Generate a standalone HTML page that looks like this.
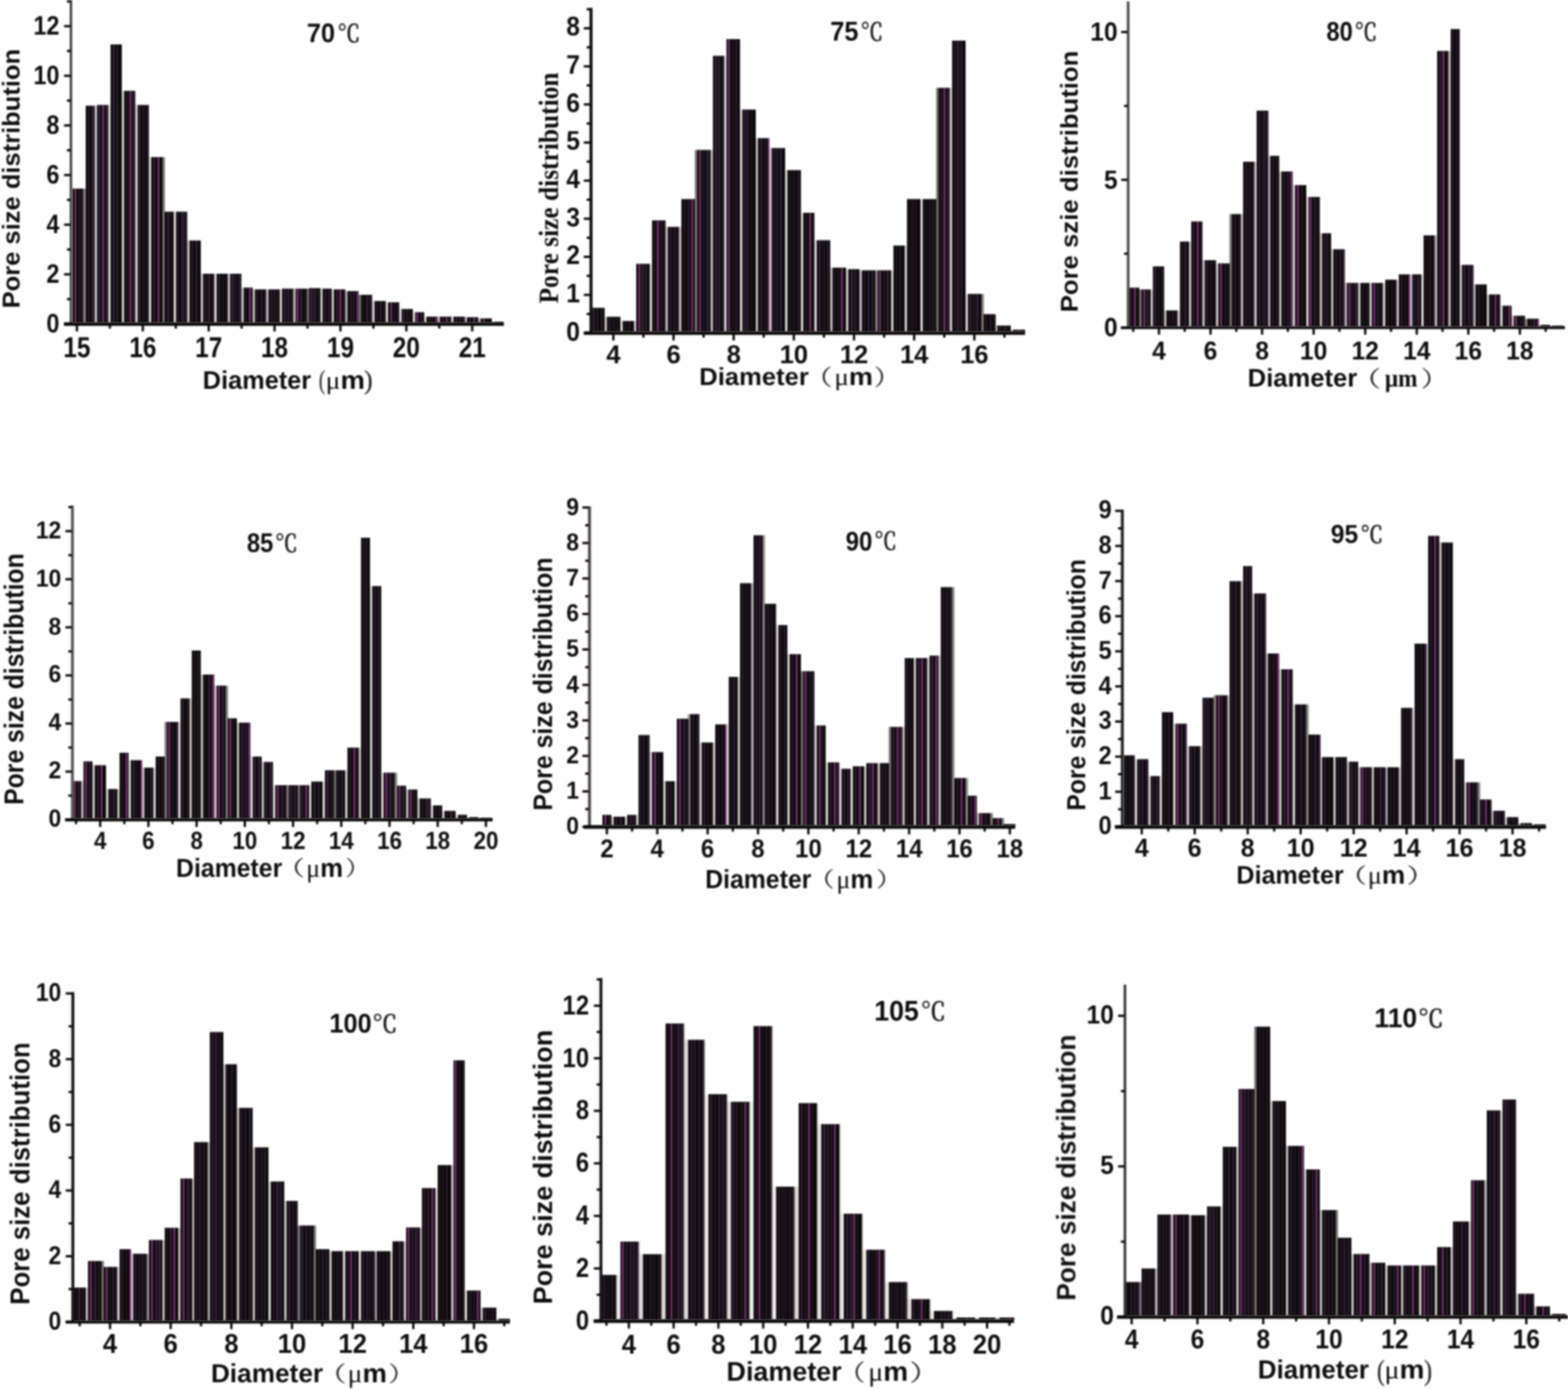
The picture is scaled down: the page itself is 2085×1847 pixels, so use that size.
<!DOCTYPE html>
<html lang="en">
<head>
<meta charset="utf-8">
<title>Pore size distribution at 70-110 &#8451;</title>
<style>
html,body{margin:0;padding:0;background:#fff;}
body{width:2085px;height:1847px;overflow:hidden;font-family:"Liberation Sans","Noto Sans CJK SC",sans-serif;}
svg{display:block;}
svg text{white-space:pre;}
</style>
</head>
<body>
<svg width="2085" height="1847" viewBox="0 0 2085 1847" text-rendering="geometricPrecision">
<defs>
<filter id="soft" filterUnits="userSpaceOnUse" x="0" y="0" width="2085" height="1847" color-interpolation-filters="sRGB"><feGaussianBlur stdDeviation="0.82"/></filter>
<filter id="softer" filterUnits="userSpaceOnUse" x="0" y="0" width="2085" height="1847" color-interpolation-filters="sRGB"><feGaussianBlur stdDeviation="0.85"/></filter>
</defs>
<rect x="0" y="0" width="2085" height="1847" fill="#ffffff"/>
<g filter="url(#soft)">
<g id="bars1">
<rect x="110.80" y="250.81" width="3.40" height="178.49" fill="#8c8987"/>
<rect x="125.80" y="140.59" width="3.40" height="288.71" fill="#cfccca"/>
<rect x="143.80" y="139.60" width="3.40" height="289.70" fill="#e3e0de"/>
<rect x="161.80" y="120.79" width="3.40" height="308.51" fill="#dad7d5"/>
<rect x="179.80" y="139.60" width="3.40" height="289.70" fill="#dad7d5"/>
<rect x="197.80" y="208.90" width="3.40" height="220.40" fill="#e3e0de"/>
<rect x="215.80" y="208.90" width="3.40" height="220.40" fill="#75726f"/>
<rect x="230.80" y="281.50" width="3.40" height="147.80" fill="#e3e0de"/>
<rect x="248.80" y="319.78" width="3.40" height="109.52" fill="#cfccca"/>
<rect x="266.80" y="364.00" width="3.40" height="65.30" fill="#cfccca"/>
<rect x="284.80" y="364.00" width="3.40" height="65.30" fill="#e3e0de"/>
<rect x="302.80" y="364.00" width="3.40" height="65.30" fill="#c6c3c1"/>
<rect x="320.80" y="382.48" width="3.40" height="46.82" fill="#cfccca"/>
<rect x="335.80" y="384.79" width="3.40" height="44.51" fill="#c6c3c1"/>
<rect x="353.80" y="384.79" width="3.40" height="44.51" fill="#c6c3c1"/>
<rect x="371.80" y="384.79" width="3.40" height="44.51" fill="#dad7d5"/>
<rect x="389.80" y="383.80" width="3.40" height="45.50" fill="#c6c3c1"/>
<rect x="407.80" y="383.80" width="3.40" height="45.50" fill="#75726f"/>
<rect x="425.80" y="383.80" width="3.40" height="45.50" fill="#cfccca"/>
<rect x="440.80" y="384.79" width="3.40" height="44.51" fill="#cfccca"/>
<rect x="458.80" y="387.10" width="3.40" height="42.20" fill="#c6c3c1"/>
<rect x="476.80" y="392.05" width="3.40" height="37.25" fill="#75726f"/>
<rect x="494.80" y="400.30" width="3.40" height="29.00" fill="#dad7d5"/>
<rect x="512.80" y="401.95" width="3.40" height="27.35" fill="#e3e0de"/>
<rect x="530.80" y="410.86" width="3.40" height="18.44" fill="#e3e0de"/>
<rect x="548.80" y="415.15" width="3.40" height="14.15" fill="#e3e0de"/>
<rect x="563.80" y="421.09" width="3.40" height="8.21" fill="#e3e0de"/>
<rect x="581.80" y="421.09" width="3.40" height="8.21" fill="#c6c3c1"/>
<rect x="599.80" y="421.09" width="3.40" height="8.21" fill="#dad7d5"/>
<rect x="617.80" y="421.75" width="3.40" height="7.55" fill="#c6c3c1"/>
<rect x="635.80" y="423.40" width="3.40" height="5.90" fill="#c6c3c1"/>
<rect x="653.80" y="428.02" width="3.40" height="1.28" fill="#c6c3c1"/>
<rect x="96.00" y="250.81" width="15.00" height="178.49" fill="#0b090a"/>
<rect x="99.04" y="251.31" width="2.20" height="177.99" fill="#85367f"/>
<rect x="104.32" y="251.31" width="2.20" height="177.99" fill="#2a1a2c"/>
<rect x="108.61" y="251.31" width="2.20" height="177.99" fill="#33203a"/>
<rect x="114.00" y="140.59" width="12.00" height="288.71" fill="#0b090a"/>
<rect x="116.85" y="141.09" width="2.20" height="288.21" fill="#2a1a2c"/>
<rect x="122.09" y="141.09" width="2.80" height="288.21" fill="#3b2340"/>
<rect x="129.00" y="139.60" width="15.00" height="289.70" fill="#0b090a"/>
<rect x="130.62" y="140.10" width="2.80" height="289.20" fill="#33203a"/>
<rect x="135.97" y="140.10" width="2.20" height="289.20" fill="#85367f"/>
<rect x="140.51" y="140.10" width="2.20" height="289.20" fill="#33203a"/>
<rect x="147.00" y="59.08" width="15.00" height="370.22" fill="#0b090a"/>
<rect x="149.74" y="59.58" width="2.80" height="369.72" fill="#33203a"/>
<rect x="155.06" y="59.58" width="1.80" height="369.72" fill="#33203a"/>
<rect x="165.00" y="120.79" width="15.00" height="308.51" fill="#0b090a"/>
<rect x="168.00" y="121.29" width="1.80" height="308.01" fill="#2a1a2c"/>
<rect x="172.35" y="121.29" width="2.20" height="308.01" fill="#85367f"/>
<rect x="176.77" y="121.29" width="2.80" height="308.01" fill="#33203a"/>
<rect x="183.00" y="139.60" width="15.00" height="289.70" fill="#0b090a"/>
<rect x="184.71" y="140.10" width="2.20" height="289.20" fill="#33203a"/>
<rect x="189.77" y="140.10" width="2.20" height="289.20" fill="#241720"/>
<rect x="194.52" y="140.10" width="2.20" height="289.20" fill="#2a1a2c"/>
<rect x="201.00" y="208.90" width="15.00" height="220.40" fill="#0b090a"/>
<rect x="203.97" y="209.40" width="2.20" height="219.90" fill="#33203a"/>
<rect x="209.66" y="209.40" width="2.20" height="219.90" fill="#85367f"/>
<rect x="219.00" y="281.50" width="12.00" height="147.80" fill="#0b090a"/>
<rect x="222.17" y="282.00" width="2.80" height="147.30" fill="#33203a"/>
<rect x="226.67" y="282.00" width="1.80" height="147.30" fill="#241720"/>
<rect x="234.00" y="281.50" width="15.00" height="147.80" fill="#0b090a"/>
<rect x="235.60" y="282.00" width="1.80" height="147.30" fill="#33203a"/>
<rect x="241.39" y="282.00" width="2.80" height="147.30" fill="#3b2340"/>
<rect x="245.96" y="282.00" width="1.80" height="147.30" fill="#33203a"/>
<rect x="252.00" y="319.78" width="15.00" height="109.52" fill="#0b090a"/>
<rect x="254.63" y="320.28" width="1.80" height="109.02" fill="#33203a"/>
<rect x="260.14" y="320.28" width="2.20" height="109.02" fill="#3b2340"/>
<rect x="270.00" y="364.00" width="15.00" height="65.30" fill="#0b090a"/>
<rect x="272.31" y="364.50" width="1.80" height="64.80" fill="#33203a"/>
<rect x="276.55" y="364.50" width="2.80" height="64.80" fill="#3b2340"/>
<rect x="282.10" y="364.50" width="2.80" height="64.80" fill="#2a1a2c"/>
<rect x="288.00" y="364.00" width="15.00" height="65.30" fill="#0b090a"/>
<rect x="290.72" y="364.50" width="1.80" height="64.80" fill="#3b2340"/>
<rect x="295.73" y="364.50" width="1.80" height="64.80" fill="#241720"/>
<rect x="300.54" y="364.50" width="2.20" height="64.80" fill="#2a1a2c"/>
<rect x="306.00" y="364.00" width="15.00" height="65.30" fill="#0b090a"/>
<rect x="307.86" y="364.50" width="2.80" height="64.80" fill="#3b2340"/>
<rect x="312.17" y="364.50" width="2.20" height="64.80" fill="#2a1a2c"/>
<rect x="317.07" y="364.50" width="2.80" height="64.80" fill="#33203a"/>
<rect x="324.00" y="382.48" width="12.00" height="46.82" fill="#0b090a"/>
<rect x="325.80" y="382.98" width="1.80" height="46.32" fill="#241720"/>
<rect x="331.29" y="382.98" width="2.20" height="46.32" fill="#85367f"/>
<rect x="339.00" y="384.79" width="15.00" height="44.51" fill="#0b090a"/>
<rect x="341.16" y="385.29" width="1.80" height="44.01" fill="#33203a"/>
<rect x="346.81" y="385.29" width="2.20" height="44.01" fill="#33203a"/>
<rect x="351.92" y="385.29" width="2.20" height="44.01" fill="#33203a"/>
<rect x="357.00" y="384.79" width="15.00" height="44.51" fill="#0b090a"/>
<rect x="359.07" y="385.29" width="2.80" height="44.01" fill="#2a1a2c"/>
<rect x="363.49" y="385.29" width="2.80" height="44.01" fill="#2a1a2c"/>
<rect x="367.97" y="385.29" width="2.20" height="44.01" fill="#241720"/>
<rect x="375.00" y="383.80" width="15.00" height="45.50" fill="#0b090a"/>
<rect x="377.77" y="384.30" width="2.20" height="45.00" fill="#3b2340"/>
<rect x="382.15" y="384.30" width="2.20" height="45.00" fill="#3b2340"/>
<rect x="386.72" y="384.30" width="2.20" height="45.00" fill="#2a1a2c"/>
<rect x="393.00" y="383.80" width="15.00" height="45.50" fill="#0b090a"/>
<rect x="394.62" y="384.30" width="2.20" height="45.00" fill="#85367f"/>
<rect x="399.02" y="384.30" width="2.80" height="45.00" fill="#33203a"/>
<rect x="404.40" y="384.30" width="2.20" height="45.00" fill="#241720"/>
<rect x="411.00" y="383.14" width="15.00" height="46.16" fill="#0b090a"/>
<rect x="412.68" y="383.64" width="2.80" height="45.66" fill="#3b2340"/>
<rect x="416.92" y="383.64" width="2.80" height="45.66" fill="#33203a"/>
<rect x="422.22" y="383.64" width="1.80" height="45.66" fill="#2a1a2c"/>
<rect x="429.00" y="383.80" width="12.00" height="45.50" fill="#0b090a"/>
<rect x="431.71" y="384.30" width="2.20" height="45.00" fill="#33203a"/>
<rect x="436.92" y="384.30" width="1.80" height="45.00" fill="#3b2340"/>
<rect x="444.00" y="384.79" width="15.00" height="44.51" fill="#0b090a"/>
<rect x="446.99" y="385.29" width="2.20" height="44.01" fill="#33203a"/>
<rect x="451.44" y="385.29" width="2.20" height="44.01" fill="#85367f"/>
<rect x="456.59" y="385.29" width="2.80" height="44.01" fill="#2a1a2c"/>
<rect x="462.00" y="387.10" width="15.00" height="42.20" fill="#0b090a"/>
<rect x="464.74" y="387.60" width="2.80" height="41.70" fill="#2a1a2c"/>
<rect x="469.44" y="387.60" width="1.80" height="41.70" fill="#33203a"/>
<rect x="474.35" y="387.60" width="2.20" height="41.70" fill="#85367f"/>
<rect x="480.00" y="392.05" width="15.00" height="37.25" fill="#0b090a"/>
<rect x="481.63" y="392.55" width="1.80" height="36.75" fill="#241720"/>
<rect x="487.01" y="392.55" width="2.80" height="36.75" fill="#33203a"/>
<rect x="492.55" y="392.55" width="2.20" height="36.75" fill="#3b2340"/>
<rect x="498.00" y="400.30" width="15.00" height="29.00" fill="#0b090a"/>
<rect x="500.40" y="400.80" width="1.80" height="28.50" fill="#2a1a2c"/>
<rect x="505.29" y="400.80" width="1.80" height="28.50" fill="#3b2340"/>
<rect x="509.90" y="400.80" width="2.20" height="28.50" fill="#241720"/>
<rect x="516.00" y="401.95" width="15.00" height="27.35" fill="#0b090a"/>
<rect x="519.12" y="402.45" width="2.20" height="26.85" fill="#85367f"/>
<rect x="524.48" y="402.45" width="1.80" height="26.85" fill="#2a1a2c"/>
<rect x="528.77" y="402.45" width="2.20" height="26.85" fill="#33203a"/>
<rect x="534.00" y="410.86" width="15.00" height="18.44" fill="#0b090a"/>
<rect x="535.79" y="411.36" width="2.20" height="17.94" fill="#3b2340"/>
<rect x="540.33" y="411.36" width="2.80" height="17.94" fill="#2a1a2c"/>
<rect x="545.18" y="411.36" width="1.80" height="17.94" fill="#241720"/>
<rect x="552.00" y="415.15" width="12.00" height="14.15" fill="#0b090a"/>
<rect x="553.66" y="415.65" width="2.20" height="13.65" fill="#85367f"/>
<rect x="559.13" y="415.65" width="2.20" height="13.65" fill="#33203a"/>
<rect x="567.00" y="421.09" width="15.00" height="8.21" fill="#0b090a"/>
<rect x="569.01" y="421.59" width="2.80" height="7.71" fill="#241720"/>
<rect x="573.80" y="421.59" width="1.80" height="7.71" fill="#2a1a2c"/>
<rect x="579.18" y="421.59" width="2.20" height="7.71" fill="#85367f"/>
<rect x="585.00" y="421.09" width="15.00" height="8.21" fill="#0b090a"/>
<rect x="587.84" y="421.59" width="2.20" height="7.71" fill="#33203a"/>
<rect x="592.89" y="421.59" width="2.20" height="7.71" fill="#85367f"/>
<rect x="597.37" y="421.59" width="1.80" height="7.71" fill="#33203a"/>
<rect x="603.00" y="421.09" width="15.00" height="8.21" fill="#0b090a"/>
<rect x="605.87" y="421.59" width="1.80" height="7.71" fill="#3b2340"/>
<rect x="610.72" y="421.59" width="1.80" height="7.71" fill="#3b2340"/>
<rect x="615.68" y="421.59" width="2.80" height="7.71" fill="#3b2340"/>
<rect x="621.00" y="421.75" width="15.00" height="7.55" fill="#0b090a"/>
<rect x="623.71" y="422.25" width="2.20" height="7.05" fill="#3b2340"/>
<rect x="629.48" y="422.25" width="2.20" height="7.05" fill="#85367f"/>
<rect x="634.33" y="422.25" width="1.80" height="7.05" fill="#33203a"/>
<rect x="639.00" y="423.40" width="15.00" height="5.90" fill="#0b090a"/>
<rect x="642.11" y="423.90" width="2.20" height="5.40" fill="#85367f"/>
<rect x="647.63" y="423.90" width="2.20" height="5.40" fill="#241720"/>
<rect x="657.00" y="428.02" width="12.00" height="1.28" fill="#0b090a"/>
<rect x="659.37" y="428.52" width="2.20" height="0.78" fill="#85367f"/>
<rect x="664.36" y="428.52" width="2.80" height="0.78" fill="#3b2340"/>
</g>
<g id="bars2">
<rect x="803.80" y="421.23" width="3.40" height="20.07" fill="#cfccca"/>
<rect x="824.80" y="426.81" width="3.40" height="14.50" fill="#e3e0de"/>
<rect x="842.80" y="426.81" width="3.40" height="14.50" fill="#cfccca"/>
<rect x="863.80" y="350.83" width="3.40" height="90.47" fill="#e3e0de"/>
<rect x="884.80" y="301.70" width="3.40" height="139.60" fill="#cfccca"/>
<rect x="902.80" y="301.70" width="3.40" height="139.60" fill="#c6c3c1"/>
<rect x="923.80" y="199.39" width="3.40" height="241.91" fill="#7f7c7a"/>
<rect x="944.80" y="199.39" width="3.40" height="241.91" fill="#c6c3c1"/>
<rect x="962.80" y="74.28" width="3.40" height="367.02" fill="#e3e0de"/>
<rect x="983.80" y="145.70" width="3.40" height="295.60" fill="#e3e0de"/>
<rect x="1004.80" y="183.69" width="3.40" height="257.62" fill="#c6c3c1"/>
<rect x="1022.80" y="196.85" width="3.40" height="244.45" fill="#dad7d5"/>
<rect x="1043.80" y="226.23" width="3.40" height="215.07" fill="#e3e0de"/>
<rect x="1064.80" y="282.96" width="3.40" height="158.34" fill="#e3e0de"/>
<rect x="1082.80" y="319.43" width="3.40" height="121.87" fill="#e3e0de"/>
<rect x="1103.80" y="355.90" width="3.40" height="85.40" fill="#c6c3c1"/>
<rect x="1124.80" y="357.92" width="3.40" height="83.38" fill="#dad7d5"/>
<rect x="1142.80" y="359.44" width="3.40" height="81.86" fill="#c6c3c1"/>
<rect x="1163.80" y="359.44" width="3.40" height="81.86" fill="#8c8987"/>
<rect x="1184.80" y="359.44" width="3.40" height="81.86" fill="#dad7d5"/>
<rect x="1202.80" y="326.52" width="3.40" height="114.78" fill="#dad7d5"/>
<rect x="1223.80" y="264.72" width="3.40" height="176.58" fill="#e3e0de"/>
<rect x="1244.80" y="116.83" width="3.40" height="324.47" fill="#75726f"/>
<rect x="1262.80" y="116.83" width="3.40" height="324.47" fill="#dad7d5"/>
<rect x="1283.80" y="390.84" width="3.40" height="50.46" fill="#e3e0de"/>
<rect x="1304.80" y="390.84" width="3.40" height="50.46" fill="#7f7c7a"/>
<rect x="1322.80" y="432.88" width="3.40" height="8.42" fill="#e3e0de"/>
<rect x="1343.80" y="438.45" width="3.40" height="2.85" fill="#c6c3c1"/>
<rect x="786.00" y="409.33" width="18.00" height="31.97" fill="#0b090a"/>
<rect x="787.87" y="409.83" width="2.80" height="31.47" fill="#3b2340"/>
<rect x="793.46" y="409.83" width="1.80" height="31.47" fill="#33203a"/>
<rect x="799.18" y="409.83" width="1.80" height="31.47" fill="#33203a"/>
<rect x="807.00" y="421.23" width="18.00" height="20.07" fill="#0b090a"/>
<rect x="809.45" y="421.73" width="2.20" height="19.57" fill="#33203a"/>
<rect x="814.74" y="421.73" width="2.80" height="19.57" fill="#241720"/>
<rect x="820.20" y="421.73" width="1.80" height="19.57" fill="#2a1a2c"/>
<rect x="828.00" y="426.81" width="15.00" height="14.50" fill="#0b090a"/>
<rect x="829.92" y="427.31" width="2.80" height="14.00" fill="#241720"/>
<rect x="835.68" y="427.31" width="1.80" height="14.00" fill="#33203a"/>
<rect x="846.00" y="350.83" width="18.00" height="90.47" fill="#0b090a"/>
<rect x="849.02" y="351.33" width="2.20" height="89.97" fill="#85367f"/>
<rect x="853.31" y="351.33" width="2.80" height="89.97" fill="#3b2340"/>
<rect x="858.25" y="351.33" width="1.80" height="89.97" fill="#3b2340"/>
<rect x="867.00" y="293.09" width="18.00" height="148.21" fill="#0b090a"/>
<rect x="869.12" y="293.59" width="2.20" height="147.71" fill="#241720"/>
<rect x="873.65" y="293.59" width="2.20" height="147.71" fill="#85367f"/>
<rect x="878.03" y="293.59" width="2.20" height="147.71" fill="#2a1a2c"/>
<rect x="882.38" y="293.59" width="2.80" height="147.71" fill="#2a1a2c"/>
<rect x="888.00" y="301.70" width="15.00" height="139.60" fill="#0b090a"/>
<rect x="890.61" y="302.20" width="2.20" height="139.10" fill="#33203a"/>
<rect x="896.10" y="302.20" width="1.80" height="139.10" fill="#3b2340"/>
<rect x="901.05" y="302.20" width="1.80" height="139.10" fill="#3b2340"/>
<rect x="906.00" y="264.72" width="18.00" height="176.58" fill="#0b090a"/>
<rect x="909.10" y="265.22" width="2.20" height="176.08" fill="#241720"/>
<rect x="914.32" y="265.22" width="2.80" height="176.08" fill="#2a1a2c"/>
<rect x="919.35" y="265.22" width="2.20" height="176.08" fill="#85367f"/>
<rect x="927.00" y="199.39" width="18.00" height="241.91" fill="#0b090a"/>
<rect x="929.66" y="199.89" width="2.20" height="241.41" fill="#85367f"/>
<rect x="934.46" y="199.89" width="2.20" height="241.41" fill="#2a1a2c"/>
<rect x="939.74" y="199.89" width="2.80" height="241.41" fill="#3b2340"/>
<rect x="948.00" y="74.28" width="15.00" height="367.02" fill="#0b090a"/>
<rect x="950.60" y="74.78" width="2.80" height="366.52" fill="#3b2340"/>
<rect x="955.28" y="74.78" width="2.20" height="366.52" fill="#3b2340"/>
<rect x="959.87" y="74.78" width="2.20" height="366.52" fill="#2a1a2c"/>
<rect x="966.00" y="52.00" width="18.00" height="389.31" fill="#0b090a"/>
<rect x="968.08" y="52.50" width="2.20" height="388.81" fill="#85367f"/>
<rect x="973.20" y="52.50" width="2.20" height="388.81" fill="#241720"/>
<rect x="978.10" y="52.50" width="1.80" height="388.81" fill="#3b2340"/>
<rect x="987.00" y="145.70" width="18.00" height="295.60" fill="#0b090a"/>
<rect x="988.93" y="146.20" width="2.80" height="295.10" fill="#33203a"/>
<rect x="993.15" y="146.20" width="2.20" height="295.10" fill="#3b2340"/>
<rect x="998.58" y="146.20" width="1.80" height="295.10" fill="#241720"/>
<rect x="1008.00" y="183.69" width="15.00" height="257.62" fill="#0b090a"/>
<rect x="1010.97" y="184.19" width="2.80" height="257.12" fill="#33203a"/>
<rect x="1016.28" y="184.19" width="2.80" height="257.12" fill="#241720"/>
<rect x="1021.02" y="184.19" width="2.20" height="257.12" fill="#85367f"/>
<rect x="1026.00" y="196.85" width="18.00" height="244.45" fill="#0b090a"/>
<rect x="1027.83" y="197.35" width="2.20" height="243.95" fill="#33203a"/>
<rect x="1032.46" y="197.35" width="1.80" height="243.95" fill="#3b2340"/>
<rect x="1037.01" y="197.35" width="2.80" height="243.95" fill="#33203a"/>
<rect x="1047.00" y="226.23" width="18.00" height="215.07" fill="#0b090a"/>
<rect x="1049.77" y="226.73" width="1.80" height="214.57" fill="#2a1a2c"/>
<rect x="1054.69" y="226.73" width="1.80" height="214.57" fill="#2a1a2c"/>
<rect x="1060.33" y="226.73" width="2.80" height="214.57" fill="#2a1a2c"/>
<rect x="1068.00" y="282.96" width="15.00" height="158.34" fill="#0b090a"/>
<rect x="1070.44" y="283.46" width="2.80" height="157.84" fill="#241720"/>
<rect x="1076.10" y="283.46" width="2.20" height="157.84" fill="#85367f"/>
<rect x="1080.47" y="283.46" width="1.80" height="157.84" fill="#241720"/>
<rect x="1086.00" y="319.43" width="18.00" height="121.87" fill="#0b090a"/>
<rect x="1088.74" y="319.93" width="2.80" height="121.37" fill="#33203a"/>
<rect x="1094.53" y="319.93" width="2.20" height="121.37" fill="#2a1a2c"/>
<rect x="1099.85" y="319.93" width="1.80" height="121.37" fill="#3b2340"/>
<rect x="1107.00" y="355.90" width="18.00" height="85.40" fill="#0b090a"/>
<rect x="1108.70" y="356.40" width="1.80" height="84.90" fill="#2a1a2c"/>
<rect x="1114.06" y="356.40" width="2.20" height="84.90" fill="#241720"/>
<rect x="1118.50" y="356.40" width="2.20" height="84.90" fill="#85367f"/>
<rect x="1128.00" y="357.92" width="15.00" height="83.38" fill="#0b090a"/>
<rect x="1131.07" y="358.42" width="2.80" height="82.88" fill="#3b2340"/>
<rect x="1136.39" y="358.42" width="1.80" height="82.88" fill="#3b2340"/>
<rect x="1141.21" y="358.42" width="1.80" height="82.88" fill="#241720"/>
<rect x="1146.00" y="359.44" width="18.00" height="81.86" fill="#0b090a"/>
<rect x="1148.25" y="359.94" width="2.20" height="81.36" fill="#241720"/>
<rect x="1153.93" y="359.94" width="2.20" height="81.36" fill="#33203a"/>
<rect x="1159.34" y="359.94" width="1.80" height="81.36" fill="#3b2340"/>
<rect x="1167.00" y="359.44" width="18.00" height="81.86" fill="#0b090a"/>
<rect x="1168.96" y="359.94" width="2.20" height="81.36" fill="#85367f"/>
<rect x="1174.37" y="359.94" width="2.20" height="81.36" fill="#2a1a2c"/>
<rect x="1178.98" y="359.94" width="2.80" height="81.36" fill="#3b2340"/>
<rect x="1188.00" y="326.52" width="15.00" height="114.78" fill="#0b090a"/>
<rect x="1191.04" y="327.02" width="1.80" height="114.28" fill="#241720"/>
<rect x="1196.32" y="327.02" width="1.80" height="114.28" fill="#2a1a2c"/>
<rect x="1206.00" y="264.72" width="18.00" height="176.58" fill="#0b090a"/>
<rect x="1208.19" y="265.22" width="1.80" height="176.08" fill="#241720"/>
<rect x="1212.46" y="265.22" width="1.80" height="176.08" fill="#2a1a2c"/>
<rect x="1216.67" y="265.22" width="1.80" height="176.08" fill="#241720"/>
<rect x="1227.00" y="264.72" width="18.00" height="176.58" fill="#0b090a"/>
<rect x="1229.94" y="265.22" width="1.80" height="176.08" fill="#241720"/>
<rect x="1235.24" y="265.22" width="2.80" height="176.08" fill="#241720"/>
<rect x="1239.87" y="265.22" width="2.80" height="176.08" fill="#2a1a2c"/>
<rect x="1248.00" y="116.83" width="15.00" height="324.47" fill="#0b090a"/>
<rect x="1250.06" y="117.33" width="2.80" height="323.97" fill="#241720"/>
<rect x="1254.73" y="117.33" width="2.20" height="323.97" fill="#85367f"/>
<rect x="1259.30" y="117.33" width="2.80" height="323.97" fill="#33203a"/>
<rect x="1266.00" y="54.02" width="18.00" height="387.28" fill="#0b090a"/>
<rect x="1267.77" y="54.52" width="2.80" height="386.78" fill="#241720"/>
<rect x="1272.43" y="54.52" width="2.80" height="386.78" fill="#3b2340"/>
<rect x="1277.63" y="54.52" width="1.80" height="386.78" fill="#3b2340"/>
<rect x="1287.00" y="390.84" width="18.00" height="50.46" fill="#0b090a"/>
<rect x="1288.99" y="391.34" width="2.80" height="49.96" fill="#33203a"/>
<rect x="1293.81" y="391.34" width="2.80" height="49.96" fill="#241720"/>
<rect x="1298.17" y="391.34" width="2.80" height="49.96" fill="#33203a"/>
<rect x="1308.00" y="417.69" width="15.00" height="23.61" fill="#0b090a"/>
<rect x="1310.33" y="418.19" width="2.20" height="23.11" fill="#2a1a2c"/>
<rect x="1315.75" y="418.19" width="2.80" height="23.11" fill="#2a1a2c"/>
<rect x="1321.33" y="418.19" width="2.80" height="23.11" fill="#241720"/>
<rect x="1326.00" y="432.88" width="18.00" height="8.42" fill="#0b090a"/>
<rect x="1328.82" y="433.38" width="1.80" height="7.92" fill="#3b2340"/>
<rect x="1334.21" y="433.38" width="2.80" height="7.92" fill="#33203a"/>
<rect x="1338.43" y="433.38" width="2.20" height="7.92" fill="#2a1a2c"/>
<rect x="1347.00" y="438.45" width="16.00" height="2.85" fill="#0b090a"/>
<rect x="1349.50" y="438.95" width="2.80" height="2.35" fill="#33203a"/>
<rect x="1354.01" y="438.95" width="2.20" height="2.35" fill="#85367f"/>
<rect x="1358.29" y="438.95" width="1.80" height="2.35" fill="#241720"/>
</g>
<g id="bars3">
<rect x="1514.80" y="384.89" width="3.40" height="49.71" fill="#75726f"/>
<rect x="1529.80" y="384.89" width="3.40" height="49.71" fill="#cfccca"/>
<rect x="1547.80" y="412.79" width="3.40" height="21.81" fill="#c6c3c1"/>
<rect x="1565.80" y="412.79" width="3.40" height="21.81" fill="#dad7d5"/>
<rect x="1580.80" y="321.22" width="3.40" height="113.38" fill="#cfccca"/>
<rect x="1598.80" y="345.98" width="3.40" height="88.62" fill="#c6c3c1"/>
<rect x="1616.80" y="350.31" width="3.40" height="84.30" fill="#cfccca"/>
<rect x="1634.80" y="284.67" width="3.40" height="149.93" fill="#7f7c7a"/>
<rect x="1649.80" y="284.67" width="3.40" height="149.93" fill="#c6c3c1"/>
<rect x="1667.80" y="215.11" width="3.40" height="219.49" fill="#cfccca"/>
<rect x="1685.80" y="207.25" width="3.40" height="227.35" fill="#cfccca"/>
<rect x="1700.80" y="228.08" width="3.40" height="206.52" fill="#c6c3c1"/>
<rect x="1718.80" y="246.16" width="3.40" height="188.44" fill="#dad7d5"/>
<rect x="1736.80" y="261.88" width="3.40" height="172.72" fill="#dad7d5"/>
<rect x="1754.80" y="310.22" width="3.40" height="124.38" fill="#c6c3c1"/>
<rect x="1769.80" y="331.44" width="3.40" height="103.16" fill="#c6c3c1"/>
<rect x="1787.80" y="376.24" width="3.40" height="58.36" fill="#c6c3c1"/>
<rect x="1805.80" y="376.24" width="3.40" height="58.36" fill="#cfccca"/>
<rect x="1820.80" y="376.24" width="3.40" height="58.36" fill="#cfccca"/>
<rect x="1838.80" y="376.24" width="3.40" height="58.36" fill="#dad7d5"/>
<rect x="1856.80" y="371.92" width="3.40" height="62.68" fill="#e3e0de"/>
<rect x="1874.80" y="364.85" width="3.40" height="69.75" fill="#c6c3c1"/>
<rect x="1889.80" y="364.85" width="3.40" height="69.75" fill="#e3e0de"/>
<rect x="1907.80" y="312.97" width="3.40" height="121.63" fill="#c6c3c1"/>
<rect x="1925.80" y="67.74" width="3.40" height="366.86" fill="#c6c3c1"/>
<rect x="1940.80" y="352.27" width="3.40" height="82.33" fill="#cfccca"/>
<rect x="1958.80" y="378.21" width="3.40" height="56.39" fill="#cfccca"/>
<rect x="1976.80" y="391.57" width="3.40" height="43.03" fill="#cfccca"/>
<rect x="1994.80" y="406.50" width="3.40" height="28.10" fill="#e3e0de"/>
<rect x="2009.80" y="419.87" width="3.40" height="14.73" fill="#c6c3c1"/>
<rect x="2027.80" y="423.80" width="3.40" height="10.80" fill="#8c8987"/>
<rect x="2045.80" y="432.05" width="3.40" height="2.55" fill="#cfccca"/>
<rect x="2060.80" y="433.23" width="3.40" height="1.37" fill="#c6c3c1"/>
<rect x="1500.30" y="382.53" width="14.70" height="52.07" fill="#0b090a"/>
<rect x="1503.06" y="383.03" width="1.80" height="51.57" fill="#3b2340"/>
<rect x="1507.98" y="383.03" width="2.20" height="51.57" fill="#85367f"/>
<rect x="1513.24" y="383.03" width="1.80" height="51.57" fill="#241720"/>
<rect x="1518.00" y="384.89" width="12.00" height="49.71" fill="#0b090a"/>
<rect x="1520.56" y="385.39" width="2.20" height="49.21" fill="#85367f"/>
<rect x="1524.89" y="385.39" width="2.20" height="49.21" fill="#3b2340"/>
<rect x="1533.00" y="354.24" width="15.00" height="80.37" fill="#0b090a"/>
<rect x="1534.79" y="354.74" width="2.20" height="79.87" fill="#3b2340"/>
<rect x="1539.42" y="354.74" width="2.20" height="79.87" fill="#241720"/>
<rect x="1544.81" y="354.74" width="2.20" height="79.87" fill="#2a1a2c"/>
<rect x="1551.00" y="412.79" width="15.00" height="21.81" fill="#0b090a"/>
<rect x="1553.93" y="413.29" width="1.80" height="21.31" fill="#241720"/>
<rect x="1558.43" y="413.29" width="2.20" height="21.31" fill="#2a1a2c"/>
<rect x="1563.66" y="413.29" width="1.80" height="21.31" fill="#3b2340"/>
<rect x="1569.00" y="321.22" width="12.00" height="113.38" fill="#0b090a"/>
<rect x="1570.87" y="321.72" width="2.20" height="112.88" fill="#241720"/>
<rect x="1575.30" y="321.72" width="2.20" height="112.88" fill="#3b2340"/>
<rect x="1584.00" y="294.50" width="15.00" height="140.10" fill="#0b090a"/>
<rect x="1585.90" y="295.00" width="2.80" height="139.60" fill="#2a1a2c"/>
<rect x="1591.63" y="295.00" width="2.20" height="139.60" fill="#85367f"/>
<rect x="1596.85" y="295.00" width="2.20" height="139.60" fill="#33203a"/>
<rect x="1602.00" y="345.98" width="15.00" height="88.62" fill="#0b090a"/>
<rect x="1604.04" y="346.48" width="2.80" height="88.12" fill="#2a1a2c"/>
<rect x="1609.63" y="346.48" width="1.80" height="88.12" fill="#2a1a2c"/>
<rect x="1614.90" y="346.48" width="1.80" height="88.12" fill="#2a1a2c"/>
<rect x="1620.00" y="350.31" width="15.00" height="84.30" fill="#0b090a"/>
<rect x="1622.56" y="350.81" width="2.20" height="83.80" fill="#85367f"/>
<rect x="1628.29" y="350.81" width="2.20" height="83.80" fill="#2a1a2c"/>
<rect x="1633.24" y="350.81" width="2.20" height="83.80" fill="#2a1a2c"/>
<rect x="1638.00" y="284.67" width="12.00" height="149.93" fill="#0b090a"/>
<rect x="1640.74" y="285.17" width="2.80" height="149.43" fill="#2a1a2c"/>
<rect x="1646.42" y="285.17" width="2.20" height="149.43" fill="#2a1a2c"/>
<rect x="1653.00" y="215.11" width="15.00" height="219.49" fill="#0b090a"/>
<rect x="1655.81" y="215.61" width="2.20" height="218.99" fill="#33203a"/>
<rect x="1660.42" y="215.61" width="2.20" height="218.99" fill="#2a1a2c"/>
<rect x="1665.38" y="215.61" width="2.20" height="218.99" fill="#33203a"/>
<rect x="1671.00" y="147.12" width="15.00" height="287.48" fill="#0b090a"/>
<rect x="1674.00" y="147.62" width="2.20" height="286.98" fill="#33203a"/>
<rect x="1679.47" y="147.62" width="2.80" height="286.98" fill="#33203a"/>
<rect x="1683.87" y="147.62" width="2.80" height="286.98" fill="#2a1a2c"/>
<rect x="1689.00" y="207.25" width="12.00" height="227.35" fill="#0b090a"/>
<rect x="1691.84" y="207.75" width="2.20" height="226.85" fill="#2a1a2c"/>
<rect x="1697.06" y="207.75" width="2.20" height="226.85" fill="#2a1a2c"/>
<rect x="1704.00" y="228.08" width="15.00" height="206.52" fill="#0b090a"/>
<rect x="1706.80" y="228.58" width="2.20" height="206.02" fill="#2a1a2c"/>
<rect x="1711.33" y="228.58" width="2.80" height="206.02" fill="#2a1a2c"/>
<rect x="1716.16" y="228.58" width="2.20" height="206.02" fill="#85367f"/>
<rect x="1722.00" y="246.16" width="15.00" height="188.44" fill="#0b090a"/>
<rect x="1724.66" y="246.66" width="2.20" height="187.94" fill="#85367f"/>
<rect x="1729.81" y="246.66" width="2.80" height="187.94" fill="#241720"/>
<rect x="1740.00" y="261.88" width="15.00" height="172.72" fill="#0b090a"/>
<rect x="1741.63" y="262.38" width="2.20" height="172.22" fill="#85367f"/>
<rect x="1747.16" y="262.38" width="2.20" height="172.22" fill="#33203a"/>
<rect x="1751.45" y="262.38" width="2.20" height="172.22" fill="#241720"/>
<rect x="1758.00" y="310.22" width="12.00" height="124.38" fill="#0b090a"/>
<rect x="1759.92" y="310.72" width="2.80" height="123.88" fill="#2a1a2c"/>
<rect x="1764.52" y="310.72" width="1.80" height="123.88" fill="#3b2340"/>
<rect x="1773.00" y="331.44" width="15.00" height="103.16" fill="#0b090a"/>
<rect x="1775.90" y="331.94" width="1.80" height="102.66" fill="#33203a"/>
<rect x="1781.12" y="331.94" width="2.20" height="102.66" fill="#33203a"/>
<rect x="1785.50" y="331.94" width="2.80" height="102.66" fill="#3b2340"/>
<rect x="1791.00" y="376.24" width="15.00" height="58.36" fill="#0b090a"/>
<rect x="1793.42" y="376.74" width="2.20" height="57.86" fill="#85367f"/>
<rect x="1797.66" y="376.74" width="1.80" height="57.86" fill="#2a1a2c"/>
<rect x="1802.24" y="376.74" width="2.80" height="57.86" fill="#3b2340"/>
<rect x="1809.00" y="376.24" width="12.00" height="58.36" fill="#0b090a"/>
<rect x="1811.70" y="376.74" width="2.20" height="57.86" fill="#241720"/>
<rect x="1817.05" y="376.74" width="1.80" height="57.86" fill="#2a1a2c"/>
<rect x="1824.00" y="376.24" width="15.00" height="58.36" fill="#0b090a"/>
<rect x="1826.38" y="376.74" width="2.20" height="57.86" fill="#85367f"/>
<rect x="1831.28" y="376.74" width="2.20" height="57.86" fill="#33203a"/>
<rect x="1836.99" y="376.74" width="1.80" height="57.86" fill="#3b2340"/>
<rect x="1842.00" y="371.92" width="15.00" height="62.68" fill="#0b090a"/>
<rect x="1844.85" y="372.42" width="1.80" height="62.18" fill="#241720"/>
<rect x="1850.31" y="372.42" width="1.80" height="62.18" fill="#241720"/>
<rect x="1855.26" y="372.42" width="2.20" height="62.18" fill="#33203a"/>
<rect x="1860.00" y="364.85" width="15.00" height="69.75" fill="#0b090a"/>
<rect x="1862.78" y="365.35" width="2.20" height="69.25" fill="#33203a"/>
<rect x="1868.14" y="365.35" width="1.80" height="69.25" fill="#2a1a2c"/>
<rect x="1872.95" y="365.35" width="2.20" height="69.25" fill="#85367f"/>
<rect x="1878.00" y="364.85" width="12.00" height="69.75" fill="#0b090a"/>
<rect x="1880.13" y="365.35" width="1.80" height="69.25" fill="#33203a"/>
<rect x="1884.46" y="365.35" width="2.80" height="69.25" fill="#3b2340"/>
<rect x="1893.00" y="312.97" width="15.00" height="121.63" fill="#0b090a"/>
<rect x="1895.73" y="313.47" width="2.20" height="121.13" fill="#241720"/>
<rect x="1900.53" y="313.47" width="1.80" height="121.13" fill="#33203a"/>
<rect x="1905.92" y="313.47" width="2.20" height="121.13" fill="#3b2340"/>
<rect x="1911.00" y="67.74" width="15.00" height="366.86" fill="#0b090a"/>
<rect x="1913.66" y="68.24" width="2.20" height="366.36" fill="#3b2340"/>
<rect x="1918.16" y="68.24" width="2.20" height="366.36" fill="#85367f"/>
<rect x="1923.61" y="68.24" width="1.80" height="366.36" fill="#241720"/>
<rect x="1929.00" y="38.66" width="12.00" height="395.94" fill="#0b090a"/>
<rect x="1931.21" y="39.16" width="1.80" height="395.44" fill="#2a1a2c"/>
<rect x="1936.09" y="39.16" width="2.20" height="395.44" fill="#2a1a2c"/>
<rect x="1944.00" y="352.27" width="15.00" height="82.33" fill="#0b090a"/>
<rect x="1946.46" y="352.77" width="2.20" height="81.83" fill="#3b2340"/>
<rect x="1952.01" y="352.77" width="2.80" height="81.83" fill="#33203a"/>
<rect x="1956.73" y="352.77" width="2.80" height="81.83" fill="#3b2340"/>
<rect x="1962.00" y="378.21" width="15.00" height="56.39" fill="#0b090a"/>
<rect x="1965.19" y="378.71" width="2.80" height="55.89" fill="#2a1a2c"/>
<rect x="1970.68" y="378.71" width="1.80" height="55.89" fill="#241720"/>
<rect x="1980.00" y="391.57" width="15.00" height="43.03" fill="#0b090a"/>
<rect x="1982.33" y="392.07" width="1.80" height="42.53" fill="#2a1a2c"/>
<rect x="1987.46" y="392.07" width="2.20" height="42.53" fill="#85367f"/>
<rect x="1992.91" y="392.07" width="2.20" height="42.53" fill="#33203a"/>
<rect x="1998.00" y="406.50" width="12.00" height="28.10" fill="#0b090a"/>
<rect x="2000.55" y="407.00" width="2.20" height="27.60" fill="#2a1a2c"/>
<rect x="2005.91" y="407.00" width="2.20" height="27.60" fill="#85367f"/>
<rect x="2013.00" y="419.87" width="15.00" height="14.73" fill="#0b090a"/>
<rect x="2014.89" y="420.37" width="2.20" height="14.23" fill="#85367f"/>
<rect x="2020.29" y="420.37" width="2.20" height="14.23" fill="#241720"/>
<rect x="2024.70" y="420.37" width="2.80" height="14.23" fill="#33203a"/>
<rect x="2031.00" y="423.80" width="15.00" height="10.80" fill="#0b090a"/>
<rect x="2034.14" y="424.30" width="2.80" height="10.30" fill="#241720"/>
<rect x="2038.82" y="424.30" width="2.80" height="10.30" fill="#3b2340"/>
<rect x="2044.34" y="424.30" width="2.20" height="10.30" fill="#85367f"/>
<rect x="2049.00" y="432.05" width="12.00" height="2.55" fill="#0b090a"/>
<rect x="2050.99" y="432.55" width="2.80" height="2.05" fill="#3b2340"/>
<rect x="2055.56" y="432.55" width="2.20" height="2.05" fill="#3b2340"/>
<rect x="2064.00" y="433.23" width="15.00" height="1.37" fill="#0b090a"/>
<rect x="2065.93" y="433.73" width="2.20" height="0.87" fill="#85367f"/>
<rect x="2070.76" y="433.73" width="2.20" height="0.87" fill="#3b2340"/>
<rect x="2075.95" y="433.73" width="2.80" height="0.87" fill="#3b2340"/>
</g>
<g id="bars4">
<rect x="107.80" y="1038.67" width="3.40" height="50.08" fill="#c6c3c1"/>
<rect x="122.80" y="1017.56" width="3.40" height="71.19" fill="#cfccca"/>
<rect x="140.80" y="1049.23" width="3.40" height="39.52" fill="#dad7d5"/>
<rect x="155.80" y="1049.23" width="3.40" height="39.52" fill="#c6c3c1"/>
<rect x="170.80" y="1010.85" width="3.40" height="77.90" fill="#dad7d5"/>
<rect x="188.80" y="1020.76" width="3.40" height="67.99" fill="#cfccca"/>
<rect x="203.80" y="1020.76" width="3.40" height="67.99" fill="#dad7d5"/>
<rect x="218.80" y="960.00" width="3.40" height="128.75" fill="#7f7c7a"/>
<rect x="236.80" y="960.00" width="3.40" height="128.75" fill="#e3e0de"/>
<rect x="251.80" y="928.66" width="3.40" height="160.09" fill="#c6c3c1"/>
<rect x="266.80" y="897.00" width="3.40" height="191.75" fill="#c6c3c1"/>
<rect x="284.80" y="911.71" width="3.40" height="177.04" fill="#cfccca"/>
<rect x="299.80" y="911.71" width="3.40" height="177.04" fill="#7f7c7a"/>
<rect x="314.80" y="960.96" width="3.40" height="127.79" fill="#c6c3c1"/>
<rect x="332.80" y="1006.05" width="3.40" height="82.70" fill="#e3e0de"/>
<rect x="347.80" y="1013.25" width="3.40" height="75.50" fill="#c6c3c1"/>
<rect x="362.80" y="1044.11" width="3.40" height="44.64" fill="#e3e0de"/>
<rect x="380.80" y="1044.11" width="3.40" height="44.64" fill="#7f7c7a"/>
<rect x="395.80" y="1044.11" width="3.40" height="44.64" fill="#75726f"/>
<rect x="410.80" y="1044.11" width="3.40" height="44.64" fill="#dad7d5"/>
<rect x="428.80" y="1039.31" width="3.40" height="49.44" fill="#e3e0de"/>
<rect x="443.80" y="1024.28" width="3.40" height="64.47" fill="#75726f"/>
<rect x="458.80" y="1024.28" width="3.40" height="64.47" fill="#dad7d5"/>
<rect x="476.80" y="994.22" width="3.40" height="94.53" fill="#dad7d5"/>
<rect x="491.80" y="779.31" width="3.40" height="309.44" fill="#dad7d5"/>
<rect x="506.80" y="1027.48" width="3.40" height="61.27" fill="#e3e0de"/>
<rect x="524.80" y="1027.48" width="3.40" height="61.27" fill="#8c8987"/>
<rect x="539.80" y="1049.86" width="3.40" height="38.89" fill="#c6c3c1"/>
<rect x="554.80" y="1061.70" width="3.40" height="27.05" fill="#c6c3c1"/>
<rect x="572.80" y="1070.97" width="3.40" height="17.78" fill="#dad7d5"/>
<rect x="587.80" y="1078.33" width="3.40" height="10.42" fill="#dad7d5"/>
<rect x="605.80" y="1083.44" width="3.40" height="5.31" fill="#e3e0de"/>
<rect x="620.80" y="1086.64" width="3.40" height="2.11" fill="#cfccca"/>
<rect x="635.80" y="1087.60" width="3.40" height="1.15" fill="#cfccca"/>
<rect x="96.50" y="1038.67" width="11.50" height="50.08" fill="#0b090a"/>
<rect x="98.47" y="1039.17" width="2.20" height="49.58" fill="#85367f"/>
<rect x="103.70" y="1039.17" width="2.20" height="49.58" fill="#33203a"/>
<rect x="111.00" y="1012.45" width="12.00" height="76.30" fill="#0b090a"/>
<rect x="113.13" y="1012.95" width="2.20" height="75.80" fill="#85367f"/>
<rect x="117.85" y="1012.95" width="2.80" height="75.80" fill="#2a1a2c"/>
<rect x="126.00" y="1017.56" width="15.00" height="71.19" fill="#0b090a"/>
<rect x="129.17" y="1018.06" width="1.80" height="70.69" fill="#3b2340"/>
<rect x="133.95" y="1018.06" width="2.20" height="70.69" fill="#85367f"/>
<rect x="144.00" y="1049.23" width="12.00" height="39.52" fill="#0b090a"/>
<rect x="145.65" y="1049.73" width="2.20" height="39.02" fill="#2a1a2c"/>
<rect x="150.38" y="1049.73" width="2.80" height="39.02" fill="#33203a"/>
<rect x="159.00" y="1000.94" width="12.00" height="87.81" fill="#0b090a"/>
<rect x="161.59" y="1001.44" width="2.20" height="87.31" fill="#241720"/>
<rect x="167.11" y="1001.44" width="2.20" height="87.31" fill="#85367f"/>
<rect x="174.00" y="1010.85" width="15.00" height="77.90" fill="#0b090a"/>
<rect x="176.90" y="1011.35" width="2.20" height="77.40" fill="#3b2340"/>
<rect x="181.53" y="1011.35" width="1.80" height="77.40" fill="#241720"/>
<rect x="187.02" y="1011.35" width="2.20" height="77.40" fill="#85367f"/>
<rect x="192.00" y="1020.76" width="12.00" height="67.99" fill="#0b090a"/>
<rect x="194.88" y="1021.26" width="1.80" height="67.49" fill="#2a1a2c"/>
<rect x="199.81" y="1021.26" width="2.20" height="67.49" fill="#33203a"/>
<rect x="207.00" y="1006.05" width="12.00" height="82.70" fill="#0b090a"/>
<rect x="210.07" y="1006.55" width="1.80" height="82.20" fill="#2a1a2c"/>
<rect x="215.23" y="1006.55" width="2.80" height="82.20" fill="#241720"/>
<rect x="222.00" y="960.00" width="15.00" height="128.75" fill="#0b090a"/>
<rect x="224.02" y="960.50" width="2.20" height="128.25" fill="#85367f"/>
<rect x="229.20" y="960.50" width="1.80" height="128.25" fill="#2a1a2c"/>
<rect x="234.25" y="960.50" width="1.80" height="128.25" fill="#3b2340"/>
<rect x="240.00" y="928.66" width="12.00" height="160.09" fill="#0b090a"/>
<rect x="242.01" y="929.16" width="1.80" height="159.59" fill="#3b2340"/>
<rect x="247.42" y="929.16" width="2.80" height="159.59" fill="#241720"/>
<rect x="255.00" y="865.02" width="12.00" height="223.73" fill="#0b090a"/>
<rect x="257.26" y="865.52" width="2.80" height="223.23" fill="#241720"/>
<rect x="262.62" y="865.52" width="1.80" height="223.23" fill="#3b2340"/>
<rect x="270.00" y="897.00" width="15.00" height="191.75" fill="#0b090a"/>
<rect x="272.06" y="897.50" width="1.80" height="191.25" fill="#241720"/>
<rect x="277.00" y="897.50" width="2.80" height="191.25" fill="#33203a"/>
<rect x="282.25" y="897.50" width="2.20" height="191.25" fill="#85367f"/>
<rect x="288.00" y="911.71" width="12.00" height="177.04" fill="#0b090a"/>
<rect x="289.82" y="912.21" width="2.20" height="176.54" fill="#85367f"/>
<rect x="294.99" y="912.21" width="2.20" height="176.54" fill="#3b2340"/>
<rect x="303.00" y="955.20" width="12.00" height="133.55" fill="#0b090a"/>
<rect x="305.20" y="955.70" width="2.20" height="133.05" fill="#85367f"/>
<rect x="309.51" y="955.70" width="2.20" height="133.05" fill="#241720"/>
<rect x="318.00" y="960.96" width="15.00" height="127.79" fill="#0b090a"/>
<rect x="321.08" y="961.46" width="2.20" height="127.29" fill="#3b2340"/>
<rect x="325.44" y="961.46" width="2.20" height="127.29" fill="#33203a"/>
<rect x="330.12" y="961.46" width="2.20" height="127.29" fill="#85367f"/>
<rect x="336.00" y="1006.05" width="12.00" height="82.70" fill="#0b090a"/>
<rect x="337.85" y="1006.55" width="2.20" height="82.20" fill="#3b2340"/>
<rect x="343.36" y="1006.55" width="2.80" height="82.20" fill="#3b2340"/>
<rect x="351.00" y="1013.25" width="12.00" height="75.50" fill="#0b090a"/>
<rect x="352.83" y="1013.75" width="2.20" height="75.00" fill="#33203a"/>
<rect x="358.59" y="1013.75" width="2.80" height="75.00" fill="#3b2340"/>
<rect x="366.00" y="1044.11" width="15.00" height="44.64" fill="#0b090a"/>
<rect x="368.28" y="1044.61" width="2.20" height="44.14" fill="#85367f"/>
<rect x="373.63" y="1044.61" width="2.80" height="44.14" fill="#33203a"/>
<rect x="378.91" y="1044.61" width="2.20" height="44.14" fill="#2a1a2c"/>
<rect x="384.00" y="1044.11" width="12.00" height="44.64" fill="#0b090a"/>
<rect x="385.63" y="1044.61" width="2.80" height="44.14" fill="#33203a"/>
<rect x="391.14" y="1044.61" width="2.20" height="44.14" fill="#3b2340"/>
<rect x="399.00" y="1044.11" width="12.00" height="44.64" fill="#0b090a"/>
<rect x="400.92" y="1044.61" width="1.80" height="44.14" fill="#3b2340"/>
<rect x="406.05" y="1044.61" width="2.20" height="44.14" fill="#85367f"/>
<rect x="414.00" y="1039.31" width="15.00" height="49.44" fill="#0b090a"/>
<rect x="417.20" y="1039.81" width="2.20" height="48.94" fill="#3b2340"/>
<rect x="422.86" y="1039.81" width="1.80" height="48.94" fill="#3b2340"/>
<rect x="432.00" y="1024.28" width="12.00" height="64.47" fill="#0b090a"/>
<rect x="434.14" y="1024.78" width="2.80" height="63.97" fill="#3b2340"/>
<rect x="439.54" y="1024.78" width="2.80" height="63.97" fill="#2a1a2c"/>
<rect x="447.00" y="1024.28" width="12.00" height="64.47" fill="#0b090a"/>
<rect x="448.97" y="1024.78" width="2.80" height="63.97" fill="#241720"/>
<rect x="454.09" y="1024.78" width="2.20" height="63.97" fill="#33203a"/>
<rect x="462.00" y="994.22" width="15.00" height="94.53" fill="#0b090a"/>
<rect x="464.73" y="994.72" width="2.20" height="94.03" fill="#2a1a2c"/>
<rect x="470.07" y="994.72" width="2.20" height="94.03" fill="#85367f"/>
<rect x="474.56" y="994.72" width="2.80" height="94.03" fill="#241720"/>
<rect x="480.00" y="715.03" width="12.00" height="373.72" fill="#0b090a"/>
<rect x="481.98" y="715.53" width="2.80" height="373.22" fill="#241720"/>
<rect x="486.50" y="715.53" width="1.80" height="373.22" fill="#33203a"/>
<rect x="495.00" y="779.31" width="12.00" height="309.44" fill="#0b090a"/>
<rect x="497.44" y="779.81" width="2.80" height="308.94" fill="#2a1a2c"/>
<rect x="502.63" y="779.81" width="2.20" height="308.94" fill="#33203a"/>
<rect x="510.00" y="1027.48" width="15.00" height="61.27" fill="#0b090a"/>
<rect x="512.64" y="1027.98" width="2.20" height="60.77" fill="#85367f"/>
<rect x="517.57" y="1027.98" width="2.80" height="60.77" fill="#3b2340"/>
<rect x="521.97" y="1027.98" width="2.20" height="60.77" fill="#241720"/>
<rect x="528.00" y="1044.75" width="12.00" height="44.00" fill="#0b090a"/>
<rect x="530.31" y="1045.25" width="2.20" height="43.50" fill="#85367f"/>
<rect x="534.99" y="1045.25" width="2.80" height="43.50" fill="#33203a"/>
<rect x="543.00" y="1049.86" width="12.00" height="38.89" fill="#0b090a"/>
<rect x="545.09" y="1050.36" width="2.20" height="38.39" fill="#85367f"/>
<rect x="549.43" y="1050.36" width="2.80" height="38.39" fill="#241720"/>
<rect x="558.00" y="1061.70" width="15.00" height="27.05" fill="#0b090a"/>
<rect x="560.41" y="1062.20" width="2.80" height="26.55" fill="#241720"/>
<rect x="565.86" y="1062.20" width="2.80" height="26.55" fill="#3b2340"/>
<rect x="570.09" y="1062.20" width="2.20" height="26.55" fill="#3b2340"/>
<rect x="576.00" y="1070.97" width="12.00" height="17.78" fill="#0b090a"/>
<rect x="578.98" y="1071.47" width="1.80" height="17.28" fill="#2a1a2c"/>
<rect x="583.32" y="1071.47" width="2.80" height="17.28" fill="#241720"/>
<rect x="591.00" y="1078.33" width="15.00" height="10.42" fill="#0b090a"/>
<rect x="592.97" y="1078.83" width="1.80" height="9.92" fill="#241720"/>
<rect x="598.29" y="1078.83" width="2.80" height="9.92" fill="#3b2340"/>
<rect x="603.88" y="1078.83" width="1.80" height="9.92" fill="#2a1a2c"/>
<rect x="609.00" y="1083.44" width="12.00" height="5.31" fill="#0b090a"/>
<rect x="612.09" y="1083.94" width="2.80" height="4.81" fill="#241720"/>
<rect x="616.55" y="1083.94" width="2.80" height="4.81" fill="#241720"/>
<rect x="624.00" y="1086.64" width="12.00" height="2.11" fill="#0b090a"/>
<rect x="626.11" y="1087.14" width="2.80" height="1.61" fill="#2a1a2c"/>
<rect x="630.84" y="1087.14" width="2.80" height="1.61" fill="#241720"/>
<rect x="639.00" y="1087.60" width="15.00" height="1.15" fill="#0b090a"/>
<rect x="642.07" y="1088.10" width="2.80" height="0.65" fill="#33203a"/>
<rect x="646.43" y="1088.10" width="2.20" height="0.65" fill="#85367f"/>
<rect x="651.74" y="1088.10" width="2.20" height="0.65" fill="#33203a"/>
</g>
<g id="bars5">
<rect x="812.80" y="1085.96" width="3.40" height="11.94" fill="#cfccca"/>
<rect x="830.80" y="1085.96" width="3.40" height="11.94" fill="#cfccca"/>
<rect x="845.80" y="1083.60" width="3.40" height="14.30" fill="#dad7d5"/>
<rect x="863.80" y="1000.09" width="3.40" height="97.81" fill="#dad7d5"/>
<rect x="881.80" y="1038.78" width="3.40" height="59.12" fill="#dad7d5"/>
<rect x="896.80" y="1038.78" width="3.40" height="59.12" fill="#dad7d5"/>
<rect x="914.80" y="949.61" width="3.40" height="148.29" fill="#8c8987"/>
<rect x="929.80" y="987.36" width="3.40" height="110.54" fill="#dad7d5"/>
<rect x="947.80" y="987.36" width="3.40" height="110.54" fill="#e3e0de"/>
<rect x="965.80" y="963.29" width="3.40" height="134.61" fill="#e3e0de"/>
<rect x="980.80" y="900.07" width="3.40" height="197.83" fill="#cfccca"/>
<rect x="998.80" y="775.52" width="3.40" height="322.38" fill="#c6c3c1"/>
<rect x="1013.80" y="711.82" width="3.40" height="386.08" fill="#8c8987"/>
<rect x="1031.80" y="831.19" width="3.40" height="266.71" fill="#e3e0de"/>
<rect x="1046.80" y="869.88" width="3.40" height="228.02" fill="#dad7d5"/>
<rect x="1064.80" y="892.52" width="3.40" height="205.38" fill="#75726f"/>
<rect x="1082.80" y="964.71" width="3.40" height="133.19" fill="#dad7d5"/>
<rect x="1097.80" y="1013.78" width="3.40" height="84.12" fill="#e3e0de"/>
<rect x="1115.80" y="1022.27" width="3.40" height="75.63" fill="#e3e0de"/>
<rect x="1130.80" y="1022.27" width="3.40" height="75.63" fill="#e3e0de"/>
<rect x="1148.80" y="1018.97" width="3.40" height="78.93" fill="#cfccca"/>
<rect x="1166.80" y="1014.72" width="3.40" height="83.18" fill="#dad7d5"/>
<rect x="1181.80" y="966.60" width="3.40" height="131.30" fill="#75726f"/>
<rect x="1199.80" y="966.60" width="3.40" height="131.30" fill="#c6c3c1"/>
<rect x="1214.80" y="875.07" width="3.40" height="222.83" fill="#cfccca"/>
<rect x="1232.80" y="875.07" width="3.40" height="222.83" fill="#cfccca"/>
<rect x="1247.80" y="871.76" width="3.40" height="226.14" fill="#cfccca"/>
<rect x="1265.80" y="780.71" width="3.40" height="317.19" fill="#8c8987"/>
<rect x="1283.80" y="1034.54" width="3.40" height="63.36" fill="#8c8987"/>
<rect x="1298.80" y="1081.24" width="3.40" height="16.66" fill="#c6c3c1"/>
<rect x="1316.80" y="1081.24" width="3.40" height="16.66" fill="#7f7c7a"/>
<rect x="1331.80" y="1087.85" width="3.40" height="10.05" fill="#7f7c7a"/>
<rect x="801.00" y="1083.60" width="12.00" height="14.30" fill="#0b090a"/>
<rect x="803.90" y="1084.10" width="2.20" height="13.80" fill="#85367f"/>
<rect x="808.86" y="1084.10" width="2.80" height="13.80" fill="#241720"/>
<rect x="816.00" y="1085.96" width="15.00" height="11.94" fill="#0b090a"/>
<rect x="818.48" y="1086.46" width="2.20" height="11.44" fill="#33203a"/>
<rect x="824.02" y="1086.46" width="2.80" height="11.44" fill="#33203a"/>
<rect x="834.00" y="1083.60" width="12.00" height="14.30" fill="#0b090a"/>
<rect x="837.02" y="1084.10" width="2.80" height="13.80" fill="#33203a"/>
<rect x="842.15" y="1084.10" width="1.80" height="13.80" fill="#3b2340"/>
<rect x="849.00" y="977.45" width="15.00" height="120.45" fill="#0b090a"/>
<rect x="850.92" y="977.95" width="1.80" height="119.95" fill="#33203a"/>
<rect x="855.43" y="977.95" width="1.80" height="119.95" fill="#33203a"/>
<rect x="860.93" y="977.95" width="2.80" height="119.95" fill="#3b2340"/>
<rect x="867.00" y="1000.09" width="15.00" height="97.81" fill="#0b090a"/>
<rect x="869.88" y="1000.59" width="2.20" height="97.31" fill="#85367f"/>
<rect x="875.43" y="1000.59" width="1.80" height="97.31" fill="#241720"/>
<rect x="885.00" y="1038.78" width="12.00" height="59.12" fill="#0b090a"/>
<rect x="886.94" y="1039.28" width="2.80" height="58.62" fill="#2a1a2c"/>
<rect x="891.52" y="1039.28" width="1.80" height="58.62" fill="#2a1a2c"/>
<rect x="900.00" y="955.74" width="15.00" height="142.16" fill="#0b090a"/>
<rect x="902.97" y="956.24" width="2.20" height="141.66" fill="#85367f"/>
<rect x="908.35" y="956.24" width="2.80" height="141.66" fill="#33203a"/>
<rect x="913.17" y="956.24" width="2.80" height="141.66" fill="#2a1a2c"/>
<rect x="918.00" y="949.61" width="12.00" height="148.29" fill="#0b090a"/>
<rect x="921.06" y="950.11" width="1.80" height="147.79" fill="#33203a"/>
<rect x="926.65" y="950.11" width="2.20" height="147.79" fill="#33203a"/>
<rect x="933.00" y="987.36" width="15.00" height="110.54" fill="#0b090a"/>
<rect x="935.48" y="987.86" width="2.20" height="110.04" fill="#33203a"/>
<rect x="940.31" y="987.86" width="1.80" height="110.04" fill="#241720"/>
<rect x="945.49" y="987.86" width="2.80" height="110.04" fill="#241720"/>
<rect x="951.00" y="963.29" width="15.00" height="134.61" fill="#0b090a"/>
<rect x="954.04" y="963.79" width="1.80" height="134.11" fill="#2a1a2c"/>
<rect x="958.97" y="963.79" width="1.80" height="134.11" fill="#2a1a2c"/>
<rect x="964.07" y="963.79" width="2.20" height="134.11" fill="#85367f"/>
<rect x="969.00" y="900.07" width="12.00" height="197.83" fill="#0b090a"/>
<rect x="970.65" y="900.57" width="1.80" height="197.33" fill="#2a1a2c"/>
<rect x="975.11" y="900.57" width="2.20" height="197.33" fill="#33203a"/>
<rect x="984.00" y="775.52" width="15.00" height="322.38" fill="#0b090a"/>
<rect x="986.70" y="776.02" width="1.80" height="321.88" fill="#33203a"/>
<rect x="991.60" y="776.02" width="1.80" height="321.88" fill="#2a1a2c"/>
<rect x="997.08" y="776.02" width="2.20" height="321.88" fill="#33203a"/>
<rect x="1002.00" y="711.82" width="12.00" height="386.08" fill="#0b090a"/>
<rect x="1004.90" y="712.32" width="1.80" height="385.58" fill="#3b2340"/>
<rect x="1009.25" y="712.32" width="2.20" height="385.58" fill="#3b2340"/>
<rect x="1017.00" y="802.88" width="15.00" height="295.02" fill="#0b090a"/>
<rect x="1020.01" y="803.38" width="2.80" height="294.52" fill="#2a1a2c"/>
<rect x="1025.20" y="803.38" width="1.80" height="294.52" fill="#2a1a2c"/>
<rect x="1030.30" y="803.38" width="1.80" height="294.52" fill="#33203a"/>
<rect x="1035.00" y="831.19" width="12.00" height="266.71" fill="#0b090a"/>
<rect x="1036.83" y="831.69" width="2.20" height="266.21" fill="#2a1a2c"/>
<rect x="1042.33" y="831.69" width="1.80" height="266.21" fill="#33203a"/>
<rect x="1050.00" y="869.88" width="15.00" height="228.02" fill="#0b090a"/>
<rect x="1052.79" y="870.38" width="1.80" height="227.52" fill="#2a1a2c"/>
<rect x="1058.17" y="870.38" width="2.20" height="227.52" fill="#85367f"/>
<rect x="1068.00" y="892.52" width="15.00" height="205.38" fill="#0b090a"/>
<rect x="1070.13" y="893.02" width="2.20" height="204.88" fill="#85367f"/>
<rect x="1075.71" y="893.02" width="2.80" height="204.88" fill="#241720"/>
<rect x="1080.21" y="893.02" width="1.80" height="204.88" fill="#3b2340"/>
<rect x="1086.00" y="964.71" width="12.00" height="133.19" fill="#0b090a"/>
<rect x="1089.09" y="965.21" width="2.20" height="132.69" fill="#85367f"/>
<rect x="1093.52" y="965.21" width="1.80" height="132.69" fill="#2a1a2c"/>
<rect x="1101.00" y="1013.78" width="15.00" height="84.12" fill="#0b090a"/>
<rect x="1103.19" y="1014.28" width="2.80" height="83.62" fill="#2a1a2c"/>
<rect x="1108.96" y="1014.28" width="2.20" height="83.62" fill="#85367f"/>
<rect x="1113.35" y="1014.28" width="2.80" height="83.62" fill="#3b2340"/>
<rect x="1119.00" y="1022.27" width="12.00" height="75.63" fill="#0b090a"/>
<rect x="1121.35" y="1022.77" width="2.20" height="75.13" fill="#33203a"/>
<rect x="1126.58" y="1022.77" width="2.20" height="75.13" fill="#33203a"/>
<rect x="1134.00" y="1018.97" width="15.00" height="78.93" fill="#0b090a"/>
<rect x="1136.67" y="1019.47" width="2.20" height="78.43" fill="#33203a"/>
<rect x="1142.40" y="1019.47" width="2.20" height="78.43" fill="#85367f"/>
<rect x="1152.00" y="1014.72" width="15.00" height="83.18" fill="#0b090a"/>
<rect x="1154.91" y="1015.22" width="2.80" height="82.68" fill="#33203a"/>
<rect x="1159.60" y="1015.22" width="2.20" height="82.68" fill="#85367f"/>
<rect x="1164.58" y="1015.22" width="2.80" height="82.68" fill="#2a1a2c"/>
<rect x="1170.00" y="1014.72" width="12.00" height="83.18" fill="#0b090a"/>
<rect x="1172.52" y="1015.22" width="1.80" height="82.68" fill="#3b2340"/>
<rect x="1176.90" y="1015.22" width="1.80" height="82.68" fill="#33203a"/>
<rect x="1185.00" y="966.60" width="15.00" height="131.30" fill="#0b090a"/>
<rect x="1187.72" y="967.10" width="1.80" height="130.80" fill="#3b2340"/>
<rect x="1192.49" y="967.10" width="2.20" height="130.80" fill="#85367f"/>
<rect x="1196.74" y="967.10" width="2.20" height="130.80" fill="#3b2340"/>
<rect x="1203.00" y="875.07" width="12.00" height="222.83" fill="#0b090a"/>
<rect x="1205.02" y="875.57" width="1.80" height="222.33" fill="#33203a"/>
<rect x="1209.94" y="875.57" width="1.80" height="222.33" fill="#241720"/>
<rect x="1218.00" y="875.07" width="15.00" height="222.83" fill="#0b090a"/>
<rect x="1220.45" y="875.57" width="2.80" height="222.33" fill="#33203a"/>
<rect x="1224.97" y="875.57" width="2.20" height="222.33" fill="#85367f"/>
<rect x="1230.52" y="875.57" width="2.20" height="222.33" fill="#33203a"/>
<rect x="1236.00" y="871.76" width="12.00" height="226.14" fill="#0b090a"/>
<rect x="1238.57" y="872.26" width="2.20" height="225.64" fill="#3b2340"/>
<rect x="1243.93" y="872.26" width="2.20" height="225.64" fill="#85367f"/>
<rect x="1251.00" y="780.71" width="15.00" height="317.19" fill="#0b090a"/>
<rect x="1253.56" y="781.21" width="2.20" height="316.69" fill="#2a1a2c"/>
<rect x="1257.93" y="781.21" width="2.80" height="316.69" fill="#2a1a2c"/>
<rect x="1262.92" y="781.21" width="2.20" height="316.69" fill="#33203a"/>
<rect x="1269.00" y="1034.54" width="15.00" height="63.36" fill="#0b090a"/>
<rect x="1272.06" y="1035.04" width="2.20" height="62.86" fill="#2a1a2c"/>
<rect x="1277.45" y="1035.04" width="2.20" height="62.86" fill="#85367f"/>
<rect x="1287.00" y="1058.13" width="12.00" height="39.77" fill="#0b090a"/>
<rect x="1290.06" y="1058.63" width="2.80" height="39.27" fill="#2a1a2c"/>
<rect x="1295.74" y="1058.63" width="2.20" height="39.27" fill="#85367f"/>
<rect x="1302.00" y="1081.24" width="15.00" height="16.66" fill="#0b090a"/>
<rect x="1304.07" y="1081.74" width="2.20" height="16.16" fill="#85367f"/>
<rect x="1309.19" y="1081.74" width="2.80" height="16.16" fill="#2a1a2c"/>
<rect x="1314.56" y="1081.74" width="2.20" height="16.16" fill="#241720"/>
<rect x="1320.00" y="1087.85" width="12.00" height="10.05" fill="#0b090a"/>
<rect x="1322.22" y="1088.35" width="2.80" height="9.55" fill="#241720"/>
<rect x="1326.52" y="1088.35" width="2.20" height="9.55" fill="#85367f"/>
<rect x="1335.00" y="1095.87" width="15.00" height="2.03" fill="#0b090a"/>
<rect x="1337.09" y="1096.37" width="2.20" height="1.53" fill="#241720"/>
<rect x="1341.67" y="1096.37" width="1.80" height="1.53" fill="#3b2340"/>
<rect x="1346.79" y="1096.37" width="2.20" height="1.53" fill="#3b2340"/>
</g>
<g id="bars6">
<rect x="1508.80" y="1009.52" width="3.40" height="88.38" fill="#e3e0de"/>
<rect x="1526.80" y="1031.93" width="3.40" height="65.97" fill="#dad7d5"/>
<rect x="1541.80" y="1031.93" width="3.40" height="65.97" fill="#e3e0de"/>
<rect x="1559.80" y="962.37" width="3.40" height="135.53" fill="#e3e0de"/>
<rect x="1577.80" y="992.25" width="3.40" height="105.65" fill="#e3e0de"/>
<rect x="1595.80" y="992.25" width="3.40" height="105.65" fill="#cfccca"/>
<rect x="1613.80" y="924.55" width="3.40" height="173.35" fill="#8c8987"/>
<rect x="1631.80" y="924.55" width="3.40" height="173.35" fill="#cfccca"/>
<rect x="1649.80" y="772.80" width="3.40" height="325.10" fill="#c6c3c1"/>
<rect x="1664.80" y="789.15" width="3.40" height="308.75" fill="#c6c3c1"/>
<rect x="1682.80" y="868.99" width="3.40" height="228.91" fill="#cfccca"/>
<rect x="1700.80" y="890.00" width="3.40" height="207.90" fill="#cfccca"/>
<rect x="1718.80" y="936.69" width="3.40" height="161.21" fill="#e3e0de"/>
<rect x="1736.80" y="936.69" width="3.40" height="161.21" fill="#8c8987"/>
<rect x="1754.80" y="1006.72" width="3.40" height="91.18" fill="#dad7d5"/>
<rect x="1772.80" y="1006.72" width="3.40" height="91.18" fill="#cfccca"/>
<rect x="1790.80" y="1012.79" width="3.40" height="85.11" fill="#c6c3c1"/>
<rect x="1805.80" y="1020.26" width="3.40" height="77.64" fill="#c6c3c1"/>
<rect x="1823.80" y="1020.26" width="3.40" height="77.64" fill="#c6c3c1"/>
<rect x="1841.80" y="1020.26" width="3.40" height="77.64" fill="#dad7d5"/>
<rect x="1859.80" y="1020.26" width="3.40" height="77.64" fill="#e3e0de"/>
<rect x="1877.80" y="941.35" width="3.40" height="156.55" fill="#e3e0de"/>
<rect x="1895.80" y="855.91" width="3.40" height="241.99" fill="#dad7d5"/>
<rect x="1913.80" y="721.44" width="3.40" height="376.46" fill="#c6c3c1"/>
<rect x="1931.80" y="1009.52" width="3.40" height="88.38" fill="#dad7d5"/>
<rect x="1946.80" y="1040.34" width="3.40" height="57.56" fill="#cfccca"/>
<rect x="1964.80" y="1040.34" width="3.40" height="57.56" fill="#7f7c7a"/>
<rect x="1982.80" y="1078.16" width="3.40" height="19.74" fill="#c6c3c1"/>
<rect x="2000.80" y="1086.56" width="3.40" height="11.34" fill="#cfccca"/>
<rect x="2018.80" y="1094.50" width="3.40" height="3.40" fill="#dad7d5"/>
<rect x="2036.80" y="1096.37" width="3.40" height="1.53" fill="#dad7d5"/>
<rect x="1494.00" y="1004.39" width="15.00" height="93.51" fill="#0b090a"/>
<rect x="1496.17" y="1004.89" width="2.20" height="93.01" fill="#2a1a2c"/>
<rect x="1501.41" y="1004.89" width="2.20" height="93.01" fill="#241720"/>
<rect x="1506.09" y="1004.89" width="1.80" height="93.01" fill="#33203a"/>
<rect x="1512.00" y="1009.52" width="15.00" height="88.38" fill="#0b090a"/>
<rect x="1513.87" y="1010.02" width="2.20" height="87.88" fill="#33203a"/>
<rect x="1518.46" y="1010.02" width="1.80" height="87.88" fill="#3b2340"/>
<rect x="1524.07" y="1010.02" width="1.80" height="87.88" fill="#33203a"/>
<rect x="1530.00" y="1031.93" width="12.00" height="65.97" fill="#0b090a"/>
<rect x="1531.90" y="1032.43" width="2.80" height="65.47" fill="#2a1a2c"/>
<rect x="1537.58" y="1032.43" width="2.20" height="65.47" fill="#3b2340"/>
<rect x="1545.00" y="946.96" width="15.00" height="150.94" fill="#0b090a"/>
<rect x="1547.38" y="947.46" width="2.80" height="150.44" fill="#241720"/>
<rect x="1552.80" y="947.46" width="2.80" height="150.44" fill="#2a1a2c"/>
<rect x="1563.00" y="962.37" width="15.00" height="135.53" fill="#0b090a"/>
<rect x="1564.83" y="962.87" width="2.20" height="135.03" fill="#85367f"/>
<rect x="1570.07" y="962.87" width="2.20" height="135.03" fill="#3b2340"/>
<rect x="1575.47" y="962.87" width="2.80" height="135.03" fill="#3b2340"/>
<rect x="1581.00" y="992.25" width="15.00" height="105.65" fill="#0b090a"/>
<rect x="1582.62" y="992.75" width="2.20" height="105.15" fill="#33203a"/>
<rect x="1587.20" y="992.75" width="2.20" height="105.15" fill="#33203a"/>
<rect x="1592.69" y="992.75" width="1.80" height="105.15" fill="#2a1a2c"/>
<rect x="1599.00" y="927.81" width="15.00" height="170.09" fill="#0b090a"/>
<rect x="1600.66" y="928.31" width="2.80" height="169.59" fill="#33203a"/>
<rect x="1605.42" y="928.31" width="1.80" height="169.59" fill="#3b2340"/>
<rect x="1610.83" y="928.31" width="2.80" height="169.59" fill="#241720"/>
<rect x="1617.00" y="924.55" width="15.00" height="173.35" fill="#0b090a"/>
<rect x="1619.65" y="925.05" width="2.20" height="172.85" fill="#85367f"/>
<rect x="1623.89" y="925.05" width="1.80" height="172.85" fill="#3b2340"/>
<rect x="1629.58" y="925.05" width="2.80" height="172.85" fill="#2a1a2c"/>
<rect x="1635.00" y="772.80" width="15.00" height="325.10" fill="#0b090a"/>
<rect x="1637.00" y="773.30" width="2.20" height="324.60" fill="#2a1a2c"/>
<rect x="1641.80" y="773.30" width="2.80" height="324.60" fill="#33203a"/>
<rect x="1647.16" y="773.30" width="1.80" height="324.60" fill="#241720"/>
<rect x="1653.00" y="752.73" width="12.00" height="345.17" fill="#0b090a"/>
<rect x="1655.82" y="753.23" width="2.80" height="344.67" fill="#33203a"/>
<rect x="1661.27" y="753.23" width="1.80" height="344.67" fill="#3b2340"/>
<rect x="1668.00" y="789.15" width="15.00" height="308.75" fill="#0b090a"/>
<rect x="1670.75" y="789.65" width="2.80" height="308.25" fill="#33203a"/>
<rect x="1676.40" y="789.65" width="1.80" height="308.25" fill="#33203a"/>
<rect x="1680.76" y="789.65" width="2.80" height="308.25" fill="#33203a"/>
<rect x="1686.00" y="868.99" width="15.00" height="228.91" fill="#0b090a"/>
<rect x="1688.36" y="869.49" width="2.20" height="228.41" fill="#241720"/>
<rect x="1693.07" y="869.49" width="2.20" height="228.41" fill="#2a1a2c"/>
<rect x="1698.33" y="869.49" width="2.20" height="228.41" fill="#85367f"/>
<rect x="1704.00" y="890.00" width="15.00" height="207.90" fill="#0b090a"/>
<rect x="1707.16" y="890.50" width="2.20" height="207.40" fill="#3b2340"/>
<rect x="1711.84" y="890.50" width="2.20" height="207.40" fill="#85367f"/>
<rect x="1716.08" y="890.50" width="2.20" height="207.40" fill="#2a1a2c"/>
<rect x="1722.00" y="936.69" width="15.00" height="161.21" fill="#0b090a"/>
<rect x="1724.01" y="937.19" width="2.20" height="160.71" fill="#241720"/>
<rect x="1729.05" y="937.19" width="2.20" height="160.71" fill="#33203a"/>
<rect x="1734.59" y="937.19" width="1.80" height="160.71" fill="#2a1a2c"/>
<rect x="1740.00" y="976.84" width="15.00" height="121.06" fill="#0b090a"/>
<rect x="1742.89" y="977.34" width="2.20" height="120.56" fill="#241720"/>
<rect x="1747.86" y="977.34" width="2.20" height="120.56" fill="#3b2340"/>
<rect x="1753.18" y="977.34" width="2.80" height="120.56" fill="#3b2340"/>
<rect x="1758.00" y="1006.72" width="15.00" height="91.18" fill="#0b090a"/>
<rect x="1760.82" y="1007.22" width="1.80" height="90.68" fill="#33203a"/>
<rect x="1766.60" y="1007.22" width="1.80" height="90.68" fill="#241720"/>
<rect x="1776.00" y="1006.72" width="15.00" height="91.18" fill="#0b090a"/>
<rect x="1778.36" y="1007.22" width="2.20" height="90.68" fill="#2a1a2c"/>
<rect x="1783.00" y="1007.22" width="2.20" height="90.68" fill="#2a1a2c"/>
<rect x="1787.37" y="1007.22" width="2.20" height="90.68" fill="#2a1a2c"/>
<rect x="1794.00" y="1012.79" width="12.00" height="85.11" fill="#0b090a"/>
<rect x="1795.97" y="1013.29" width="2.80" height="84.61" fill="#33203a"/>
<rect x="1801.39" y="1013.29" width="1.80" height="84.61" fill="#33203a"/>
<rect x="1809.00" y="1020.26" width="15.00" height="77.64" fill="#0b090a"/>
<rect x="1810.65" y="1020.76" width="2.20" height="77.14" fill="#85367f"/>
<rect x="1815.36" y="1020.76" width="2.20" height="77.14" fill="#33203a"/>
<rect x="1820.04" y="1020.76" width="2.20" height="77.14" fill="#2a1a2c"/>
<rect x="1827.00" y="1020.26" width="15.00" height="77.64" fill="#0b090a"/>
<rect x="1829.82" y="1020.76" width="2.20" height="77.14" fill="#241720"/>
<rect x="1834.48" y="1020.76" width="2.80" height="77.14" fill="#3b2340"/>
<rect x="1840.26" y="1020.76" width="2.80" height="77.14" fill="#3b2340"/>
<rect x="1845.00" y="1020.26" width="15.00" height="77.64" fill="#0b090a"/>
<rect x="1848.02" y="1020.76" width="2.20" height="77.14" fill="#241720"/>
<rect x="1852.77" y="1020.76" width="2.20" height="77.14" fill="#2a1a2c"/>
<rect x="1858.30" y="1020.76" width="2.20" height="77.14" fill="#3b2340"/>
<rect x="1863.00" y="941.35" width="15.00" height="156.55" fill="#0b090a"/>
<rect x="1864.75" y="941.85" width="2.80" height="156.05" fill="#241720"/>
<rect x="1869.90" y="941.85" width="1.80" height="156.05" fill="#2a1a2c"/>
<rect x="1874.65" y="941.85" width="2.20" height="156.05" fill="#3b2340"/>
<rect x="1881.00" y="855.91" width="15.00" height="241.99" fill="#0b090a"/>
<rect x="1883.98" y="856.41" width="1.80" height="241.49" fill="#241720"/>
<rect x="1888.83" y="856.41" width="2.20" height="241.49" fill="#2a1a2c"/>
<rect x="1894.33" y="856.41" width="2.80" height="241.49" fill="#33203a"/>
<rect x="1899.00" y="712.57" width="15.00" height="385.33" fill="#0b090a"/>
<rect x="1901.70" y="713.07" width="1.80" height="384.83" fill="#33203a"/>
<rect x="1906.99" y="713.07" width="2.20" height="384.83" fill="#85367f"/>
<rect x="1911.78" y="713.07" width="1.80" height="384.83" fill="#33203a"/>
<rect x="1917.00" y="721.44" width="15.00" height="376.46" fill="#0b090a"/>
<rect x="1919.58" y="721.94" width="2.80" height="375.96" fill="#2a1a2c"/>
<rect x="1925.38" y="721.94" width="2.20" height="375.96" fill="#2a1a2c"/>
<rect x="1929.74" y="721.94" width="1.80" height="375.96" fill="#241720"/>
<rect x="1935.00" y="1009.52" width="12.00" height="88.38" fill="#0b090a"/>
<rect x="1936.60" y="1010.02" width="2.80" height="87.88" fill="#241720"/>
<rect x="1942.01" y="1010.02" width="2.80" height="87.88" fill="#2a1a2c"/>
<rect x="1950.00" y="1040.34" width="15.00" height="57.56" fill="#0b090a"/>
<rect x="1952.47" y="1040.84" width="2.20" height="57.06" fill="#85367f"/>
<rect x="1957.98" y="1040.84" width="1.80" height="57.06" fill="#2a1a2c"/>
<rect x="1962.39" y="1040.84" width="2.20" height="57.06" fill="#33203a"/>
<rect x="1968.00" y="1063.22" width="15.00" height="34.68" fill="#0b090a"/>
<rect x="1970.31" y="1063.72" width="2.20" height="34.18" fill="#2a1a2c"/>
<rect x="1974.81" y="1063.72" width="2.20" height="34.18" fill="#85367f"/>
<rect x="1980.61" y="1063.72" width="2.80" height="34.18" fill="#241720"/>
<rect x="1986.00" y="1078.16" width="15.00" height="19.74" fill="#0b090a"/>
<rect x="1988.05" y="1078.66" width="2.80" height="19.24" fill="#33203a"/>
<rect x="1993.04" y="1078.66" width="1.80" height="19.24" fill="#33203a"/>
<rect x="1998.09" y="1078.66" width="1.80" height="19.24" fill="#3b2340"/>
<rect x="2004.00" y="1086.56" width="15.00" height="11.34" fill="#0b090a"/>
<rect x="2006.24" y="1087.06" width="1.80" height="10.84" fill="#2a1a2c"/>
<rect x="2011.26" y="1087.06" width="2.80" height="10.84" fill="#241720"/>
<rect x="2016.29" y="1087.06" width="1.80" height="10.84" fill="#2a1a2c"/>
<rect x="2022.00" y="1094.50" width="15.00" height="3.40" fill="#0b090a"/>
<rect x="2024.78" y="1095.00" width="2.20" height="2.90" fill="#85367f"/>
<rect x="2030.03" y="1095.00" width="2.80" height="2.90" fill="#3b2340"/>
<rect x="2034.44" y="1095.00" width="2.20" height="2.90" fill="#2a1a2c"/>
<rect x="2040.00" y="1096.37" width="15.00" height="1.53" fill="#0b090a"/>
<rect x="2041.93" y="1096.87" width="1.80" height="1.03" fill="#241720"/>
<rect x="2046.82" y="1096.87" width="1.80" height="1.03" fill="#2a1a2c"/>
<rect x="2051.11" y="1096.87" width="2.80" height="1.03" fill="#33203a"/>
</g>
<g id="bars7">
<rect x="113.80" y="1712.18" width="3.40" height="44.42" fill="#c6c3c1"/>
<rect x="134.80" y="1676.80" width="3.40" height="79.80" fill="#75726f"/>
<rect x="155.80" y="1684.66" width="3.40" height="71.94" fill="#dad7d5"/>
<rect x="173.80" y="1667.19" width="3.40" height="89.41" fill="#e3e0de"/>
<rect x="194.80" y="1667.19" width="3.40" height="89.41" fill="#cfccca"/>
<rect x="215.80" y="1648.85" width="3.40" height="107.75" fill="#c6c3c1"/>
<rect x="236.80" y="1632.69" width="3.40" height="123.91" fill="#c6c3c1"/>
<rect x="254.80" y="1567.17" width="3.40" height="189.43" fill="#e3e0de"/>
<rect x="275.80" y="1518.68" width="3.40" height="237.92" fill="#c6c3c1"/>
<rect x="296.80" y="1415.16" width="3.40" height="341.44" fill="#c6c3c1"/>
<rect x="314.80" y="1473.25" width="3.40" height="283.35" fill="#cfccca"/>
<rect x="335.80" y="1525.67" width="3.40" height="230.93" fill="#c6c3c1"/>
<rect x="356.80" y="1571.10" width="3.40" height="185.50" fill="#e3e0de"/>
<rect x="377.80" y="1596.87" width="3.40" height="159.73" fill="#cfccca"/>
<rect x="395.80" y="1629.63" width="3.40" height="126.97" fill="#7f7c7a"/>
<rect x="416.80" y="1629.63" width="3.40" height="126.97" fill="#75726f"/>
<rect x="437.80" y="1663.70" width="3.40" height="92.90" fill="#cfccca"/>
<rect x="455.80" y="1663.70" width="3.40" height="92.90" fill="#e3e0de"/>
<rect x="476.80" y="1663.70" width="3.40" height="92.90" fill="#e3e0de"/>
<rect x="497.80" y="1663.70" width="3.40" height="92.90" fill="#c6c3c1"/>
<rect x="518.80" y="1663.70" width="3.40" height="92.90" fill="#cfccca"/>
<rect x="536.80" y="1650.59" width="3.40" height="106.01" fill="#cfccca"/>
<rect x="557.80" y="1632.25" width="3.40" height="124.35" fill="#cfccca"/>
<rect x="578.80" y="1579.83" width="3.40" height="176.77" fill="#e3e0de"/>
<rect x="599.80" y="1549.26" width="3.40" height="207.34" fill="#cfccca"/>
<rect x="617.80" y="1716.11" width="3.40" height="40.49" fill="#e3e0de"/>
<rect x="638.80" y="1738.83" width="3.40" height="17.77" fill="#cfccca"/>
<rect x="659.80" y="1753.68" width="3.40" height="2.92" fill="#e3e0de"/>
<rect x="97.00" y="1712.18" width="17.00" height="44.42" fill="#0b090a"/>
<rect x="99.48" y="1712.68" width="1.80" height="43.92" fill="#241720"/>
<rect x="104.06" y="1712.68" width="2.80" height="43.92" fill="#3b2340"/>
<rect x="108.89" y="1712.68" width="2.80" height="43.92" fill="#241720"/>
<rect x="117.00" y="1676.80" width="18.00" height="79.80" fill="#0b090a"/>
<rect x="119.65" y="1677.30" width="2.20" height="79.30" fill="#85367f"/>
<rect x="125.02" y="1677.30" width="2.80" height="79.30" fill="#33203a"/>
<rect x="130.36" y="1677.30" width="2.80" height="79.30" fill="#241720"/>
<rect x="138.00" y="1684.66" width="18.00" height="71.94" fill="#0b090a"/>
<rect x="140.77" y="1685.16" width="2.20" height="71.44" fill="#85367f"/>
<rect x="145.31" y="1685.16" width="1.80" height="71.44" fill="#241720"/>
<rect x="149.69" y="1685.16" width="1.80" height="71.44" fill="#3b2340"/>
<rect x="154.23" y="1685.16" width="1.80" height="71.44" fill="#33203a"/>
<rect x="159.00" y="1661.08" width="15.00" height="95.52" fill="#0b090a"/>
<rect x="161.78" y="1661.58" width="1.80" height="95.02" fill="#3b2340"/>
<rect x="167.28" y="1661.58" width="1.80" height="95.02" fill="#241720"/>
<rect x="172.30" y="1661.58" width="2.20" height="95.02" fill="#85367f"/>
<rect x="177.00" y="1667.19" width="18.00" height="89.41" fill="#0b090a"/>
<rect x="179.08" y="1667.69" width="2.20" height="88.91" fill="#33203a"/>
<rect x="184.06" y="1667.69" width="2.20" height="88.91" fill="#2a1a2c"/>
<rect x="188.32" y="1667.69" width="2.20" height="88.91" fill="#33203a"/>
<rect x="193.36" y="1667.69" width="2.80" height="88.91" fill="#3b2340"/>
<rect x="198.00" y="1648.85" width="18.00" height="107.75" fill="#0b090a"/>
<rect x="200.96" y="1649.35" width="2.20" height="107.25" fill="#85367f"/>
<rect x="206.48" y="1649.35" width="2.80" height="107.25" fill="#33203a"/>
<rect x="210.87" y="1649.35" width="2.80" height="107.25" fill="#3b2340"/>
<rect x="219.00" y="1632.69" width="18.00" height="123.91" fill="#0b090a"/>
<rect x="221.26" y="1633.19" width="1.80" height="123.41" fill="#241720"/>
<rect x="225.84" y="1633.19" width="2.20" height="123.41" fill="#3b2340"/>
<rect x="230.67" y="1633.19" width="2.20" height="123.41" fill="#85367f"/>
<rect x="240.00" y="1567.17" width="15.00" height="189.43" fill="#0b090a"/>
<rect x="243.02" y="1567.67" width="2.20" height="188.93" fill="#85367f"/>
<rect x="248.68" y="1567.67" width="2.80" height="188.93" fill="#3b2340"/>
<rect x="253.12" y="1567.67" width="2.80" height="188.93" fill="#241720"/>
<rect x="258.00" y="1518.68" width="18.00" height="237.92" fill="#0b090a"/>
<rect x="260.01" y="1519.18" width="2.20" height="237.42" fill="#2a1a2c"/>
<rect x="264.75" y="1519.18" width="2.20" height="237.42" fill="#33203a"/>
<rect x="269.42" y="1519.18" width="2.20" height="237.42" fill="#2a1a2c"/>
<rect x="273.76" y="1519.18" width="2.80" height="237.42" fill="#241720"/>
<rect x="279.00" y="1372.35" width="18.00" height="384.25" fill="#0b090a"/>
<rect x="281.50" y="1372.85" width="2.20" height="383.75" fill="#33203a"/>
<rect x="285.74" y="1372.85" width="2.80" height="383.75" fill="#33203a"/>
<rect x="290.88" y="1372.85" width="2.80" height="383.75" fill="#241720"/>
<rect x="300.00" y="1415.16" width="15.00" height="341.44" fill="#0b090a"/>
<rect x="301.74" y="1415.66" width="1.80" height="340.94" fill="#2a1a2c"/>
<rect x="307.38" y="1415.66" width="1.80" height="340.94" fill="#33203a"/>
<rect x="312.95" y="1415.66" width="2.20" height="340.94" fill="#241720"/>
<rect x="318.00" y="1473.25" width="18.00" height="283.35" fill="#0b090a"/>
<rect x="320.14" y="1473.75" width="1.80" height="282.85" fill="#33203a"/>
<rect x="325.51" y="1473.75" width="1.80" height="282.85" fill="#33203a"/>
<rect x="331.30" y="1473.75" width="2.20" height="282.85" fill="#3b2340"/>
<rect x="339.00" y="1525.67" width="18.00" height="230.93" fill="#0b090a"/>
<rect x="341.33" y="1526.17" width="2.20" height="230.43" fill="#2a1a2c"/>
<rect x="346.78" y="1526.17" width="1.80" height="230.43" fill="#33203a"/>
<rect x="351.20" y="1526.17" width="1.80" height="230.43" fill="#3b2340"/>
<rect x="360.00" y="1571.10" width="18.00" height="185.50" fill="#0b090a"/>
<rect x="362.96" y="1571.60" width="1.80" height="185.00" fill="#2a1a2c"/>
<rect x="367.34" y="1571.60" width="2.80" height="185.00" fill="#3b2340"/>
<rect x="371.98" y="1571.60" width="2.20" height="185.00" fill="#33203a"/>
<rect x="376.27" y="1571.60" width="1.80" height="185.00" fill="#241720"/>
<rect x="381.00" y="1596.87" width="15.00" height="159.73" fill="#0b090a"/>
<rect x="383.13" y="1597.37" width="2.80" height="159.23" fill="#33203a"/>
<rect x="388.32" y="1597.37" width="2.80" height="159.23" fill="#241720"/>
<rect x="393.22" y="1597.37" width="2.80" height="159.23" fill="#2a1a2c"/>
<rect x="399.00" y="1629.63" width="18.00" height="126.97" fill="#0b090a"/>
<rect x="400.88" y="1630.13" width="2.20" height="126.47" fill="#3b2340"/>
<rect x="406.34" y="1630.13" width="2.20" height="126.47" fill="#33203a"/>
<rect x="411.85" y="1630.13" width="1.80" height="126.47" fill="#33203a"/>
<rect x="420.00" y="1661.08" width="18.00" height="95.52" fill="#0b090a"/>
<rect x="422.94" y="1661.58" width="2.20" height="95.02" fill="#2a1a2c"/>
<rect x="427.82" y="1661.58" width="2.80" height="95.02" fill="#2a1a2c"/>
<rect x="433.46" y="1661.58" width="1.80" height="95.02" fill="#33203a"/>
<rect x="441.00" y="1663.70" width="15.00" height="92.90" fill="#0b090a"/>
<rect x="443.69" y="1664.20" width="2.20" height="92.40" fill="#241720"/>
<rect x="448.21" y="1664.20" width="2.20" height="92.40" fill="#2a1a2c"/>
<rect x="452.79" y="1664.20" width="1.80" height="92.40" fill="#241720"/>
<rect x="459.00" y="1663.70" width="18.00" height="92.90" fill="#0b090a"/>
<rect x="460.73" y="1664.20" width="2.80" height="92.40" fill="#241720"/>
<rect x="465.76" y="1664.20" width="2.20" height="92.40" fill="#85367f"/>
<rect x="471.34" y="1664.20" width="1.80" height="92.40" fill="#33203a"/>
<rect x="480.00" y="1663.70" width="18.00" height="92.90" fill="#0b090a"/>
<rect x="481.67" y="1664.20" width="2.80" height="92.40" fill="#2a1a2c"/>
<rect x="487.21" y="1664.20" width="2.20" height="92.40" fill="#33203a"/>
<rect x="491.46" y="1664.20" width="1.80" height="92.40" fill="#2a1a2c"/>
<rect x="496.19" y="1664.20" width="2.80" height="92.40" fill="#3b2340"/>
<rect x="501.00" y="1663.70" width="18.00" height="92.90" fill="#0b090a"/>
<rect x="503.95" y="1664.20" width="1.80" height="92.40" fill="#2a1a2c"/>
<rect x="508.88" y="1664.20" width="1.80" height="92.40" fill="#2a1a2c"/>
<rect x="513.89" y="1664.20" width="2.20" height="92.40" fill="#2a1a2c"/>
<rect x="522.00" y="1650.59" width="15.00" height="106.01" fill="#0b090a"/>
<rect x="524.82" y="1651.09" width="1.80" height="105.51" fill="#241720"/>
<rect x="529.74" y="1651.09" width="2.80" height="105.51" fill="#3b2340"/>
<rect x="534.41" y="1651.09" width="2.20" height="105.51" fill="#2a1a2c"/>
<rect x="540.00" y="1632.25" width="18.00" height="124.35" fill="#0b090a"/>
<rect x="542.21" y="1632.75" width="2.20" height="123.85" fill="#85367f"/>
<rect x="547.12" y="1632.75" width="2.20" height="123.85" fill="#33203a"/>
<rect x="551.69" y="1632.75" width="2.80" height="123.85" fill="#3b2340"/>
<rect x="556.00" y="1632.75" width="2.80" height="123.85" fill="#2a1a2c"/>
<rect x="561.00" y="1579.83" width="18.00" height="176.77" fill="#0b090a"/>
<rect x="563.03" y="1580.33" width="2.80" height="176.27" fill="#2a1a2c"/>
<rect x="568.26" y="1580.33" width="2.20" height="176.27" fill="#3b2340"/>
<rect x="573.91" y="1580.33" width="2.20" height="176.27" fill="#85367f"/>
<rect x="582.00" y="1549.26" width="18.00" height="207.34" fill="#0b090a"/>
<rect x="584.05" y="1549.76" width="1.80" height="206.84" fill="#241720"/>
<rect x="588.36" y="1549.76" width="1.80" height="206.84" fill="#241720"/>
<rect x="593.43" y="1549.76" width="1.80" height="206.84" fill="#33203a"/>
<rect x="603.00" y="1409.92" width="15.00" height="346.68" fill="#0b090a"/>
<rect x="604.62" y="1410.42" width="2.20" height="346.18" fill="#85367f"/>
<rect x="609.60" y="1410.42" width="1.80" height="346.18" fill="#241720"/>
<rect x="614.97" y="1410.42" width="2.80" height="346.18" fill="#2a1a2c"/>
<rect x="621.00" y="1716.11" width="18.00" height="40.49" fill="#0b090a"/>
<rect x="623.80" y="1716.61" width="2.80" height="39.99" fill="#2a1a2c"/>
<rect x="629.44" y="1716.61" width="1.80" height="39.99" fill="#2a1a2c"/>
<rect x="634.16" y="1716.61" width="2.20" height="39.99" fill="#85367f"/>
<rect x="642.00" y="1738.83" width="18.00" height="17.77" fill="#0b090a"/>
<rect x="644.27" y="1739.33" width="2.80" height="17.27" fill="#33203a"/>
<rect x="649.61" y="1739.33" width="1.80" height="17.27" fill="#241720"/>
<rect x="654.65" y="1739.33" width="2.20" height="17.27" fill="#2a1a2c"/>
<rect x="663.00" y="1753.68" width="15.00" height="2.92" fill="#0b090a"/>
<rect x="664.65" y="1754.18" width="1.80" height="2.42" fill="#33203a"/>
<rect x="669.94" y="1754.18" width="2.80" height="2.42" fill="#3b2340"/>
<rect x="674.46" y="1754.18" width="2.80" height="2.42" fill="#2a1a2c"/>
</g>
<g id="bars8">
<rect x="818.80" y="1695.35" width="6.40" height="59.65" fill="#f0eeec"/>
<rect x="818.80" y="1695.35" width="1.60" height="59.65" fill="#8d8987"/>
<rect x="848.80" y="1667.75" width="6.40" height="87.25" fill="#dfdcda"/>
<rect x="848.80" y="1650.98" width="1.60" height="104.02" fill="#aeaaa8"/>
<rect x="878.80" y="1667.75" width="6.40" height="87.25" fill="#dfdcda"/>
<rect x="878.80" y="1667.75" width="1.60" height="87.25" fill="#8d8987"/>
<rect x="908.80" y="1382.64" width="6.40" height="372.36" fill="#dfdcda"/>
<rect x="908.80" y="1360.98" width="1.60" height="394.02" fill="#aeaaa8"/>
<rect x="935.80" y="1454.97" width="6.40" height="300.03" fill="#f0eeec"/>
<rect x="935.80" y="1382.64" width="1.60" height="372.36" fill="#8d8987"/>
<rect x="965.80" y="1465.10" width="6.40" height="289.90" fill="#dfdcda"/>
<rect x="965.80" y="1454.97" width="1.60" height="300.03" fill="#aeaaa8"/>
<rect x="995.80" y="1465.10" width="6.40" height="289.90" fill="#f0eeec"/>
<rect x="995.80" y="1465.10" width="1.60" height="289.90" fill="#9d9997"/>
<rect x="1025.80" y="1577.96" width="6.40" height="177.04" fill="#f0eeec"/>
<rect x="1025.80" y="1364.47" width="1.60" height="390.53" fill="#8d8987"/>
<rect x="1055.80" y="1577.96" width="6.40" height="177.04" fill="#dfdcda"/>
<rect x="1055.80" y="1577.96" width="1.60" height="177.04" fill="#9d9997"/>
<rect x="1085.80" y="1494.80" width="6.40" height="260.20" fill="#e9e7e5"/>
<rect x="1085.80" y="1466.85" width="1.60" height="288.15" fill="#9d9997"/>
<rect x="1115.80" y="1613.94" width="6.40" height="141.06" fill="#e9e7e5"/>
<rect x="1115.80" y="1494.80" width="1.60" height="260.20" fill="#aeaaa8"/>
<rect x="1145.80" y="1661.81" width="6.40" height="93.19" fill="#e9e7e5"/>
<rect x="1145.80" y="1613.94" width="1.60" height="141.06" fill="#aeaaa8"/>
<rect x="1175.80" y="1704.79" width="6.40" height="50.21" fill="#e9e7e5"/>
<rect x="1175.80" y="1661.81" width="1.60" height="93.19" fill="#9d9997"/>
<rect x="1205.80" y="1727.50" width="6.40" height="27.50" fill="#dfdcda"/>
<rect x="1205.80" y="1704.79" width="1.60" height="50.21" fill="#aeaaa8"/>
<rect x="1235.80" y="1743.22" width="6.40" height="11.78" fill="#e9e7e5"/>
<rect x="1235.80" y="1727.50" width="1.60" height="27.50" fill="#aeaaa8"/>
<rect x="1265.80" y="1751.96" width="6.40" height="3.04" fill="#f0eeec"/>
<rect x="1265.80" y="1743.22" width="1.60" height="11.78" fill="#aeaaa8"/>
<rect x="1295.80" y="1751.96" width="6.40" height="3.04" fill="#e9e7e5"/>
<rect x="1295.80" y="1751.96" width="1.60" height="3.04" fill="#8d8987"/>
<rect x="1322.80" y="1751.96" width="6.40" height="3.04" fill="#dfdcda"/>
<rect x="1322.80" y="1751.96" width="1.60" height="3.04" fill="#9d9997"/>
<rect x="799.20" y="1695.35" width="19.80" height="59.65" fill="#0b090a"/>
<rect x="802.08" y="1695.85" width="2.80" height="59.15" fill="#2a1a2c"/>
<rect x="807.37" y="1695.85" width="2.20" height="59.15" fill="#241720"/>
<rect x="812.82" y="1695.85" width="2.80" height="59.15" fill="#241720"/>
<rect x="825.00" y="1650.98" width="24.00" height="104.02" fill="#0b090a"/>
<rect x="827.21" y="1651.48" width="2.20" height="103.52" fill="#85367f"/>
<rect x="832.20" y="1651.48" width="2.20" height="103.52" fill="#33203a"/>
<rect x="837.50" y="1651.48" width="2.20" height="103.52" fill="#3b2340"/>
<rect x="841.72" y="1651.48" width="2.20" height="103.52" fill="#3b2340"/>
<rect x="846.33" y="1651.48" width="2.20" height="103.52" fill="#3b2340"/>
<rect x="855.00" y="1667.75" width="24.00" height="87.25" fill="#0b090a"/>
<rect x="858.07" y="1668.25" width="1.80" height="86.75" fill="#241720"/>
<rect x="863.76" y="1668.25" width="2.20" height="86.75" fill="#2a1a2c"/>
<rect x="868.61" y="1668.25" width="2.20" height="86.75" fill="#241720"/>
<rect x="874.37" y="1668.25" width="2.80" height="86.75" fill="#241720"/>
<rect x="885.00" y="1360.98" width="24.00" height="394.02" fill="#0b090a"/>
<rect x="887.07" y="1361.48" width="1.80" height="393.52" fill="#241720"/>
<rect x="891.66" y="1361.48" width="2.20" height="393.52" fill="#85367f"/>
<rect x="896.38" y="1361.48" width="1.80" height="393.52" fill="#241720"/>
<rect x="900.73" y="1361.48" width="2.80" height="393.52" fill="#3b2340"/>
<rect x="905.31" y="1361.48" width="2.20" height="393.52" fill="#3b2340"/>
<rect x="915.00" y="1382.64" width="21.00" height="372.36" fill="#0b090a"/>
<rect x="918.16" y="1383.14" width="2.80" height="371.86" fill="#2a1a2c"/>
<rect x="923.02" y="1383.14" width="1.80" height="371.86" fill="#33203a"/>
<rect x="928.67" y="1383.14" width="1.80" height="371.86" fill="#33203a"/>
<rect x="933.35" y="1383.14" width="2.80" height="371.86" fill="#2a1a2c"/>
<rect x="942.00" y="1454.97" width="24.00" height="300.03" fill="#0b090a"/>
<rect x="944.33" y="1455.47" width="2.80" height="299.53" fill="#33203a"/>
<rect x="949.78" y="1455.47" width="1.80" height="299.53" fill="#2a1a2c"/>
<rect x="955.35" y="1455.47" width="2.20" height="299.53" fill="#3b2340"/>
<rect x="960.07" y="1455.47" width="2.20" height="299.53" fill="#33203a"/>
<rect x="964.31" y="1455.47" width="2.20" height="299.53" fill="#2a1a2c"/>
<rect x="972.00" y="1465.10" width="24.00" height="289.90" fill="#0b090a"/>
<rect x="973.84" y="1465.60" width="2.80" height="289.40" fill="#33203a"/>
<rect x="979.05" y="1465.60" width="1.80" height="289.40" fill="#33203a"/>
<rect x="984.81" y="1465.60" width="2.80" height="289.40" fill="#241720"/>
<rect x="990.07" y="1465.60" width="2.20" height="289.40" fill="#85367f"/>
<rect x="1002.00" y="1364.47" width="24.00" height="390.53" fill="#0b090a"/>
<rect x="1004.12" y="1364.97" width="1.80" height="390.03" fill="#2a1a2c"/>
<rect x="1008.65" y="1364.97" width="2.20" height="390.03" fill="#85367f"/>
<rect x="1013.46" y="1364.97" width="1.80" height="390.03" fill="#241720"/>
<rect x="1018.35" y="1364.97" width="1.80" height="390.03" fill="#33203a"/>
<rect x="1022.62" y="1364.97" width="2.80" height="390.03" fill="#241720"/>
<rect x="1032.00" y="1577.96" width="24.00" height="177.04" fill="#0b090a"/>
<rect x="1034.91" y="1578.46" width="1.80" height="176.54" fill="#33203a"/>
<rect x="1039.53" y="1578.46" width="2.80" height="176.54" fill="#241720"/>
<rect x="1044.17" y="1578.46" width="1.80" height="176.54" fill="#241720"/>
<rect x="1049.07" y="1578.46" width="1.80" height="176.54" fill="#2a1a2c"/>
<rect x="1053.62" y="1578.46" width="1.80" height="176.54" fill="#3b2340"/>
<rect x="1062.00" y="1466.85" width="24.00" height="288.15" fill="#0b090a"/>
<rect x="1064.80" y="1467.35" width="2.20" height="287.65" fill="#3b2340"/>
<rect x="1069.65" y="1467.35" width="2.80" height="287.65" fill="#241720"/>
<rect x="1074.76" y="1467.35" width="2.20" height="287.65" fill="#85367f"/>
<rect x="1079.07" y="1467.35" width="2.20" height="287.65" fill="#241720"/>
<rect x="1092.00" y="1494.80" width="24.00" height="260.20" fill="#0b090a"/>
<rect x="1094.74" y="1495.30" width="2.80" height="259.70" fill="#3b2340"/>
<rect x="1099.91" y="1495.30" width="1.80" height="259.70" fill="#3b2340"/>
<rect x="1104.59" y="1495.30" width="1.80" height="259.70" fill="#33203a"/>
<rect x="1108.98" y="1495.30" width="2.20" height="259.70" fill="#85367f"/>
<rect x="1122.00" y="1613.94" width="24.00" height="141.06" fill="#0b090a"/>
<rect x="1125.13" y="1614.44" width="2.80" height="140.56" fill="#33203a"/>
<rect x="1130.09" y="1614.44" width="2.80" height="140.56" fill="#33203a"/>
<rect x="1134.67" y="1614.44" width="2.20" height="140.56" fill="#85367f"/>
<rect x="1139.59" y="1614.44" width="1.80" height="140.56" fill="#241720"/>
<rect x="1152.00" y="1661.81" width="24.00" height="93.19" fill="#0b090a"/>
<rect x="1153.84" y="1662.31" width="2.20" height="92.69" fill="#33203a"/>
<rect x="1158.82" y="1662.31" width="1.80" height="92.69" fill="#241720"/>
<rect x="1163.71" y="1662.31" width="2.80" height="92.69" fill="#2a1a2c"/>
<rect x="1168.25" y="1662.31" width="2.20" height="92.69" fill="#85367f"/>
<rect x="1173.08" y="1662.31" width="2.80" height="92.69" fill="#2a1a2c"/>
<rect x="1182.00" y="1704.79" width="24.00" height="50.21" fill="#0b090a"/>
<rect x="1184.10" y="1705.29" width="2.80" height="49.71" fill="#241720"/>
<rect x="1188.94" y="1705.29" width="2.80" height="49.71" fill="#241720"/>
<rect x="1193.21" y="1705.29" width="1.80" height="49.71" fill="#2a1a2c"/>
<rect x="1198.59" y="1705.29" width="1.80" height="49.71" fill="#33203a"/>
<rect x="1203.06" y="1705.29" width="2.20" height="49.71" fill="#3b2340"/>
<rect x="1212.00" y="1727.50" width="24.00" height="27.50" fill="#0b090a"/>
<rect x="1214.27" y="1728.00" width="2.20" height="27.00" fill="#33203a"/>
<rect x="1219.70" y="1728.00" width="2.80" height="27.00" fill="#241720"/>
<rect x="1224.43" y="1728.00" width="2.20" height="27.00" fill="#85367f"/>
<rect x="1229.55" y="1728.00" width="1.80" height="27.00" fill="#241720"/>
<rect x="1242.00" y="1743.22" width="24.00" height="11.78" fill="#0b090a"/>
<rect x="1245.14" y="1743.72" width="1.80" height="11.28" fill="#241720"/>
<rect x="1250.76" y="1743.72" width="1.80" height="11.28" fill="#3b2340"/>
<rect x="1255.63" y="1743.72" width="1.80" height="11.28" fill="#33203a"/>
<rect x="1260.42" y="1743.72" width="2.80" height="11.28" fill="#33203a"/>
<rect x="1272.00" y="1751.96" width="24.00" height="3.04" fill="#0b090a"/>
<rect x="1275.14" y="1752.46" width="1.80" height="2.54" fill="#2a1a2c"/>
<rect x="1279.80" y="1752.46" width="1.80" height="2.54" fill="#33203a"/>
<rect x="1284.56" y="1752.46" width="2.20" height="2.54" fill="#85367f"/>
<rect x="1290.09" y="1752.46" width="2.20" height="2.54" fill="#3b2340"/>
<rect x="1302.00" y="1751.96" width="21.00" height="3.04" fill="#0b090a"/>
<rect x="1304.71" y="1752.46" width="2.20" height="2.54" fill="#33203a"/>
<rect x="1309.88" y="1752.46" width="2.20" height="2.54" fill="#241720"/>
<rect x="1315.00" y="1752.46" width="2.20" height="2.54" fill="#85367f"/>
<rect x="1319.56" y="1752.46" width="2.80" height="2.54" fill="#241720"/>
<rect x="1329.00" y="1751.96" width="19.30" height="3.04" fill="#0b090a"/>
<rect x="1330.96" y="1752.46" width="1.80" height="2.54" fill="#33203a"/>
<rect x="1336.48" y="1752.46" width="2.20" height="2.54" fill="#3b2340"/>
<rect x="1341.37" y="1752.46" width="2.20" height="2.54" fill="#85367f"/>
<rect x="1345.77" y="1752.46" width="2.80" height="2.54" fill="#2a1a2c"/>
</g>
<g id="bars9">
<rect x="1514.80" y="1704.75" width="3.40" height="45.05" fill="#7f7c7a"/>
<rect x="1535.80" y="1686.74" width="3.40" height="63.06" fill="#c6c3c1"/>
<rect x="1556.80" y="1615.06" width="3.40" height="134.74" fill="#c6c3c1"/>
<rect x="1580.80" y="1615.87" width="3.40" height="133.93" fill="#dad7d5"/>
<rect x="1601.80" y="1615.87" width="3.40" height="133.93" fill="#cfccca"/>
<rect x="1622.80" y="1604.25" width="3.40" height="145.55" fill="#e3e0de"/>
<rect x="1643.80" y="1524.97" width="3.40" height="224.83" fill="#cfccca"/>
<rect x="1667.80" y="1365.22" width="3.40" height="384.58" fill="#75726f"/>
<rect x="1688.80" y="1464.11" width="3.40" height="285.69" fill="#dad7d5"/>
<rect x="1709.80" y="1523.77" width="3.40" height="226.03" fill="#c6c3c1"/>
<rect x="1733.80" y="1555.00" width="3.40" height="194.80" fill="#dad7d5"/>
<rect x="1754.80" y="1609.06" width="3.40" height="140.74" fill="#c6c3c1"/>
<rect x="1775.80" y="1609.06" width="3.40" height="140.74" fill="#75726f"/>
<rect x="1796.80" y="1667.52" width="3.40" height="82.28" fill="#cfccca"/>
<rect x="1820.80" y="1679.13" width="3.40" height="70.67" fill="#c6c3c1"/>
<rect x="1841.80" y="1682.73" width="3.40" height="67.07" fill="#dad7d5"/>
<rect x="1862.80" y="1682.73" width="3.40" height="67.07" fill="#c6c3c1"/>
<rect x="1886.80" y="1682.73" width="3.40" height="67.07" fill="#dad7d5"/>
<rect x="1907.80" y="1682.73" width="3.40" height="67.07" fill="#cfccca"/>
<rect x="1928.80" y="1658.31" width="3.40" height="91.49" fill="#cfccca"/>
<rect x="1952.80" y="1624.27" width="3.40" height="125.53" fill="#dad7d5"/>
<rect x="1973.80" y="1569.42" width="3.40" height="180.38" fill="#cfccca"/>
<rect x="1994.80" y="1476.53" width="3.40" height="273.27" fill="#e3e0de"/>
<rect x="2015.80" y="1720.37" width="3.40" height="29.43" fill="#dad7d5"/>
<rect x="2039.80" y="1737.19" width="3.40" height="12.61" fill="#c6c3c1"/>
<rect x="2060.80" y="1747.20" width="3.40" height="2.60" fill="#cfccca"/>
<rect x="1496.00" y="1704.75" width="19.00" height="45.05" fill="#0b090a"/>
<rect x="1497.77" y="1705.25" width="1.80" height="44.55" fill="#2a1a2c"/>
<rect x="1503.40" y="1705.25" width="1.80" height="44.55" fill="#3b2340"/>
<rect x="1508.00" y="1705.25" width="1.80" height="44.55" fill="#3b2340"/>
<rect x="1512.43" y="1705.25" width="2.80" height="44.55" fill="#33203a"/>
<rect x="1518.00" y="1686.74" width="18.00" height="63.06" fill="#0b090a"/>
<rect x="1520.24" y="1687.24" width="2.80" height="62.56" fill="#241720"/>
<rect x="1524.55" y="1687.24" width="2.80" height="62.56" fill="#241720"/>
<rect x="1528.84" y="1687.24" width="2.20" height="62.56" fill="#2a1a2c"/>
<rect x="1533.34" y="1687.24" width="1.80" height="62.56" fill="#2a1a2c"/>
<rect x="1539.00" y="1615.06" width="18.00" height="134.74" fill="#0b090a"/>
<rect x="1540.65" y="1615.56" width="2.20" height="134.24" fill="#33203a"/>
<rect x="1545.32" y="1615.56" width="2.80" height="134.24" fill="#241720"/>
<rect x="1549.70" y="1615.56" width="1.80" height="134.24" fill="#2a1a2c"/>
<rect x="1554.14" y="1615.56" width="2.80" height="134.24" fill="#33203a"/>
<rect x="1560.00" y="1615.06" width="21.00" height="134.74" fill="#0b090a"/>
<rect x="1562.64" y="1615.56" width="2.20" height="134.24" fill="#85367f"/>
<rect x="1568.15" y="1615.56" width="2.20" height="134.24" fill="#241720"/>
<rect x="1573.04" y="1615.56" width="2.20" height="134.24" fill="#3b2340"/>
<rect x="1578.66" y="1615.56" width="2.80" height="134.24" fill="#2a1a2c"/>
<rect x="1584.00" y="1615.87" width="18.00" height="133.93" fill="#0b090a"/>
<rect x="1586.48" y="1616.37" width="1.80" height="133.43" fill="#241720"/>
<rect x="1591.65" y="1616.37" width="1.80" height="133.43" fill="#241720"/>
<rect x="1597.38" y="1616.37" width="1.80" height="133.43" fill="#33203a"/>
<rect x="1605.00" y="1604.25" width="18.00" height="145.55" fill="#0b090a"/>
<rect x="1607.39" y="1604.75" width="2.80" height="145.05" fill="#33203a"/>
<rect x="1612.24" y="1604.75" width="2.80" height="145.05" fill="#33203a"/>
<rect x="1617.09" y="1604.75" width="2.20" height="145.05" fill="#2a1a2c"/>
<rect x="1626.00" y="1524.97" width="18.00" height="224.83" fill="#0b090a"/>
<rect x="1628.32" y="1525.47" width="1.80" height="224.33" fill="#2a1a2c"/>
<rect x="1632.64" y="1525.47" width="2.80" height="224.33" fill="#33203a"/>
<rect x="1638.42" y="1525.47" width="2.80" height="224.33" fill="#2a1a2c"/>
<rect x="1647.00" y="1448.10" width="21.00" height="301.70" fill="#0b090a"/>
<rect x="1649.21" y="1448.60" width="2.20" height="301.20" fill="#85367f"/>
<rect x="1653.85" y="1448.60" width="2.80" height="301.20" fill="#33203a"/>
<rect x="1658.99" y="1448.60" width="2.20" height="301.20" fill="#33203a"/>
<rect x="1664.14" y="1448.60" width="2.20" height="301.20" fill="#33203a"/>
<rect x="1671.00" y="1365.22" width="18.00" height="384.58" fill="#0b090a"/>
<rect x="1673.87" y="1365.72" width="2.20" height="384.08" fill="#241720"/>
<rect x="1678.39" y="1365.72" width="1.80" height="384.08" fill="#2a1a2c"/>
<rect x="1683.23" y="1365.72" width="2.80" height="384.08" fill="#241720"/>
<rect x="1692.00" y="1464.11" width="18.00" height="285.69" fill="#0b090a"/>
<rect x="1694.42" y="1464.61" width="1.80" height="285.19" fill="#33203a"/>
<rect x="1698.85" y="1464.61" width="1.80" height="285.19" fill="#33203a"/>
<rect x="1703.95" y="1464.61" width="2.20" height="285.19" fill="#241720"/>
<rect x="1713.00" y="1523.77" width="21.00" height="226.03" fill="#0b090a"/>
<rect x="1715.97" y="1524.27" width="1.80" height="225.53" fill="#3b2340"/>
<rect x="1720.67" y="1524.27" width="1.80" height="225.53" fill="#2a1a2c"/>
<rect x="1726.44" y="1524.27" width="2.20" height="225.53" fill="#2a1a2c"/>
<rect x="1730.83" y="1524.27" width="2.20" height="225.53" fill="#85367f"/>
<rect x="1737.00" y="1555.00" width="18.00" height="194.80" fill="#0b090a"/>
<rect x="1739.38" y="1555.50" width="1.80" height="194.30" fill="#241720"/>
<rect x="1744.75" y="1555.50" width="1.80" height="194.30" fill="#33203a"/>
<rect x="1749.47" y="1555.50" width="2.20" height="194.30" fill="#85367f"/>
<rect x="1758.00" y="1609.06" width="18.00" height="140.74" fill="#0b090a"/>
<rect x="1760.29" y="1609.56" width="2.20" height="140.24" fill="#33203a"/>
<rect x="1765.37" y="1609.56" width="2.20" height="140.24" fill="#2a1a2c"/>
<rect x="1770.23" y="1609.56" width="2.80" height="140.24" fill="#241720"/>
<rect x="1779.00" y="1645.90" width="18.00" height="103.90" fill="#0b090a"/>
<rect x="1781.87" y="1646.40" width="2.20" height="103.40" fill="#241720"/>
<rect x="1786.52" y="1646.40" width="2.20" height="103.40" fill="#3b2340"/>
<rect x="1791.71" y="1646.40" width="2.20" height="103.40" fill="#33203a"/>
<rect x="1800.00" y="1667.52" width="21.00" height="82.28" fill="#0b090a"/>
<rect x="1803.02" y="1668.02" width="2.80" height="81.78" fill="#33203a"/>
<rect x="1808.12" y="1668.02" width="2.20" height="81.78" fill="#85367f"/>
<rect x="1813.55" y="1668.02" width="1.80" height="81.78" fill="#3b2340"/>
<rect x="1818.42" y="1668.02" width="1.80" height="81.78" fill="#2a1a2c"/>
<rect x="1824.00" y="1679.13" width="18.00" height="70.67" fill="#0b090a"/>
<rect x="1826.24" y="1679.63" width="2.20" height="70.17" fill="#85367f"/>
<rect x="1831.72" y="1679.63" width="2.20" height="70.17" fill="#2a1a2c"/>
<rect x="1836.35" y="1679.63" width="2.20" height="70.17" fill="#3b2340"/>
<rect x="1845.00" y="1682.73" width="18.00" height="67.07" fill="#0b090a"/>
<rect x="1847.33" y="1683.23" width="2.80" height="66.57" fill="#241720"/>
<rect x="1853.08" y="1683.23" width="2.20" height="66.57" fill="#2a1a2c"/>
<rect x="1857.44" y="1683.23" width="2.20" height="66.57" fill="#85367f"/>
<rect x="1866.00" y="1682.73" width="21.00" height="67.07" fill="#0b090a"/>
<rect x="1868.08" y="1683.23" width="2.20" height="66.57" fill="#33203a"/>
<rect x="1873.31" y="1683.23" width="2.20" height="66.57" fill="#2a1a2c"/>
<rect x="1877.77" y="1683.23" width="2.20" height="66.57" fill="#85367f"/>
<rect x="1883.23" y="1683.23" width="2.20" height="66.57" fill="#241720"/>
<rect x="1890.00" y="1682.73" width="18.00" height="67.07" fill="#0b090a"/>
<rect x="1892.77" y="1683.23" width="2.20" height="66.57" fill="#85367f"/>
<rect x="1897.44" y="1683.23" width="2.80" height="66.57" fill="#33203a"/>
<rect x="1902.16" y="1683.23" width="2.80" height="66.57" fill="#2a1a2c"/>
<rect x="1911.00" y="1658.31" width="18.00" height="91.49" fill="#0b090a"/>
<rect x="1912.69" y="1658.81" width="1.80" height="90.99" fill="#241720"/>
<rect x="1917.41" y="1658.81" width="2.20" height="90.99" fill="#85367f"/>
<rect x="1922.90" y="1658.81" width="2.20" height="90.99" fill="#33203a"/>
<rect x="1932.00" y="1624.27" width="21.00" height="125.53" fill="#0b090a"/>
<rect x="1933.88" y="1624.77" width="2.20" height="125.03" fill="#2a1a2c"/>
<rect x="1938.30" y="1624.77" width="1.80" height="125.03" fill="#241720"/>
<rect x="1942.90" y="1624.77" width="2.20" height="125.03" fill="#3b2340"/>
<rect x="1947.75" y="1624.77" width="2.20" height="125.03" fill="#2a1a2c"/>
<rect x="1956.00" y="1569.42" width="18.00" height="180.38" fill="#0b090a"/>
<rect x="1957.96" y="1569.92" width="2.20" height="179.88" fill="#85367f"/>
<rect x="1963.30" y="1569.92" width="2.20" height="179.88" fill="#33203a"/>
<rect x="1967.86" y="1569.92" width="2.20" height="179.88" fill="#241720"/>
<rect x="1972.39" y="1569.92" width="1.80" height="179.88" fill="#3b2340"/>
<rect x="1977.00" y="1476.53" width="18.00" height="273.27" fill="#0b090a"/>
<rect x="1980.17" y="1477.03" width="2.20" height="272.77" fill="#33203a"/>
<rect x="1985.42" y="1477.03" width="2.80" height="272.77" fill="#3b2340"/>
<rect x="1991.11" y="1477.03" width="2.20" height="272.77" fill="#3b2340"/>
<rect x="1998.00" y="1462.11" width="18.00" height="287.69" fill="#0b090a"/>
<rect x="2000.31" y="1462.61" width="2.80" height="287.19" fill="#3b2340"/>
<rect x="2004.65" y="1462.61" width="2.80" height="287.19" fill="#2a1a2c"/>
<rect x="2009.97" y="1462.61" width="2.20" height="287.19" fill="#241720"/>
<rect x="2014.21" y="1462.61" width="1.80" height="287.19" fill="#3b2340"/>
<rect x="2019.00" y="1720.37" width="21.00" height="29.43" fill="#0b090a"/>
<rect x="2020.83" y="1720.87" width="2.20" height="28.93" fill="#3b2340"/>
<rect x="2026.60" y="1720.87" width="2.20" height="28.93" fill="#85367f"/>
<rect x="2032.12" y="1720.87" width="2.20" height="28.93" fill="#2a1a2c"/>
<rect x="2037.25" y="1720.87" width="1.80" height="28.93" fill="#3b2340"/>
<rect x="2043.00" y="1737.19" width="18.00" height="12.61" fill="#0b090a"/>
<rect x="2045.44" y="1737.69" width="1.80" height="12.11" fill="#241720"/>
<rect x="2050.96" y="1737.69" width="2.20" height="12.11" fill="#85367f"/>
<rect x="2056.33" y="1737.69" width="1.80" height="12.11" fill="#3b2340"/>
<rect x="2064.00" y="1747.20" width="18.00" height="2.60" fill="#0b090a"/>
<rect x="2065.94" y="1747.70" width="1.80" height="2.10" fill="#3b2340"/>
<rect x="2070.38" y="1747.70" width="2.20" height="2.10" fill="#241720"/>
<rect x="2075.29" y="1747.70" width="2.20" height="2.10" fill="#85367f"/>
<rect x="2079.82" y="1747.70" width="2.80" height="2.10" fill="#3b2340"/>
</g>
</g>
<g filter="url(#softer)">
<g id="labels1">
<rect x="92.20" y="0.00" width="1.20" height="430.80" fill="#b9b6b4"/>
<rect x="93.00" y="0.00" width="3.00" height="432.10" fill="#45413f"/>
<rect x="85.00" y="432.50" width="585.00" height="1.20" fill="#a29f9d"/>
<rect x="85.00" y="428.60" width="585.00" height="4.40" fill="#0a0909"/>
<rect x="85.20" y="429.30" width="8.50" height="3.00" fill="#050505"/>
<rect x="85.20" y="363.30" width="8.50" height="3.00" fill="#050505"/>
<rect x="85.20" y="297.30" width="8.50" height="3.00" fill="#050505"/>
<rect x="85.20" y="231.30" width="8.50" height="3.00" fill="#050505"/>
<rect x="85.20" y="165.30" width="8.50" height="3.00" fill="#050505"/>
<rect x="85.20" y="99.30" width="8.50" height="3.00" fill="#050505"/>
<rect x="85.20" y="33.30" width="8.50" height="3.00" fill="#050505"/>
<rect x="89.00" y="396.30" width="4.70" height="3.00" fill="#050505"/>
<rect x="89.00" y="330.30" width="4.70" height="3.00" fill="#050505"/>
<rect x="89.00" y="264.30" width="4.70" height="3.00" fill="#050505"/>
<rect x="89.00" y="198.30" width="4.70" height="3.00" fill="#050505"/>
<rect x="89.00" y="132.30" width="4.70" height="3.00" fill="#050505"/>
<rect x="89.00" y="66.30" width="4.70" height="3.00" fill="#050505"/>
<rect x="89.00" y="0.30" width="4.70" height="3.00" fill="#050505"/>
<rect x="100.80" y="432.20" width="3.00" height="8.50" fill="#050505"/>
<rect x="188.40" y="432.20" width="3.00" height="8.50" fill="#050505"/>
<rect x="276.00" y="432.20" width="3.00" height="8.50" fill="#050505"/>
<rect x="363.60" y="432.20" width="3.00" height="8.50" fill="#050505"/>
<rect x="451.20" y="432.20" width="3.00" height="8.50" fill="#050505"/>
<rect x="538.80" y="432.20" width="3.00" height="8.50" fill="#050505"/>
<rect x="626.40" y="432.20" width="3.00" height="8.50" fill="#050505"/>
<rect x="144.60" y="432.20" width="3.00" height="4.70" fill="#050505"/>
<rect x="232.20" y="432.20" width="3.00" height="4.70" fill="#050505"/>
<rect x="319.80" y="432.20" width="3.00" height="4.70" fill="#050505"/>
<rect x="407.40" y="432.20" width="3.00" height="4.70" fill="#050505"/>
<rect x="495.00" y="432.20" width="3.00" height="4.70" fill="#050505"/>
<rect x="582.60" y="432.20" width="3.00" height="4.70" fill="#050505"/>
<text transform="translate(79.12 441.85) scale(0.8740 1)" font-family='"Liberation Sans", "Noto Sans CJK SC", sans-serif' font-size="35.49" font-weight="bold" text-anchor="end" fill="#0f0d0e">0</text>
<text transform="translate(79.12 375.85) scale(0.8740 1)" font-family='"Liberation Sans", "Noto Sans CJK SC", sans-serif' font-size="35.49" font-weight="bold" text-anchor="end" fill="#0f0d0e">2</text>
<text transform="translate(79.12 309.85) scale(0.8740 1)" font-family='"Liberation Sans", "Noto Sans CJK SC", sans-serif' font-size="35.49" font-weight="bold" text-anchor="end" fill="#0f0d0e">4</text>
<text transform="translate(79.12 243.85) scale(0.8740 1)" font-family='"Liberation Sans", "Noto Sans CJK SC", sans-serif' font-size="35.49" font-weight="bold" text-anchor="end" fill="#0f0d0e">6</text>
<text transform="translate(79.12 177.85) scale(0.8740 1)" font-family='"Liberation Sans", "Noto Sans CJK SC", sans-serif' font-size="35.49" font-weight="bold" text-anchor="end" fill="#0f0d0e">8</text>
<text transform="translate(79.12 111.85) scale(0.8740 1)" font-family='"Liberation Sans", "Noto Sans CJK SC", sans-serif' font-size="35.49" font-weight="bold" text-anchor="end" fill="#0f0d0e">10</text>
<text transform="translate(79.12 45.85) scale(0.8740 1)" font-family='"Liberation Sans", "Noto Sans CJK SC", sans-serif' font-size="35.49" font-weight="bold" text-anchor="end" fill="#0f0d0e">12</text>
<text transform="translate(102.30 474.82) scale(0.8414 1)" font-family='"Liberation Sans", "Noto Sans CJK SC", sans-serif' font-size="38.45" font-weight="bold" text-anchor="middle" fill="#0f0d0e">15</text>
<text transform="translate(189.90 474.82) scale(0.8414 1)" font-family='"Liberation Sans", "Noto Sans CJK SC", sans-serif' font-size="38.45" font-weight="bold" text-anchor="middle" fill="#0f0d0e">16</text>
<text transform="translate(277.50 474.82) scale(0.8414 1)" font-family='"Liberation Sans", "Noto Sans CJK SC", sans-serif' font-size="38.45" font-weight="bold" text-anchor="middle" fill="#0f0d0e">17</text>
<text transform="translate(365.10 474.82) scale(0.8414 1)" font-family='"Liberation Sans", "Noto Sans CJK SC", sans-serif' font-size="38.45" font-weight="bold" text-anchor="middle" fill="#0f0d0e">18</text>
<text transform="translate(452.70 474.82) scale(0.8414 1)" font-family='"Liberation Sans", "Noto Sans CJK SC", sans-serif' font-size="38.45" font-weight="bold" text-anchor="middle" fill="#0f0d0e">19</text>
<text transform="translate(540.30 474.82) scale(0.8414 1)" font-family='"Liberation Sans", "Noto Sans CJK SC", sans-serif' font-size="38.45" font-weight="bold" text-anchor="middle" fill="#0f0d0e">20</text>
<text transform="translate(627.90 474.82) scale(0.8414 1)" font-family='"Liberation Sans", "Noto Sans CJK SC", sans-serif' font-size="38.45" font-weight="bold" text-anchor="middle" fill="#0f0d0e">21</text>
<text transform="translate(408.05 56.24) scale(0.9442 1)" font-family='"Liberation Sans", "Noto Sans CJK SC", sans-serif' font-size="35.77" font-weight="bold" fill="#0f0d0e">70</text>
<text transform="translate(448.68 55.96) scale(0.9442 1)" font-family='"Liberation Serif", "Noto Serif CJK SC", serif' font-size="32.15" font-weight="normal" stroke="#1b1919" stroke-width="0.8" stroke-linejoin="round" fill="#1b1919">℃</text>
<text transform="translate(269.58 516.66) scale(0.9989 1)" font-family='"Liberation Sans", "Noto Sans CJK SC", sans-serif' font-size="33.71" font-weight="bold" fill="#0f0d0e">Diameter</text>
<text transform="translate(424.01 516.63) scale(0.7025 1)" font-family='"Liberation Serif", "Noto Serif CJK SC", serif' font-size="35.33" font-weight="normal" stroke="#262324" stroke-width="0.3" stroke-linejoin="round" fill="#262324">(</text>
<text transform="translate(484.28 516.63) scale(0.9581 1)" font-family='"Liberation Serif", "Noto Serif CJK SC", serif' font-size="35.33" font-weight="normal" stroke="#262324" stroke-width="0.3" stroke-linejoin="round" fill="#262324">)</text>
<text transform="translate(433.07 516.66) scale(1.0862 1)" font-family='"Liberation Sans", "Noto Sans CJK SC", sans-serif' font-size="33.71" font-weight="bold" fill="#0f0d0e"><tspan font-family='"Liberation Serif", "Noto Serif CJK SC", serif' font-weight="normal">μ</tspan>m</text>
<text transform="translate(26.07 410.04) rotate(-90) scale(1.0420 1)" font-family='"Liberation Sans", "Noto Sans CJK SC", sans-serif' font-size="32.57" font-weight="bold" fill="#0f0d0e">Pore size distribution</text>
</g>
<g id="labels2">
<rect x="783.30" y="10.50" width="1.20" height="432.30" fill="#b9b6b4"/>
<rect x="784.10" y="10.50" width="3.80" height="434.00" fill="#0e0d0d"/>
<rect x="776.50" y="444.50" width="586.50" height="1.20" fill="#a29f9d"/>
<rect x="776.50" y="440.60" width="586.50" height="4.40" fill="#0a0909"/>
<rect x="776.30" y="441.30" width="8.50" height="3.00" fill="#050505"/>
<rect x="776.30" y="390.65" width="8.50" height="3.00" fill="#050505"/>
<rect x="776.30" y="340.00" width="8.50" height="3.00" fill="#050505"/>
<rect x="776.30" y="289.35" width="8.50" height="3.00" fill="#050505"/>
<rect x="776.30" y="238.70" width="8.50" height="3.00" fill="#050505"/>
<rect x="776.30" y="188.05" width="8.50" height="3.00" fill="#050505"/>
<rect x="776.30" y="137.40" width="8.50" height="3.00" fill="#050505"/>
<rect x="776.30" y="86.75" width="8.50" height="3.00" fill="#050505"/>
<rect x="776.30" y="36.10" width="8.50" height="3.00" fill="#050505"/>
<rect x="780.10" y="415.98" width="4.70" height="3.00" fill="#050505"/>
<rect x="780.10" y="365.33" width="4.70" height="3.00" fill="#050505"/>
<rect x="780.10" y="314.68" width="4.70" height="3.00" fill="#050505"/>
<rect x="780.10" y="264.02" width="4.70" height="3.00" fill="#050505"/>
<rect x="780.10" y="213.38" width="4.70" height="3.00" fill="#050505"/>
<rect x="780.10" y="162.73" width="4.70" height="3.00" fill="#050505"/>
<rect x="780.10" y="112.08" width="4.70" height="3.00" fill="#050505"/>
<rect x="780.10" y="61.43" width="4.70" height="3.00" fill="#050505"/>
<rect x="780.10" y="10.78" width="4.70" height="3.00" fill="#050505"/>
<rect x="814.10" y="444.20" width="3.00" height="8.50" fill="#050505"/>
<rect x="894.10" y="444.20" width="3.00" height="8.50" fill="#050505"/>
<rect x="974.10" y="444.20" width="3.00" height="8.50" fill="#050505"/>
<rect x="1054.10" y="444.20" width="3.00" height="8.50" fill="#050505"/>
<rect x="1134.10" y="444.20" width="3.00" height="8.50" fill="#050505"/>
<rect x="1214.10" y="444.20" width="3.00" height="8.50" fill="#050505"/>
<rect x="1294.10" y="444.20" width="3.00" height="8.50" fill="#050505"/>
<rect x="854.10" y="444.20" width="3.00" height="4.70" fill="#050505"/>
<rect x="934.10" y="444.20" width="3.00" height="4.70" fill="#050505"/>
<rect x="1014.10" y="444.20" width="3.00" height="4.70" fill="#050505"/>
<rect x="1094.10" y="444.20" width="3.00" height="4.70" fill="#050505"/>
<rect x="1174.10" y="444.20" width="3.00" height="4.70" fill="#050505"/>
<rect x="1254.10" y="444.20" width="3.00" height="4.70" fill="#050505"/>
<rect x="1334.10" y="444.20" width="3.00" height="4.70" fill="#050505"/>
<text transform="translate(771.08 452.64) scale(0.9127 1)" font-family='"Liberation Sans", "Noto Sans CJK SC", sans-serif' font-size="35.77" font-weight="bold" text-anchor="end" fill="#0f0d0e">0</text>
<text transform="translate(771.08 401.99) scale(0.9127 1)" font-family='"Liberation Sans", "Noto Sans CJK SC", sans-serif' font-size="35.77" font-weight="bold" text-anchor="end" fill="#0f0d0e">1</text>
<text transform="translate(771.08 351.34) scale(0.9127 1)" font-family='"Liberation Sans", "Noto Sans CJK SC", sans-serif' font-size="35.77" font-weight="bold" text-anchor="end" fill="#0f0d0e">2</text>
<text transform="translate(771.08 300.69) scale(0.9127 1)" font-family='"Liberation Sans", "Noto Sans CJK SC", sans-serif' font-size="35.77" font-weight="bold" text-anchor="end" fill="#0f0d0e">3</text>
<text transform="translate(771.08 250.04) scale(0.9127 1)" font-family='"Liberation Sans", "Noto Sans CJK SC", sans-serif' font-size="35.77" font-weight="bold" text-anchor="end" fill="#0f0d0e">4</text>
<text transform="translate(771.08 199.39) scale(0.9127 1)" font-family='"Liberation Sans", "Noto Sans CJK SC", sans-serif' font-size="35.77" font-weight="bold" text-anchor="end" fill="#0f0d0e">5</text>
<text transform="translate(771.08 148.74) scale(0.9127 1)" font-family='"Liberation Sans", "Noto Sans CJK SC", sans-serif' font-size="35.77" font-weight="bold" text-anchor="end" fill="#0f0d0e">6</text>
<text transform="translate(771.08 98.09) scale(0.9127 1)" font-family='"Liberation Sans", "Noto Sans CJK SC", sans-serif' font-size="35.77" font-weight="bold" text-anchor="end" fill="#0f0d0e">7</text>
<text transform="translate(771.08 47.44) scale(0.9127 1)" font-family='"Liberation Sans", "Noto Sans CJK SC", sans-serif' font-size="35.77" font-weight="bold" text-anchor="end" fill="#0f0d0e">8</text>
<text transform="translate(815.60 482.66) scale(0.9908 1)" font-family='"Liberation Sans", "Noto Sans CJK SC", sans-serif' font-size="34.37" font-weight="bold" text-anchor="middle" fill="#0f0d0e">4</text>
<text transform="translate(895.60 482.66) scale(0.9908 1)" font-family='"Liberation Sans", "Noto Sans CJK SC", sans-serif' font-size="34.37" font-weight="bold" text-anchor="middle" fill="#0f0d0e">6</text>
<text transform="translate(975.60 482.66) scale(0.9908 1)" font-family='"Liberation Sans", "Noto Sans CJK SC", sans-serif' font-size="34.37" font-weight="bold" text-anchor="middle" fill="#0f0d0e">8</text>
<text transform="translate(1055.60 482.66) scale(0.9908 1)" font-family='"Liberation Sans", "Noto Sans CJK SC", sans-serif' font-size="34.37" font-weight="bold" text-anchor="middle" fill="#0f0d0e">10</text>
<text transform="translate(1135.60 482.66) scale(0.9908 1)" font-family='"Liberation Sans", "Noto Sans CJK SC", sans-serif' font-size="34.37" font-weight="bold" text-anchor="middle" fill="#0f0d0e">12</text>
<text transform="translate(1215.60 482.66) scale(0.9908 1)" font-family='"Liberation Sans", "Noto Sans CJK SC", sans-serif' font-size="34.37" font-weight="bold" text-anchor="middle" fill="#0f0d0e">14</text>
<text transform="translate(1295.60 482.66) scale(0.9908 1)" font-family='"Liberation Sans", "Noto Sans CJK SC", sans-serif' font-size="34.37" font-weight="bold" text-anchor="middle" fill="#0f0d0e">16</text>
<text transform="translate(1103.95 53.84) scale(0.9348 1)" font-family='"Liberation Sans", "Noto Sans CJK SC", sans-serif' font-size="36.20" font-weight="bold" fill="#0f0d0e">75</text>
<text transform="translate(1144.28 53.55) scale(0.9295 1)" font-family='"Liberation Serif", "Noto Serif CJK SC", serif' font-size="32.53" font-weight="normal" stroke="#1b1919" stroke-width="0.8" stroke-linejoin="round" fill="#1b1919">℃</text>
<text transform="translate(929.86 512.07) scale(1.0396 1)" font-family='"Liberation Sans", "Noto Sans CJK SC", sans-serif' font-size="32.71" font-weight="bold" fill="#0f0d0e">Diameter</text>
<text transform="translate(1070.47 511.99) scale(1.2467 1)" font-family='"Liberation Serif", "Noto Serif CJK SC", serif' font-size="29.04" font-weight="normal" stroke="#262324" stroke-width="0.3" stroke-linejoin="round" fill="#262324">（</text>
<text transform="translate(1162.49 511.99) scale(1.1517 1)" font-family='"Liberation Serif", "Noto Serif CJK SC", serif' font-size="29.04" font-weight="normal" stroke="#262324" stroke-width="0.3" stroke-linejoin="round" fill="#262324">）</text>
<text transform="translate(1109.51 512.07) scale(1.1028 1)" font-family='"Liberation Sans", "Noto Sans CJK SC", sans-serif' font-size="32.71" font-weight="bold" fill="#0f0d0e"><tspan font-family='"Liberation Serif", "Noto Serif CJK SC", serif' font-weight="normal">μ</tspan>m</text>
<text transform="translate(741.93 403.54) rotate(-90) scale(0.9093 1)" font-family='"Liberation Serif", "Noto Serif CJK SC", serif' font-size="37.16" font-weight="bold" fill="#0f0d0e">Pore size distribution</text>
</g>
<g id="labels3">
<rect x="1497.90" y="2.00" width="1.20" height="433.60" fill="#b9b6b4"/>
<rect x="1498.70" y="2.00" width="3.20" height="435.00" fill="#4d4947"/>
<rect x="1490.50" y="436.80" width="590.50" height="1.20" fill="#a29f9d"/>
<rect x="1490.50" y="433.90" width="590.50" height="3.40" fill="#0a0909"/>
<rect x="1490.90" y="434.10" width="8.50" height="3.00" fill="#050505"/>
<rect x="1490.90" y="237.60" width="8.50" height="3.00" fill="#050505"/>
<rect x="1490.90" y="41.10" width="8.50" height="3.00" fill="#050505"/>
<rect x="1494.70" y="335.85" width="4.70" height="3.00" fill="#050505"/>
<rect x="1494.70" y="139.35" width="4.70" height="3.00" fill="#050505"/>
<rect x="1539.60" y="436.50" width="3.00" height="8.50" fill="#050505"/>
<rect x="1608.16" y="436.50" width="3.00" height="8.50" fill="#050505"/>
<rect x="1676.72" y="436.50" width="3.00" height="8.50" fill="#050505"/>
<rect x="1745.28" y="436.50" width="3.00" height="8.50" fill="#050505"/>
<rect x="1813.84" y="436.50" width="3.00" height="8.50" fill="#050505"/>
<rect x="1882.40" y="436.50" width="3.00" height="8.50" fill="#050505"/>
<rect x="1950.96" y="436.50" width="3.00" height="8.50" fill="#050505"/>
<rect x="2019.52" y="436.50" width="3.00" height="8.50" fill="#050505"/>
<rect x="1505.32" y="436.50" width="3.00" height="4.70" fill="#050505"/>
<rect x="1573.88" y="436.50" width="3.00" height="4.70" fill="#050505"/>
<rect x="1642.44" y="436.50" width="3.00" height="4.70" fill="#050505"/>
<rect x="1711.00" y="436.50" width="3.00" height="4.70" fill="#050505"/>
<rect x="1779.56" y="436.50" width="3.00" height="4.70" fill="#050505"/>
<rect x="1848.12" y="436.50" width="3.00" height="4.70" fill="#050505"/>
<rect x="1916.68" y="436.50" width="3.00" height="4.70" fill="#050505"/>
<rect x="1985.24" y="436.50" width="3.00" height="4.70" fill="#050505"/>
<rect x="2053.80" y="436.50" width="3.00" height="4.70" fill="#050505"/>
<text transform="translate(1486.18 447.05) scale(0.9348 1)" font-family='"Liberation Sans", "Noto Sans CJK SC", sans-serif' font-size="34.93" font-weight="bold" text-anchor="end" fill="#0f0d0e">0</text>
<text transform="translate(1486.18 250.55) scale(0.9348 1)" font-family='"Liberation Sans", "Noto Sans CJK SC", sans-serif' font-size="34.93" font-weight="bold" text-anchor="end" fill="#0f0d0e">5</text>
<text transform="translate(1486.18 54.05) scale(0.9348 1)" font-family='"Liberation Sans", "Noto Sans CJK SC", sans-serif' font-size="34.93" font-weight="bold" text-anchor="end" fill="#0f0d0e">10</text>
<text transform="translate(1541.10 477.66) scale(0.9507 1)" font-family='"Liberation Sans", "Noto Sans CJK SC", sans-serif' font-size="34.37" font-weight="bold" text-anchor="middle" fill="#0f0d0e">4</text>
<text transform="translate(1609.66 477.66) scale(0.9507 1)" font-family='"Liberation Sans", "Noto Sans CJK SC", sans-serif' font-size="34.37" font-weight="bold" text-anchor="middle" fill="#0f0d0e">6</text>
<text transform="translate(1678.22 477.66) scale(0.9507 1)" font-family='"Liberation Sans", "Noto Sans CJK SC", sans-serif' font-size="34.37" font-weight="bold" text-anchor="middle" fill="#0f0d0e">8</text>
<text transform="translate(1746.78 477.66) scale(0.9507 1)" font-family='"Liberation Sans", "Noto Sans CJK SC", sans-serif' font-size="34.37" font-weight="bold" text-anchor="middle" fill="#0f0d0e">10</text>
<text transform="translate(1815.34 477.66) scale(0.9507 1)" font-family='"Liberation Sans", "Noto Sans CJK SC", sans-serif' font-size="34.37" font-weight="bold" text-anchor="middle" fill="#0f0d0e">12</text>
<text transform="translate(1883.90 477.66) scale(0.9507 1)" font-family='"Liberation Sans", "Noto Sans CJK SC", sans-serif' font-size="34.37" font-weight="bold" text-anchor="middle" fill="#0f0d0e">14</text>
<text transform="translate(1952.46 477.66) scale(0.9507 1)" font-family='"Liberation Sans", "Noto Sans CJK SC", sans-serif' font-size="34.37" font-weight="bold" text-anchor="middle" fill="#0f0d0e">16</text>
<text transform="translate(2021.02 477.66) scale(0.9507 1)" font-family='"Liberation Sans", "Noto Sans CJK SC", sans-serif' font-size="34.37" font-weight="bold" text-anchor="middle" fill="#0f0d0e">18</text>
<text transform="translate(1763.65 53.84) scale(0.8817 1)" font-family='"Liberation Sans", "Noto Sans CJK SC", sans-serif' font-size="35.77" font-weight="bold" fill="#0f0d0e">80</text>
<text transform="translate(1801.18 53.56) scale(0.9405 1)" font-family='"Liberation Serif", "Noto Serif CJK SC", serif' font-size="32.15" font-weight="normal" stroke="#1b1919" stroke-width="0.8" stroke-linejoin="round" fill="#1b1919">℃</text>
<text transform="translate(1659.06 514.36) scale(1.0095 1)" font-family='"Liberation Sans", "Noto Sans CJK SC", sans-serif' font-size="33.71" font-weight="bold" fill="#0f0d0e">Diameter</text>
<text transform="translate(1797.72 514.29) scale(1.3179 1)" font-family='"Liberation Serif", "Noto Serif CJK SC", serif' font-size="29.04" font-weight="normal" stroke="#262324" stroke-width="0.3" stroke-linejoin="round" fill="#262324">（</text>
<text transform="translate(1889.45 514.29) scale(1.2348 1)" font-family='"Liberation Serif", "Noto Serif CJK SC", serif' font-size="29.04" font-weight="normal" stroke="#262324" stroke-width="0.3" stroke-linejoin="round" fill="#262324">）</text>
<text transform="translate(1841.39 514.36) scale(0.9198 1)" font-family='"Liberation Serif", "Noto Serif CJK SC", serif' font-size="33.71" font-weight="bold" fill="#0f0d0e">μm</text>
<text transform="translate(1432.68 415.25) rotate(-90) scale(1.0599 1)" font-family='"Liberation Sans", "Noto Sans CJK SC", sans-serif' font-size="32.29" font-weight="bold" fill="#0f0d0e">Pore szie distribution</text>
</g>
<g id="labels4">
<rect x="94.00" y="672.20" width="1.20" height="417.80" fill="#b9b6b4"/>
<rect x="94.80" y="672.20" width="3.40" height="419.30" fill="#55514f"/>
<rect x="86.50" y="1091.45" width="568.50" height="1.20" fill="#a29f9d"/>
<rect x="86.50" y="1088.05" width="568.50" height="3.90" fill="#0a0909"/>
<rect x="87.00" y="1088.50" width="8.50" height="3.00" fill="#050505"/>
<rect x="87.00" y="1024.54" width="8.50" height="3.00" fill="#050505"/>
<rect x="87.00" y="960.58" width="8.50" height="3.00" fill="#050505"/>
<rect x="87.00" y="896.62" width="8.50" height="3.00" fill="#050505"/>
<rect x="87.00" y="832.66" width="8.50" height="3.00" fill="#050505"/>
<rect x="87.00" y="768.70" width="8.50" height="3.00" fill="#050505"/>
<rect x="87.00" y="704.74" width="8.50" height="3.00" fill="#050505"/>
<rect x="90.80" y="1056.52" width="4.70" height="3.00" fill="#050505"/>
<rect x="90.80" y="992.56" width="4.70" height="3.00" fill="#050505"/>
<rect x="90.80" y="928.60" width="4.70" height="3.00" fill="#050505"/>
<rect x="90.80" y="864.64" width="4.70" height="3.00" fill="#050505"/>
<rect x="90.80" y="800.68" width="4.70" height="3.00" fill="#050505"/>
<rect x="90.80" y="736.72" width="4.70" height="3.00" fill="#050505"/>
<rect x="90.80" y="672.76" width="4.70" height="3.00" fill="#050505"/>
<rect x="131.70" y="1091.15" width="3.00" height="8.50" fill="#050505"/>
<rect x="195.82" y="1091.15" width="3.00" height="8.50" fill="#050505"/>
<rect x="259.94" y="1091.15" width="3.00" height="8.50" fill="#050505"/>
<rect x="324.06" y="1091.15" width="3.00" height="8.50" fill="#050505"/>
<rect x="388.18" y="1091.15" width="3.00" height="8.50" fill="#050505"/>
<rect x="452.30" y="1091.15" width="3.00" height="8.50" fill="#050505"/>
<rect x="516.42" y="1091.15" width="3.00" height="8.50" fill="#050505"/>
<rect x="580.54" y="1091.15" width="3.00" height="8.50" fill="#050505"/>
<rect x="644.66" y="1091.15" width="3.00" height="8.50" fill="#050505"/>
<rect x="99.64" y="1091.15" width="3.00" height="4.70" fill="#050505"/>
<rect x="163.76" y="1091.15" width="3.00" height="4.70" fill="#050505"/>
<rect x="227.88" y="1091.15" width="3.00" height="4.70" fill="#050505"/>
<rect x="292.00" y="1091.15" width="3.00" height="4.70" fill="#050505"/>
<rect x="356.12" y="1091.15" width="3.00" height="4.70" fill="#050505"/>
<rect x="420.24" y="1091.15" width="3.00" height="4.70" fill="#050505"/>
<rect x="484.36" y="1091.15" width="3.00" height="4.70" fill="#050505"/>
<rect x="548.48" y="1091.15" width="3.00" height="4.70" fill="#050505"/>
<rect x="612.60" y="1091.15" width="3.00" height="4.70" fill="#050505"/>
<text transform="translate(81.50 1099.37) scale(0.9306 1)" font-family='"Liberation Sans", "Noto Sans CJK SC", sans-serif' font-size="32.68" font-weight="bold" text-anchor="end" fill="#0f0d0e">0</text>
<text transform="translate(81.50 1035.41) scale(0.9306 1)" font-family='"Liberation Sans", "Noto Sans CJK SC", sans-serif' font-size="32.68" font-weight="bold" text-anchor="end" fill="#0f0d0e">2</text>
<text transform="translate(81.50 971.45) scale(0.9306 1)" font-family='"Liberation Sans", "Noto Sans CJK SC", sans-serif' font-size="32.68" font-weight="bold" text-anchor="end" fill="#0f0d0e">4</text>
<text transform="translate(81.50 907.49) scale(0.9306 1)" font-family='"Liberation Sans", "Noto Sans CJK SC", sans-serif' font-size="32.68" font-weight="bold" text-anchor="end" fill="#0f0d0e">6</text>
<text transform="translate(81.50 843.53) scale(0.9306 1)" font-family='"Liberation Sans", "Noto Sans CJK SC", sans-serif' font-size="32.68" font-weight="bold" text-anchor="end" fill="#0f0d0e">8</text>
<text transform="translate(81.50 779.57) scale(0.9306 1)" font-family='"Liberation Sans", "Noto Sans CJK SC", sans-serif' font-size="32.68" font-weight="bold" text-anchor="end" fill="#0f0d0e">10</text>
<text transform="translate(81.50 715.61) scale(0.9306 1)" font-family='"Liberation Sans", "Noto Sans CJK SC", sans-serif' font-size="32.68" font-weight="bold" text-anchor="end" fill="#0f0d0e">12</text>
<text transform="translate(133.20 1128.97) scale(0.8941 1)" font-family='"Liberation Sans", "Noto Sans CJK SC", sans-serif' font-size="33.24" font-weight="bold" text-anchor="middle" fill="#0f0d0e">4</text>
<text transform="translate(197.32 1128.97) scale(0.8941 1)" font-family='"Liberation Sans", "Noto Sans CJK SC", sans-serif' font-size="33.24" font-weight="bold" text-anchor="middle" fill="#0f0d0e">6</text>
<text transform="translate(261.44 1128.97) scale(0.8941 1)" font-family='"Liberation Sans", "Noto Sans CJK SC", sans-serif' font-size="33.24" font-weight="bold" text-anchor="middle" fill="#0f0d0e">8</text>
<text transform="translate(325.56 1128.97) scale(0.8941 1)" font-family='"Liberation Sans", "Noto Sans CJK SC", sans-serif' font-size="33.24" font-weight="bold" text-anchor="middle" fill="#0f0d0e">10</text>
<text transform="translate(389.68 1128.97) scale(0.8941 1)" font-family='"Liberation Sans", "Noto Sans CJK SC", sans-serif' font-size="33.24" font-weight="bold" text-anchor="middle" fill="#0f0d0e">12</text>
<text transform="translate(453.80 1128.97) scale(0.8941 1)" font-family='"Liberation Sans", "Noto Sans CJK SC", sans-serif' font-size="33.24" font-weight="bold" text-anchor="middle" fill="#0f0d0e">14</text>
<text transform="translate(517.92 1128.97) scale(0.8941 1)" font-family='"Liberation Sans", "Noto Sans CJK SC", sans-serif' font-size="33.24" font-weight="bold" text-anchor="middle" fill="#0f0d0e">16</text>
<text transform="translate(582.04 1128.97) scale(0.8941 1)" font-family='"Liberation Sans", "Noto Sans CJK SC", sans-serif' font-size="33.24" font-weight="bold" text-anchor="middle" fill="#0f0d0e">18</text>
<text transform="translate(646.16 1128.97) scale(0.8941 1)" font-family='"Liberation Sans", "Noto Sans CJK SC", sans-serif' font-size="33.24" font-weight="bold" text-anchor="middle" fill="#0f0d0e">20</text>
<text transform="translate(328.15 734.24) scale(0.8858 1)" font-family='"Liberation Sans", "Noto Sans CJK SC", sans-serif' font-size="35.92" font-weight="bold" fill="#0f0d0e">85</text>
<text transform="translate(365.68 733.95) scale(0.9368 1)" font-family='"Liberation Serif", "Noto Serif CJK SC", serif' font-size="32.28" font-weight="normal" stroke="#1b1919" stroke-width="0.8" stroke-linejoin="round" fill="#1b1919">℃</text>
<text transform="translate(234.12 1165.65) scale(0.9503 1)" font-family='"Liberation Sans", "Noto Sans CJK SC", sans-serif' font-size="34.71" font-weight="bold" fill="#0f0d0e">Diameter</text>
<text transform="translate(368.87 1164.32) scale(1.3141 1)" font-family='"Liberation Serif", "Noto Serif CJK SC", serif' font-size="27.55" font-weight="normal" stroke="#262324" stroke-width="0.3" stroke-linejoin="round" fill="#262324">（</text>
<text transform="translate(459.54 1164.32) scale(1.1263 1)" font-family='"Liberation Serif", "Noto Serif CJK SC", serif' font-size="27.55" font-weight="normal" stroke="#262324" stroke-width="0.3" stroke-linejoin="round" fill="#262324">）</text>
<text transform="translate(407.36 1165.65) scale(0.9877 1)" font-family='"Liberation Sans", "Noto Sans CJK SC", sans-serif' font-size="34.71" font-weight="bold" fill="#0f0d0e"><tspan font-family='"Liberation Serif", "Noto Serif CJK SC", serif' font-weight="normal">μ</tspan>m</text>
<text transform="translate(30.84 1070.17) rotate(-90) scale(0.9066 1)" font-family='"Liberation Sans", "Noto Sans CJK SC", sans-serif' font-size="36.29" font-weight="bold" fill="#0f0d0e">Pore size distribution</text>
</g>
<g id="labels5">
<rect x="781.40" y="673.30" width="1.20" height="426.20" fill="#b9b6b4"/>
<rect x="782.20" y="673.30" width="3.60" height="427.80" fill="#4a4645"/>
<rect x="776.30" y="1101.30" width="573.70" height="1.20" fill="#a29f9d"/>
<rect x="776.30" y="1097.20" width="573.70" height="4.60" fill="#0a0909"/>
<rect x="774.40" y="1098.00" width="8.50" height="3.00" fill="#050505"/>
<rect x="774.40" y="1050.82" width="8.50" height="3.00" fill="#050505"/>
<rect x="774.40" y="1003.64" width="8.50" height="3.00" fill="#050505"/>
<rect x="774.40" y="956.46" width="8.50" height="3.00" fill="#050505"/>
<rect x="774.40" y="909.28" width="8.50" height="3.00" fill="#050505"/>
<rect x="774.40" y="862.10" width="8.50" height="3.00" fill="#050505"/>
<rect x="774.40" y="814.92" width="8.50" height="3.00" fill="#050505"/>
<rect x="774.40" y="767.74" width="8.50" height="3.00" fill="#050505"/>
<rect x="774.40" y="720.56" width="8.50" height="3.00" fill="#050505"/>
<rect x="774.40" y="673.38" width="8.50" height="3.00" fill="#050505"/>
<rect x="778.20" y="1074.41" width="4.70" height="3.00" fill="#050505"/>
<rect x="778.20" y="1027.23" width="4.70" height="3.00" fill="#050505"/>
<rect x="778.20" y="980.05" width="4.70" height="3.00" fill="#050505"/>
<rect x="778.20" y="932.87" width="4.70" height="3.00" fill="#050505"/>
<rect x="778.20" y="885.69" width="4.70" height="3.00" fill="#050505"/>
<rect x="778.20" y="838.51" width="4.70" height="3.00" fill="#050505"/>
<rect x="778.20" y="791.33" width="4.70" height="3.00" fill="#050505"/>
<rect x="778.20" y="744.15" width="4.70" height="3.00" fill="#050505"/>
<rect x="778.20" y="696.97" width="4.70" height="3.00" fill="#050505"/>
<rect x="805.50" y="1101.00" width="3.00" height="8.50" fill="#050505"/>
<rect x="872.48" y="1101.00" width="3.00" height="8.50" fill="#050505"/>
<rect x="939.46" y="1101.00" width="3.00" height="8.50" fill="#050505"/>
<rect x="1006.44" y="1101.00" width="3.00" height="8.50" fill="#050505"/>
<rect x="1073.42" y="1101.00" width="3.00" height="8.50" fill="#050505"/>
<rect x="1140.40" y="1101.00" width="3.00" height="8.50" fill="#050505"/>
<rect x="1207.38" y="1101.00" width="3.00" height="8.50" fill="#050505"/>
<rect x="1274.36" y="1101.00" width="3.00" height="8.50" fill="#050505"/>
<rect x="1341.34" y="1101.00" width="3.00" height="8.50" fill="#050505"/>
<rect x="838.99" y="1101.00" width="3.00" height="4.70" fill="#050505"/>
<rect x="905.97" y="1101.00" width="3.00" height="4.70" fill="#050505"/>
<rect x="972.95" y="1101.00" width="3.00" height="4.70" fill="#050505"/>
<rect x="1039.93" y="1101.00" width="3.00" height="4.70" fill="#050505"/>
<rect x="1106.91" y="1101.00" width="3.00" height="4.70" fill="#050505"/>
<rect x="1173.89" y="1101.00" width="3.00" height="4.70" fill="#050505"/>
<rect x="1240.87" y="1101.00" width="3.00" height="4.70" fill="#050505"/>
<rect x="1307.85" y="1101.00" width="3.00" height="4.70" fill="#050505"/>
<text transform="translate(769.90 1109.37) scale(0.9306 1)" font-family='"Liberation Sans", "Noto Sans CJK SC", sans-serif' font-size="32.68" font-weight="bold" text-anchor="end" fill="#0f0d0e">0</text>
<text transform="translate(769.90 1062.19) scale(0.9306 1)" font-family='"Liberation Sans", "Noto Sans CJK SC", sans-serif' font-size="32.68" font-weight="bold" text-anchor="end" fill="#0f0d0e">1</text>
<text transform="translate(769.90 1015.01) scale(0.9306 1)" font-family='"Liberation Sans", "Noto Sans CJK SC", sans-serif' font-size="32.68" font-weight="bold" text-anchor="end" fill="#0f0d0e">2</text>
<text transform="translate(769.90 967.83) scale(0.9306 1)" font-family='"Liberation Sans", "Noto Sans CJK SC", sans-serif' font-size="32.68" font-weight="bold" text-anchor="end" fill="#0f0d0e">3</text>
<text transform="translate(769.90 920.65) scale(0.9306 1)" font-family='"Liberation Sans", "Noto Sans CJK SC", sans-serif' font-size="32.68" font-weight="bold" text-anchor="end" fill="#0f0d0e">4</text>
<text transform="translate(769.90 873.47) scale(0.9306 1)" font-family='"Liberation Sans", "Noto Sans CJK SC", sans-serif' font-size="32.68" font-weight="bold" text-anchor="end" fill="#0f0d0e">5</text>
<text transform="translate(769.90 826.29) scale(0.9306 1)" font-family='"Liberation Sans", "Noto Sans CJK SC", sans-serif' font-size="32.68" font-weight="bold" text-anchor="end" fill="#0f0d0e">6</text>
<text transform="translate(769.90 779.11) scale(0.9306 1)" font-family='"Liberation Sans", "Noto Sans CJK SC", sans-serif' font-size="32.68" font-weight="bold" text-anchor="end" fill="#0f0d0e">7</text>
<text transform="translate(769.90 731.93) scale(0.9306 1)" font-family='"Liberation Sans", "Noto Sans CJK SC", sans-serif' font-size="32.68" font-weight="bold" text-anchor="end" fill="#0f0d0e">8</text>
<text transform="translate(769.90 684.75) scale(0.9306 1)" font-family='"Liberation Sans", "Noto Sans CJK SC", sans-serif' font-size="32.68" font-weight="bold" text-anchor="end" fill="#0f0d0e">9</text>
<text transform="translate(807.00 1139.76) scale(0.9278 1)" font-family='"Liberation Sans", "Noto Sans CJK SC", sans-serif' font-size="34.37" font-weight="bold" text-anchor="middle" fill="#0f0d0e">2</text>
<text transform="translate(873.98 1139.76) scale(0.9278 1)" font-family='"Liberation Sans", "Noto Sans CJK SC", sans-serif' font-size="34.37" font-weight="bold" text-anchor="middle" fill="#0f0d0e">4</text>
<text transform="translate(940.96 1139.76) scale(0.9278 1)" font-family='"Liberation Sans", "Noto Sans CJK SC", sans-serif' font-size="34.37" font-weight="bold" text-anchor="middle" fill="#0f0d0e">6</text>
<text transform="translate(1007.94 1139.76) scale(0.9278 1)" font-family='"Liberation Sans", "Noto Sans CJK SC", sans-serif' font-size="34.37" font-weight="bold" text-anchor="middle" fill="#0f0d0e">8</text>
<text transform="translate(1074.92 1139.76) scale(0.9278 1)" font-family='"Liberation Sans", "Noto Sans CJK SC", sans-serif' font-size="34.37" font-weight="bold" text-anchor="middle" fill="#0f0d0e">10</text>
<text transform="translate(1141.90 1139.76) scale(0.9278 1)" font-family='"Liberation Sans", "Noto Sans CJK SC", sans-serif' font-size="34.37" font-weight="bold" text-anchor="middle" fill="#0f0d0e">12</text>
<text transform="translate(1208.88 1139.76) scale(0.9278 1)" font-family='"Liberation Sans", "Noto Sans CJK SC", sans-serif' font-size="34.37" font-weight="bold" text-anchor="middle" fill="#0f0d0e">14</text>
<text transform="translate(1275.86 1139.76) scale(0.9278 1)" font-family='"Liberation Sans", "Noto Sans CJK SC", sans-serif' font-size="34.37" font-weight="bold" text-anchor="middle" fill="#0f0d0e">16</text>
<text transform="translate(1342.84 1139.76) scale(0.9278 1)" font-family='"Liberation Sans", "Noto Sans CJK SC", sans-serif' font-size="34.37" font-weight="bold" text-anchor="middle" fill="#0f0d0e">18</text>
<text transform="translate(1124.45 731.64) scale(0.8863 1)" font-family='"Liberation Sans", "Noto Sans CJK SC", sans-serif' font-size="35.92" font-weight="bold" fill="#0f0d0e">90</text>
<text transform="translate(1162.38 731.35) scale(0.9368 1)" font-family='"Liberation Serif", "Noto Serif CJK SC", serif' font-size="32.28" font-weight="normal" stroke="#1b1919" stroke-width="0.8" stroke-linejoin="round" fill="#1b1919">℃</text>
<text transform="translate(937.72 1180.85) scale(0.9457 1)" font-family='"Liberation Sans", "Noto Sans CJK SC", sans-serif' font-size="34.86" font-weight="bold" fill="#0f0d0e">Diameter</text>
<text transform="translate(1075.66 1179.43) scale(1.2187 1)" font-family='"Liberation Serif", "Noto Serif CJK SC", serif' font-size="27.45" font-weight="normal" stroke="#262324" stroke-width="0.3" stroke-linejoin="round" fill="#262324">（</text>
<text transform="translate(1165.21 1179.43) scale(1.2061 1)" font-family='"Liberation Serif", "Noto Serif CJK SC", serif' font-size="27.45" font-weight="normal" stroke="#262324" stroke-width="0.3" stroke-linejoin="round" fill="#262324">）</text>
<text transform="translate(1112.36 1180.85) scale(0.9837 1)" font-family='"Liberation Sans", "Noto Sans CJK SC", sans-serif' font-size="34.86" font-weight="bold" fill="#0f0d0e"><tspan font-family='"Liberation Serif", "Noto Serif CJK SC", serif' font-weight="normal">μ</tspan>m</text>
<text transform="translate(734.15 1077.99) rotate(-90) scale(0.9349 1)" font-family='"Liberation Sans", "Noto Sans CJK SC", sans-serif' font-size="35.43" font-weight="bold" fill="#0f0d0e">Pore size distribution</text>
</g>
<g id="labels6">
<rect x="1489.90" y="677.70" width="1.20" height="421.80" fill="#b9b6b4"/>
<rect x="1490.70" y="677.70" width="3.60" height="423.40" fill="#1f1d1d"/>
<rect x="1482.50" y="1101.30" width="573.20" height="1.20" fill="#a29f9d"/>
<rect x="1482.50" y="1097.20" width="573.20" height="4.60" fill="#0a0909"/>
<rect x="1482.90" y="1098.00" width="8.50" height="3.00" fill="#050505"/>
<rect x="1482.90" y="1051.31" width="8.50" height="3.00" fill="#050505"/>
<rect x="1482.90" y="1004.62" width="8.50" height="3.00" fill="#050505"/>
<rect x="1482.90" y="957.93" width="8.50" height="3.00" fill="#050505"/>
<rect x="1482.90" y="911.24" width="8.50" height="3.00" fill="#050505"/>
<rect x="1482.90" y="864.55" width="8.50" height="3.00" fill="#050505"/>
<rect x="1482.90" y="817.86" width="8.50" height="3.00" fill="#050505"/>
<rect x="1482.90" y="771.17" width="8.50" height="3.00" fill="#050505"/>
<rect x="1482.90" y="724.48" width="8.50" height="3.00" fill="#050505"/>
<rect x="1482.90" y="677.79" width="8.50" height="3.00" fill="#050505"/>
<rect x="1486.70" y="1074.65" width="4.70" height="3.00" fill="#050505"/>
<rect x="1486.70" y="1027.96" width="4.70" height="3.00" fill="#050505"/>
<rect x="1486.70" y="981.27" width="4.70" height="3.00" fill="#050505"/>
<rect x="1486.70" y="934.59" width="4.70" height="3.00" fill="#050505"/>
<rect x="1486.70" y="887.89" width="4.70" height="3.00" fill="#050505"/>
<rect x="1486.70" y="841.21" width="4.70" height="3.00" fill="#050505"/>
<rect x="1486.70" y="794.51" width="4.70" height="3.00" fill="#050505"/>
<rect x="1486.70" y="747.83" width="4.70" height="3.00" fill="#050505"/>
<rect x="1486.70" y="701.13" width="4.70" height="3.00" fill="#050505"/>
<rect x="1516.70" y="1101.00" width="3.00" height="8.50" fill="#050505"/>
<rect x="1587.14" y="1101.00" width="3.00" height="8.50" fill="#050505"/>
<rect x="1657.58" y="1101.00" width="3.00" height="8.50" fill="#050505"/>
<rect x="1728.02" y="1101.00" width="3.00" height="8.50" fill="#050505"/>
<rect x="1798.46" y="1101.00" width="3.00" height="8.50" fill="#050505"/>
<rect x="1868.90" y="1101.00" width="3.00" height="8.50" fill="#050505"/>
<rect x="1939.34" y="1101.00" width="3.00" height="8.50" fill="#050505"/>
<rect x="2009.78" y="1101.00" width="3.00" height="8.50" fill="#050505"/>
<rect x="1551.92" y="1101.00" width="3.00" height="4.70" fill="#050505"/>
<rect x="1622.36" y="1101.00" width="3.00" height="4.70" fill="#050505"/>
<rect x="1692.80" y="1101.00" width="3.00" height="4.70" fill="#050505"/>
<rect x="1763.24" y="1101.00" width="3.00" height="4.70" fill="#050505"/>
<rect x="1833.68" y="1101.00" width="3.00" height="4.70" fill="#050505"/>
<rect x="1904.12" y="1101.00" width="3.00" height="4.70" fill="#050505"/>
<rect x="1974.56" y="1101.00" width="3.00" height="4.70" fill="#050505"/>
<rect x="2045.00" y="1101.00" width="3.00" height="4.70" fill="#050505"/>
<text transform="translate(1478.34 1109.36) scale(0.9183 1)" font-family='"Liberation Sans", "Noto Sans CJK SC", sans-serif' font-size="34.23" font-weight="bold" text-anchor="end" fill="#0f0d0e">0</text>
<text transform="translate(1478.34 1062.67) scale(0.9183 1)" font-family='"Liberation Sans", "Noto Sans CJK SC", sans-serif' font-size="34.23" font-weight="bold" text-anchor="end" fill="#0f0d0e">1</text>
<text transform="translate(1478.34 1015.98) scale(0.9183 1)" font-family='"Liberation Sans", "Noto Sans CJK SC", sans-serif' font-size="34.23" font-weight="bold" text-anchor="end" fill="#0f0d0e">2</text>
<text transform="translate(1478.34 969.29) scale(0.9183 1)" font-family='"Liberation Sans", "Noto Sans CJK SC", sans-serif' font-size="34.23" font-weight="bold" text-anchor="end" fill="#0f0d0e">3</text>
<text transform="translate(1478.34 922.60) scale(0.9183 1)" font-family='"Liberation Sans", "Noto Sans CJK SC", sans-serif' font-size="34.23" font-weight="bold" text-anchor="end" fill="#0f0d0e">4</text>
<text transform="translate(1478.34 875.91) scale(0.9183 1)" font-family='"Liberation Sans", "Noto Sans CJK SC", sans-serif' font-size="34.23" font-weight="bold" text-anchor="end" fill="#0f0d0e">5</text>
<text transform="translate(1478.34 829.22) scale(0.9183 1)" font-family='"Liberation Sans", "Noto Sans CJK SC", sans-serif' font-size="34.23" font-weight="bold" text-anchor="end" fill="#0f0d0e">6</text>
<text transform="translate(1478.34 782.53) scale(0.9183 1)" font-family='"Liberation Sans", "Noto Sans CJK SC", sans-serif' font-size="34.23" font-weight="bold" text-anchor="end" fill="#0f0d0e">7</text>
<text transform="translate(1478.34 735.84) scale(0.9183 1)" font-family='"Liberation Sans", "Noto Sans CJK SC", sans-serif' font-size="34.23" font-weight="bold" text-anchor="end" fill="#0f0d0e">8</text>
<text transform="translate(1478.34 689.15) scale(0.9183 1)" font-family='"Liberation Sans", "Noto Sans CJK SC", sans-serif' font-size="34.23" font-weight="bold" text-anchor="end" fill="#0f0d0e">9</text>
<text transform="translate(1518.20 1139.16) scale(0.9708 1)" font-family='"Liberation Sans", "Noto Sans CJK SC", sans-serif' font-size="34.37" font-weight="bold" text-anchor="middle" fill="#0f0d0e">4</text>
<text transform="translate(1588.64 1139.16) scale(0.9708 1)" font-family='"Liberation Sans", "Noto Sans CJK SC", sans-serif' font-size="34.37" font-weight="bold" text-anchor="middle" fill="#0f0d0e">6</text>
<text transform="translate(1659.08 1139.16) scale(0.9708 1)" font-family='"Liberation Sans", "Noto Sans CJK SC", sans-serif' font-size="34.37" font-weight="bold" text-anchor="middle" fill="#0f0d0e">8</text>
<text transform="translate(1729.52 1139.16) scale(0.9708 1)" font-family='"Liberation Sans", "Noto Sans CJK SC", sans-serif' font-size="34.37" font-weight="bold" text-anchor="middle" fill="#0f0d0e">10</text>
<text transform="translate(1799.96 1139.16) scale(0.9708 1)" font-family='"Liberation Sans", "Noto Sans CJK SC", sans-serif' font-size="34.37" font-weight="bold" text-anchor="middle" fill="#0f0d0e">12</text>
<text transform="translate(1870.40 1139.16) scale(0.9708 1)" font-family='"Liberation Sans", "Noto Sans CJK SC", sans-serif' font-size="34.37" font-weight="bold" text-anchor="middle" fill="#0f0d0e">14</text>
<text transform="translate(1940.84 1139.16) scale(0.9708 1)" font-family='"Liberation Sans", "Noto Sans CJK SC", sans-serif' font-size="34.37" font-weight="bold" text-anchor="middle" fill="#0f0d0e">16</text>
<text transform="translate(2011.28 1139.16) scale(0.9708 1)" font-family='"Liberation Sans", "Noto Sans CJK SC", sans-serif' font-size="34.37" font-weight="bold" text-anchor="middle" fill="#0f0d0e">18</text>
<text transform="translate(1769.41 722.15) scale(0.9483 1)" font-family='"Liberation Sans", "Noto Sans CJK SC", sans-serif' font-size="34.65" font-weight="bold" fill="#0f0d0e">95</text>
<text transform="translate(1809.08 721.88) scale(0.9711 1)" font-family='"Liberation Serif", "Noto Serif CJK SC", serif' font-size="31.14" font-weight="normal" stroke="#1b1919" stroke-width="0.8" stroke-linejoin="round" fill="#1b1919">℃</text>
<text transform="translate(1644.10 1175.06) scale(0.9883 1)" font-family='"Liberation Sans", "Noto Sans CJK SC", sans-serif' font-size="33.71" font-weight="bold" fill="#0f0d0e">Diameter</text>
<text transform="translate(1781.07 1174.43) scale(1.3192 1)" font-family='"Liberation Serif", "Noto Serif CJK SC", serif' font-size="27.45" font-weight="normal" stroke="#262324" stroke-width="0.3" stroke-linejoin="round" fill="#262324">（</text>
<text transform="translate(1870.75 1174.43) scale(1.3066 1)" font-family='"Liberation Serif", "Noto Serif CJK SC", serif' font-size="27.45" font-weight="normal" stroke="#262324" stroke-width="0.3" stroke-linejoin="round" fill="#262324">）</text>
<text transform="translate(1818.71 1175.06) scale(1.0355 1)" font-family='"Liberation Sans", "Noto Sans CJK SC", sans-serif' font-size="33.71" font-weight="bold" fill="#0f0d0e"><tspan font-family='"Liberation Serif", "Noto Serif CJK SC", serif' font-weight="normal">μ</tspan>m</text>
<text transform="translate(1442.65 1077.97) rotate(-90) scale(0.9479 1)" font-family='"Liberation Sans", "Noto Sans CJK SC", sans-serif' font-size="34.71" font-weight="bold" fill="#0f0d0e">Pore size distribution</text>
</g>
<g id="labels7">
<rect x="94.40" y="1319.30" width="1.20" height="438.50" fill="#b9b6b4"/>
<rect x="95.20" y="1319.30" width="3.60" height="440.10" fill="#100f0f"/>
<rect x="87.40" y="1759.20" width="590.60" height="1.20" fill="#a29f9d"/>
<rect x="87.40" y="1755.90" width="590.60" height="3.80" fill="#0a0909"/>
<rect x="87.40" y="1756.30" width="8.50" height="3.00" fill="#050505"/>
<rect x="87.40" y="1668.94" width="8.50" height="3.00" fill="#050505"/>
<rect x="87.40" y="1581.58" width="8.50" height="3.00" fill="#050505"/>
<rect x="87.40" y="1494.22" width="8.50" height="3.00" fill="#050505"/>
<rect x="87.40" y="1406.86" width="8.50" height="3.00" fill="#050505"/>
<rect x="87.40" y="1319.50" width="8.50" height="3.00" fill="#050505"/>
<rect x="91.20" y="1712.62" width="4.70" height="3.00" fill="#050505"/>
<rect x="91.20" y="1625.26" width="4.70" height="3.00" fill="#050505"/>
<rect x="91.20" y="1537.90" width="4.70" height="3.00" fill="#050505"/>
<rect x="91.20" y="1450.54" width="4.70" height="3.00" fill="#050505"/>
<rect x="91.20" y="1363.18" width="4.70" height="3.00" fill="#050505"/>
<rect x="144.80" y="1758.90" width="3.00" height="8.50" fill="#050505"/>
<rect x="225.46" y="1758.90" width="3.00" height="8.50" fill="#050505"/>
<rect x="306.12" y="1758.90" width="3.00" height="8.50" fill="#050505"/>
<rect x="386.78" y="1758.90" width="3.00" height="8.50" fill="#050505"/>
<rect x="467.44" y="1758.90" width="3.00" height="8.50" fill="#050505"/>
<rect x="548.10" y="1758.90" width="3.00" height="8.50" fill="#050505"/>
<rect x="628.76" y="1758.90" width="3.00" height="8.50" fill="#050505"/>
<rect x="104.47" y="1758.90" width="3.00" height="4.70" fill="#050505"/>
<rect x="185.13" y="1758.90" width="3.00" height="4.70" fill="#050505"/>
<rect x="265.79" y="1758.90" width="3.00" height="4.70" fill="#050505"/>
<rect x="346.45" y="1758.90" width="3.00" height="4.70" fill="#050505"/>
<rect x="427.11" y="1758.90" width="3.00" height="4.70" fill="#050505"/>
<rect x="507.77" y="1758.90" width="3.00" height="4.70" fill="#050505"/>
<rect x="588.43" y="1758.90" width="3.00" height="4.70" fill="#050505"/>
<rect x="669.09" y="1758.90" width="3.00" height="4.70" fill="#050505"/>
<text transform="translate(81.50 1767.96) scale(0.8885 1)" font-family='"Liberation Sans", "Noto Sans CJK SC", sans-serif' font-size="34.23" font-weight="bold" text-anchor="end" fill="#0f0d0e">0</text>
<text transform="translate(81.50 1680.60) scale(0.8885 1)" font-family='"Liberation Sans", "Noto Sans CJK SC", sans-serif' font-size="34.23" font-weight="bold" text-anchor="end" fill="#0f0d0e">2</text>
<text transform="translate(81.50 1593.24) scale(0.8885 1)" font-family='"Liberation Sans", "Noto Sans CJK SC", sans-serif' font-size="34.23" font-weight="bold" text-anchor="end" fill="#0f0d0e">4</text>
<text transform="translate(81.50 1505.88) scale(0.8885 1)" font-family='"Liberation Sans", "Noto Sans CJK SC", sans-serif' font-size="34.23" font-weight="bold" text-anchor="end" fill="#0f0d0e">6</text>
<text transform="translate(81.50 1418.52) scale(0.8885 1)" font-family='"Liberation Sans", "Noto Sans CJK SC", sans-serif' font-size="34.23" font-weight="bold" text-anchor="end" fill="#0f0d0e">8</text>
<text transform="translate(81.50 1331.16) scale(0.8885 1)" font-family='"Liberation Sans", "Noto Sans CJK SC", sans-serif' font-size="34.23" font-weight="bold" text-anchor="end" fill="#0f0d0e">10</text>
<text transform="translate(146.30 1798.54) scale(0.9370 1)" font-family='"Liberation Sans", "Noto Sans CJK SC", sans-serif' font-size="36.34" font-weight="bold" text-anchor="middle" fill="#0f0d0e">4</text>
<text transform="translate(226.96 1798.54) scale(0.9370 1)" font-family='"Liberation Sans", "Noto Sans CJK SC", sans-serif' font-size="36.34" font-weight="bold" text-anchor="middle" fill="#0f0d0e">6</text>
<text transform="translate(307.62 1798.54) scale(0.9370 1)" font-family='"Liberation Sans", "Noto Sans CJK SC", sans-serif' font-size="36.34" font-weight="bold" text-anchor="middle" fill="#0f0d0e">8</text>
<text transform="translate(388.28 1798.54) scale(0.9370 1)" font-family='"Liberation Sans", "Noto Sans CJK SC", sans-serif' font-size="36.34" font-weight="bold" text-anchor="middle" fill="#0f0d0e">10</text>
<text transform="translate(468.94 1798.54) scale(0.9370 1)" font-family='"Liberation Sans", "Noto Sans CJK SC", sans-serif' font-size="36.34" font-weight="bold" text-anchor="middle" fill="#0f0d0e">12</text>
<text transform="translate(549.60 1798.54) scale(0.9370 1)" font-family='"Liberation Sans", "Noto Sans CJK SC", sans-serif' font-size="36.34" font-weight="bold" text-anchor="middle" fill="#0f0d0e">14</text>
<text transform="translate(630.26 1798.54) scale(0.9370 1)" font-family='"Liberation Sans", "Noto Sans CJK SC", sans-serif' font-size="36.34" font-weight="bold" text-anchor="middle" fill="#0f0d0e">16</text>
<text transform="translate(438.09 1373.34) scale(0.9350 1)" font-family='"Liberation Sans", "Noto Sans CJK SC", sans-serif' font-size="35.92" font-weight="bold" fill="#0f0d0e">100</text>
<text transform="translate(495.28 1373.05) scale(1.0290 1)" font-family='"Liberation Serif", "Noto Serif CJK SC", serif' font-size="32.28" font-weight="normal" stroke="#1b1919" stroke-width="0.8" stroke-linejoin="round" fill="#1b1919">℃</text>
<text transform="translate(280.41 1838.15) scale(1.0050 1)" font-family='"Liberation Sans", "Noto Sans CJK SC", sans-serif' font-size="34.71" font-weight="bold" fill="#0f0d0e">Diameter</text>
<text transform="translate(424.29 1836.75) scale(1.2673 1)" font-family='"Liberation Serif", "Noto Serif CJK SC", serif' font-size="28.30" font-weight="normal" stroke="#262324" stroke-width="0.3" stroke-linejoin="round" fill="#262324">（</text>
<text transform="translate(516.81 1836.75) scale(1.1698 1)" font-family='"Liberation Serif", "Noto Serif CJK SC", serif' font-size="28.30" font-weight="normal" stroke="#262324" stroke-width="0.3" stroke-linejoin="round" fill="#262324">）</text>
<text transform="translate(462.27 1838.15) scale(1.0549 1)" font-family='"Liberation Sans", "Noto Sans CJK SC", sans-serif' font-size="34.71" font-weight="bold" fill="#0f0d0e"><tspan font-family='"Liberation Serif", "Noto Serif CJK SC", serif' font-weight="normal">μ</tspan>m</text>
<text transform="translate(38.64 1734.96) rotate(-90) scale(0.9455 1)" font-family='"Liberation Sans", "Noto Sans CJK SC", sans-serif' font-size="36.29" font-weight="bold" fill="#0f0d0e">Pore size distribution</text>
</g>
<g id="labels8">
<rect x="796.60" y="1300.50" width="1.20" height="456.10" fill="#b9b6b4"/>
<rect x="797.40" y="1300.50" width="3.60" height="457.70" fill="#121010"/>
<rect x="789.50" y="1758.40" width="558.80" height="1.20" fill="#a29f9d"/>
<rect x="789.50" y="1754.30" width="558.80" height="4.60" fill="#0a0909"/>
<rect x="789.60" y="1755.10" width="8.50" height="3.00" fill="#050505"/>
<rect x="789.60" y="1685.22" width="8.50" height="3.00" fill="#050505"/>
<rect x="789.60" y="1615.34" width="8.50" height="3.00" fill="#050505"/>
<rect x="789.60" y="1545.46" width="8.50" height="3.00" fill="#050505"/>
<rect x="789.60" y="1475.58" width="8.50" height="3.00" fill="#050505"/>
<rect x="789.60" y="1405.70" width="8.50" height="3.00" fill="#050505"/>
<rect x="789.60" y="1335.82" width="8.50" height="3.00" fill="#050505"/>
<rect x="793.40" y="1720.16" width="4.70" height="3.00" fill="#050505"/>
<rect x="793.40" y="1650.28" width="4.70" height="3.00" fill="#050505"/>
<rect x="793.40" y="1580.40" width="4.70" height="3.00" fill="#050505"/>
<rect x="793.40" y="1510.52" width="4.70" height="3.00" fill="#050505"/>
<rect x="793.40" y="1440.64" width="4.70" height="3.00" fill="#050505"/>
<rect x="793.40" y="1370.76" width="4.70" height="3.00" fill="#050505"/>
<rect x="793.40" y="1300.88" width="4.70" height="3.00" fill="#050505"/>
<rect x="834.70" y="1758.10" width="3.00" height="8.50" fill="#050505"/>
<rect x="894.24" y="1758.10" width="3.00" height="8.50" fill="#050505"/>
<rect x="953.78" y="1758.10" width="3.00" height="8.50" fill="#050505"/>
<rect x="1013.32" y="1758.10" width="3.00" height="8.50" fill="#050505"/>
<rect x="1072.86" y="1758.10" width="3.00" height="8.50" fill="#050505"/>
<rect x="1132.40" y="1758.10" width="3.00" height="8.50" fill="#050505"/>
<rect x="1191.94" y="1758.10" width="3.00" height="8.50" fill="#050505"/>
<rect x="1251.48" y="1758.10" width="3.00" height="8.50" fill="#050505"/>
<rect x="1311.02" y="1758.10" width="3.00" height="8.50" fill="#050505"/>
<rect x="804.93" y="1758.10" width="3.00" height="4.70" fill="#050505"/>
<rect x="864.47" y="1758.10" width="3.00" height="4.70" fill="#050505"/>
<rect x="924.01" y="1758.10" width="3.00" height="4.70" fill="#050505"/>
<rect x="983.55" y="1758.10" width="3.00" height="4.70" fill="#050505"/>
<rect x="1043.09" y="1758.10" width="3.00" height="4.70" fill="#050505"/>
<rect x="1102.63" y="1758.10" width="3.00" height="4.70" fill="#050505"/>
<rect x="1162.17" y="1758.10" width="3.00" height="4.70" fill="#050505"/>
<rect x="1221.71" y="1758.10" width="3.00" height="4.70" fill="#050505"/>
<rect x="1281.25" y="1758.10" width="3.00" height="4.70" fill="#050505"/>
<rect x="1340.79" y="1758.10" width="3.00" height="4.70" fill="#050505"/>
<text transform="translate(783.24 1767.94) scale(0.8671 1)" font-family='"Liberation Sans", "Noto Sans CJK SC", sans-serif' font-size="36.48" font-weight="bold" text-anchor="end" fill="#0f0d0e">0</text>
<text transform="translate(783.24 1698.06) scale(0.8671 1)" font-family='"Liberation Sans", "Noto Sans CJK SC", sans-serif' font-size="36.48" font-weight="bold" text-anchor="end" fill="#0f0d0e">2</text>
<text transform="translate(783.24 1628.18) scale(0.8671 1)" font-family='"Liberation Sans", "Noto Sans CJK SC", sans-serif' font-size="36.48" font-weight="bold" text-anchor="end" fill="#0f0d0e">4</text>
<text transform="translate(783.24 1558.30) scale(0.8671 1)" font-family='"Liberation Sans", "Noto Sans CJK SC", sans-serif' font-size="36.48" font-weight="bold" text-anchor="end" fill="#0f0d0e">6</text>
<text transform="translate(783.24 1488.42) scale(0.8671 1)" font-family='"Liberation Sans", "Noto Sans CJK SC", sans-serif' font-size="36.48" font-weight="bold" text-anchor="end" fill="#0f0d0e">8</text>
<text transform="translate(783.24 1418.54) scale(0.8671 1)" font-family='"Liberation Sans", "Noto Sans CJK SC", sans-serif' font-size="36.48" font-weight="bold" text-anchor="end" fill="#0f0d0e">10</text>
<text transform="translate(783.24 1348.66) scale(0.8671 1)" font-family='"Liberation Sans", "Noto Sans CJK SC", sans-serif' font-size="36.48" font-weight="bold" text-anchor="end" fill="#0f0d0e">12</text>
<text transform="translate(836.20 1800.04) scale(0.9334 1)" font-family='"Liberation Sans", "Noto Sans CJK SC", sans-serif' font-size="36.48" font-weight="bold" text-anchor="middle" fill="#0f0d0e">4</text>
<text transform="translate(895.74 1800.04) scale(0.9334 1)" font-family='"Liberation Sans", "Noto Sans CJK SC", sans-serif' font-size="36.48" font-weight="bold" text-anchor="middle" fill="#0f0d0e">6</text>
<text transform="translate(955.28 1800.04) scale(0.9334 1)" font-family='"Liberation Sans", "Noto Sans CJK SC", sans-serif' font-size="36.48" font-weight="bold" text-anchor="middle" fill="#0f0d0e">8</text>
<text transform="translate(1014.82 1800.04) scale(0.9334 1)" font-family='"Liberation Sans", "Noto Sans CJK SC", sans-serif' font-size="36.48" font-weight="bold" text-anchor="middle" fill="#0f0d0e">10</text>
<text transform="translate(1074.36 1800.04) scale(0.9334 1)" font-family='"Liberation Sans", "Noto Sans CJK SC", sans-serif' font-size="36.48" font-weight="bold" text-anchor="middle" fill="#0f0d0e">12</text>
<text transform="translate(1133.90 1800.04) scale(0.9334 1)" font-family='"Liberation Sans", "Noto Sans CJK SC", sans-serif' font-size="36.48" font-weight="bold" text-anchor="middle" fill="#0f0d0e">14</text>
<text transform="translate(1193.44 1800.04) scale(0.9334 1)" font-family='"Liberation Sans", "Noto Sans CJK SC", sans-serif' font-size="36.48" font-weight="bold" text-anchor="middle" fill="#0f0d0e">16</text>
<text transform="translate(1252.98 1800.04) scale(0.9334 1)" font-family='"Liberation Sans", "Noto Sans CJK SC", sans-serif' font-size="36.48" font-weight="bold" text-anchor="middle" fill="#0f0d0e">18</text>
<text transform="translate(1312.52 1800.04) scale(0.9334 1)" font-family='"Liberation Sans", "Noto Sans CJK SC", sans-serif' font-size="36.48" font-weight="bold" text-anchor="middle" fill="#0f0d0e">20</text>
<text transform="translate(1162.47 1356.92) scale(0.9426 1)" font-family='"Liberation Sans", "Noto Sans CJK SC", sans-serif' font-size="37.75" font-weight="bold" fill="#0f0d0e">105</text>
<text transform="translate(1224.25 1356.62) scale(0.9896 1)" font-family='"Liberation Serif", "Noto Serif CJK SC", serif' font-size="33.92" font-weight="normal" stroke="#1b1919" stroke-width="0.8" stroke-linejoin="round" fill="#1b1919">℃</text>
<text transform="translate(966.05 1835.94) scale(0.9975 1)" font-family='"Liberation Sans", "Noto Sans CJK SC", sans-serif' font-size="35.86" font-weight="bold" fill="#0f0d0e">Diameter</text>
<text transform="translate(1114.39 1835.87) scale(1.1828 1)" font-family='"Liberation Serif", "Noto Serif CJK SC", serif' font-size="30.32" font-weight="normal" stroke="#262324" stroke-width="0.3" stroke-linejoin="round" fill="#262324">（</text>
<text transform="translate(1209.48 1835.87) scale(1.2738 1)" font-family='"Liberation Serif", "Noto Serif CJK SC", serif' font-size="30.32" font-weight="normal" stroke="#262324" stroke-width="0.3" stroke-linejoin="round" fill="#262324">）</text>
<text transform="translate(1154.52 1835.94) scale(1.0387 1)" font-family='"Liberation Sans", "Noto Sans CJK SC", sans-serif' font-size="35.86" font-weight="bold" fill="#0f0d0e"><tspan font-family='"Liberation Serif", "Noto Serif CJK SC", serif' font-weight="normal">μ</tspan>m</text>
<text transform="translate(734.15 1734.56) rotate(-90) scale(1.0139 1)" font-family='"Liberation Sans", "Noto Sans CJK SC", sans-serif' font-size="35.43" font-weight="bold" fill="#0f0d0e">Pore size distribution</text>
</g>
<g id="labels9">
<rect x="1493.70" y="1309.30" width="1.20" height="441.90" fill="#b9b6b4"/>
<rect x="1494.50" y="1309.30" width="3.00" height="443.20" fill="#2b2827"/>
<rect x="1485.30" y="1752.80" width="599.70" height="1.20" fill="#a29f9d"/>
<rect x="1485.30" y="1749.10" width="599.70" height="4.20" fill="#0a0909"/>
<rect x="1486.70" y="1749.70" width="8.50" height="3.00" fill="#050505"/>
<rect x="1486.70" y="1549.50" width="8.50" height="3.00" fill="#050505"/>
<rect x="1486.70" y="1349.30" width="8.50" height="3.00" fill="#050505"/>
<rect x="1490.50" y="1649.60" width="4.70" height="3.00" fill="#050505"/>
<rect x="1490.50" y="1449.40" width="4.70" height="3.00" fill="#050505"/>
<rect x="1503.30" y="1752.50" width="3.00" height="8.50" fill="#050505"/>
<rect x="1590.76" y="1752.50" width="3.00" height="8.50" fill="#050505"/>
<rect x="1678.22" y="1752.50" width="3.00" height="8.50" fill="#050505"/>
<rect x="1765.68" y="1752.50" width="3.00" height="8.50" fill="#050505"/>
<rect x="1853.14" y="1752.50" width="3.00" height="8.50" fill="#050505"/>
<rect x="1940.60" y="1752.50" width="3.00" height="8.50" fill="#050505"/>
<rect x="2028.06" y="1752.50" width="3.00" height="8.50" fill="#050505"/>
<rect x="1547.03" y="1752.50" width="3.00" height="4.70" fill="#050505"/>
<rect x="1634.49" y="1752.50" width="3.00" height="4.70" fill="#050505"/>
<rect x="1721.95" y="1752.50" width="3.00" height="4.70" fill="#050505"/>
<rect x="1809.41" y="1752.50" width="3.00" height="4.70" fill="#050505"/>
<rect x="1896.87" y="1752.50" width="3.00" height="4.70" fill="#050505"/>
<rect x="1984.33" y="1752.50" width="3.00" height="4.70" fill="#050505"/>
<rect x="2071.79" y="1752.50" width="3.00" height="4.70" fill="#050505"/>
<text transform="translate(1481.18 1761.35) scale(0.9348 1)" font-family='"Liberation Sans", "Noto Sans CJK SC", sans-serif' font-size="34.93" font-weight="bold" text-anchor="end" fill="#0f0d0e">0</text>
<text transform="translate(1481.18 1561.15) scale(0.9348 1)" font-family='"Liberation Sans", "Noto Sans CJK SC", sans-serif' font-size="34.93" font-weight="bold" text-anchor="end" fill="#0f0d0e">5</text>
<text transform="translate(1481.18 1360.95) scale(0.9348 1)" font-family='"Liberation Sans", "Noto Sans CJK SC", sans-serif' font-size="34.93" font-weight="bold" text-anchor="end" fill="#0f0d0e">10</text>
<text transform="translate(1504.80 1792.64) scale(0.8964 1)" font-family='"Liberation Sans", "Noto Sans CJK SC", sans-serif' font-size="36.34" font-weight="bold" text-anchor="middle" fill="#0f0d0e">4</text>
<text transform="translate(1592.26 1792.64) scale(0.8964 1)" font-family='"Liberation Sans", "Noto Sans CJK SC", sans-serif' font-size="36.34" font-weight="bold" text-anchor="middle" fill="#0f0d0e">6</text>
<text transform="translate(1679.72 1792.64) scale(0.8964 1)" font-family='"Liberation Sans", "Noto Sans CJK SC", sans-serif' font-size="36.34" font-weight="bold" text-anchor="middle" fill="#0f0d0e">8</text>
<text transform="translate(1767.18 1792.64) scale(0.8964 1)" font-family='"Liberation Sans", "Noto Sans CJK SC", sans-serif' font-size="36.34" font-weight="bold" text-anchor="middle" fill="#0f0d0e">10</text>
<text transform="translate(1854.64 1792.64) scale(0.8964 1)" font-family='"Liberation Sans", "Noto Sans CJK SC", sans-serif' font-size="36.34" font-weight="bold" text-anchor="middle" fill="#0f0d0e">12</text>
<text transform="translate(1942.10 1792.64) scale(0.8964 1)" font-family='"Liberation Sans", "Noto Sans CJK SC", sans-serif' font-size="36.34" font-weight="bold" text-anchor="middle" fill="#0f0d0e">14</text>
<text transform="translate(2029.56 1792.64) scale(0.8964 1)" font-family='"Liberation Sans", "Noto Sans CJK SC", sans-serif' font-size="36.34" font-weight="bold" text-anchor="middle" fill="#0f0d0e">16</text>
<text transform="translate(1827.48 1365.94) scale(0.9704 1)" font-family='"Liberation Sans", "Noto Sans CJK SC", sans-serif' font-size="36.34" font-weight="bold" fill="#0f0d0e">110</text>
<text transform="translate(1885.83 1365.65) scale(1.0389 1)" font-family='"Liberation Serif", "Noto Serif CJK SC", serif' font-size="32.66" font-weight="normal" stroke="#1b1919" stroke-width="0.8" stroke-linejoin="round" fill="#1b1919">℃</text>
<text transform="translate(1672.43 1833.05) scale(0.9913 1)" font-family='"Liberation Sans", "Noto Sans CJK SC", sans-serif' font-size="34.86" font-weight="bold" fill="#0f0d0e">Diameter</text>
<text transform="translate(1831.09 1835.23) scale(0.7893 1)" font-family='"Liberation Serif", "Noto Serif CJK SC", serif' font-size="38.48" font-weight="normal" stroke="#262324" stroke-width="0.3" stroke-linejoin="round" fill="#262324">(</text>
<text transform="translate(1893.75 1835.23) scale(0.8196 1)" font-family='"Liberation Serif", "Noto Serif CJK SC", serif' font-size="38.48" font-weight="normal" stroke="#262324" stroke-width="0.3" stroke-linejoin="round" fill="#262324">)</text>
<text transform="translate(1841.02 1833.05) scale(1.0685 1)" font-family='"Liberation Sans", "Noto Sans CJK SC", sans-serif' font-size="34.86" font-weight="bold" fill="#0f0d0e"><tspan font-family='"Liberation Serif", "Noto Serif CJK SC", serif' font-weight="normal">μ</tspan>m</text>
<text transform="translate(1429.85 1729.49) rotate(-90) scale(0.9824 1)" font-family='"Liberation Sans", "Noto Sans CJK SC", sans-serif' font-size="35.43" font-weight="bold" fill="#0f0d0e">Pore size distribution</text>
</g>
</g>
</svg>
</body>
</html>
